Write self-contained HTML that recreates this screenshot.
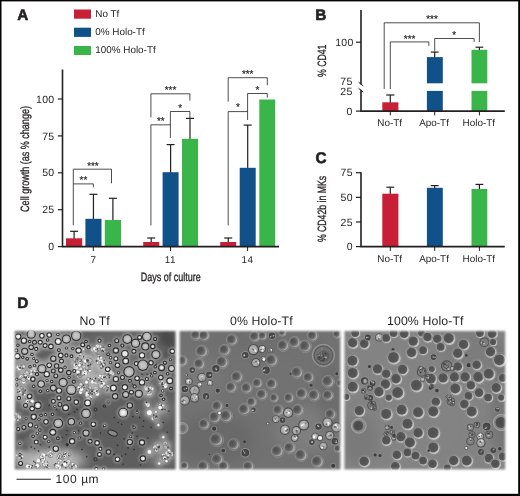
<!DOCTYPE html>
<html lang="en"><head><meta charset="utf-8"><title>Figure</title>
<style>html,body{margin:0;padding:0;background:#fff;}body{width:520px;height:496px;overflow:hidden;}svg{display:block;}text{text-rendering:geometricPrecision;font-family:"Liberation Sans", Arial, Helvetica, sans-serif;fill:#231f20;}</style>
</head><body>
<svg width="520" height="496" viewBox="0 0 520 496">
<rect x="0" y="0" width="520" height="496" fill="#ffffff"/>
<defs>
<filter id="bl0" x="-5%" y="-5%" width="110%" height="110%"><feGaussianBlur stdDeviation="0.42"/></filter>
<filter id="bl1" x="-5%" y="-5%" width="110%" height="110%"><feGaussianBlur stdDeviation="0.48"/></filter>
<filter id="blbig" x="-30%" y="-30%" width="160%" height="160%"><feGaussianBlur stdDeviation="6"/></filter>
<filter id="blhalo" x="-30%" y="-30%" width="160%" height="160%"><feGaussianBlur stdDeviation="0.9"/></filter>
<filter id="blmed" x="-30%" y="-30%" width="160%" height="160%"><feGaussianBlur stdDeviation="2.2"/></filter>
<filter id="feather" x="-5%" y="-5%" width="110%" height="110%"><feGaussianBlur stdDeviation="1.3"/></filter>
<radialGradient id="gd" cx="42%" cy="45%" r="62%"><stop offset="0" stop-color="#484848"/><stop offset="0.7" stop-color="#505050"/><stop offset="1" stop-color="#646464"/></radialGradient>
<radialGradient id="gd1" cx="42%" cy="45%" r="62%"><stop offset="0" stop-color="#505050"/><stop offset="0.7" stop-color="#565656"/><stop offset="1" stop-color="#6a6a6a"/></radialGradient>
<radialGradient id="gd0" cx="36%" cy="38%" r="70%"><stop offset="0" stop-color="#4e4e4e"/><stop offset="0.55" stop-color="#5e5e5e"/><stop offset="1" stop-color="#868686"/></radialGradient>
<radialGradient id="gk" cx="50%" cy="50%" r="60%"><stop offset="0" stop-color="#555"/><stop offset="1" stop-color="#3a3a3a"/></radialGradient>
<radialGradient id="gb" cx="45%" cy="45%" r="60%"><stop offset="0" stop-color="#c4c4c4"/><stop offset="0.7" stop-color="#a4a4a4"/><stop offset="1" stop-color="#7a7a7a"/></radialGradient>
<linearGradient id="rim0" x1="0" y1="0.2" x2="1" y2="0.8"><stop offset="0" stop-color="#6a6a6a"/><stop offset="0.5" stop-color="#8c8c8c"/><stop offset="1" stop-color="#b8b8b8"/></linearGradient>
<linearGradient id="rim1" x1="0.1" y1="0" x2="0.9" y2="1"><stop offset="0" stop-color="#888888"/><stop offset="0.5" stop-color="#a8a8a8"/><stop offset="1" stop-color="#d4d4d4"/></linearGradient>
<mask id="m1"><rect x="14.8" y="331" width="160.8" height="138.4" fill="#fff" filter="url(#feather)"/></mask>
<mask id="m2"><rect x="179.6" y="331" width="160.8" height="138.4" fill="#fff" filter="url(#feather)"/></mask>
<mask id="m3"><rect x="344.4" y="331" width="160.8" height="138.4" fill="#fff" filter="url(#feather)"/></mask>
</defs>
<g mask="url(#m1)">
<rect x="10" y="326" width="170" height="150" fill="#5e5e5e"/>
<g filter="url(#blbig)">
<ellipse cx="45" cy="355" rx="34" ry="26" fill="#9a9a9a" opacity="0.85"/>
<ellipse cx="125" cy="352" rx="45" ry="20" fill="#747474" opacity="0.6"/>
<ellipse cx="162" cy="340" rx="12" ry="9" fill="#505050" opacity="0.8"/>
<ellipse cx="92" cy="372" rx="16" ry="12" fill="#b0b0b0" opacity="0.8"/>
<ellipse cx="21" cy="385" rx="7" ry="24" fill="#989898" opacity="0.8"/>
<ellipse cx="100" cy="390" rx="14" ry="10" fill="#9a9a9a" opacity="0.5"/>
<ellipse cx="150" cy="378" rx="20" ry="12" fill="#7c7c7c" opacity="0.5"/>
<ellipse cx="160" cy="410" rx="12" ry="9" fill="#989898" opacity="0.7"/>
<ellipse cx="50" cy="460" rx="36" ry="10" fill="#c4c4c4" opacity="0.95"/>
<ellipse cx="160" cy="452" rx="13" ry="12" fill="#969696" opacity="0.75"/>
<ellipse cx="24" cy="440" rx="8" ry="14" fill="#8c8c8c" opacity="0.6"/>
<ellipse cx="50" cy="415" rx="26" ry="16" fill="#5c5c5c" opacity="0.6"/>
</g>
<g filter="url(#bl1)">
<circle cx="80.3" cy="362.0" r="7.5" fill="#c8c8c8" opacity="0.75" filter="url(#blmed)"/>
<circle cx="81.9" cy="373.4" r="5.6" fill="#c8c8c8" opacity="0.75" filter="url(#blmed)"/>
<circle cx="88.5" cy="366.9" r="4.7" fill="#c8c8c8" opacity="0.75" filter="url(#blmed)"/>
<circle cx="25.5" cy="376.7" r="5.6" fill="#c8c8c8" opacity="0.75" filter="url(#blmed)"/>
<circle cx="86.8" cy="386.5" r="5.6" fill="#c8c8c8" opacity="0.75" filter="url(#blmed)"/>
<circle cx="91.7" cy="391.4" r="4.7" fill="#c8c8c8" opacity="0.75" filter="url(#blmed)"/>
<circle cx="23.1" cy="391.4" r="4.7" fill="#c8c8c8" opacity="0.75" filter="url(#blmed)"/>
<circle cx="45.1" cy="353.8" r="4.9" fill="#484848" opacity="0.7" filter="url(#blmed)"/>
<circle cx="39.4" cy="355.4" r="3.6" fill="#484848" opacity="0.7" filter="url(#blmed)"/>
<circle cx="50.9" cy="352.2" r="3.3" fill="#484848" opacity="0.7" filter="url(#blmed)"/>
<circle cx="166.6" cy="353.8" r="3.3" fill="#484848" opacity="0.7" filter="url(#blmed)"/>
<circle cx="163.3" cy="383.2" r="4.1" fill="#c8c8c8" opacity="0.75" filter="url(#blmed)"/>
<circle cx="148.6" cy="391.4" r="6.6" fill="#c8c8c8" opacity="0.75" filter="url(#blmed)"/>
<circle cx="101.2" cy="348.9" r="4.7" fill="#c8c8c8" opacity="0.75" filter="url(#blmed)"/>
<circle cx="98.7" cy="358.7" r="3.8" fill="#c8c8c8" opacity="0.75" filter="url(#blmed)"/>
<circle cx="102.8" cy="366.9" r="4.7" fill="#c8c8c8" opacity="0.75" filter="url(#blmed)"/>
<circle cx="109.3" cy="375.0" r="4.7" fill="#c8c8c8" opacity="0.75" filter="url(#blmed)"/>
<circle cx="101.2" cy="381.6" r="5.6" fill="#c8c8c8" opacity="0.75" filter="url(#blmed)"/>
<circle cx="96.3" cy="391.4" r="3.8" fill="#c8c8c8" opacity="0.75" filter="url(#blmed)"/>
<circle cx="168.2" cy="338.3" r="6.5" fill="#484848" opacity="0.7" filter="url(#blmed)"/>
<circle cx="22.3" cy="437.2" r="4.1" fill="#484848" opacity="0.7" filter="url(#blmed)"/>
<circle cx="28.0" cy="433.1" r="2.9" fill="#484848" opacity="0.7" filter="url(#blmed)"/>
<circle cx="24.7" cy="447.0" r="3.6" fill="#484848" opacity="0.7" filter="url(#blmed)"/>
<circle cx="42.7" cy="458.5" r="5.3" fill="#c8c8c8" opacity="0.75" filter="url(#blmed)"/>
<circle cx="50.9" cy="455.2" r="4.1" fill="#c8c8c8" opacity="0.75" filter="url(#blmed)"/>
<circle cx="59.0" cy="457.7" r="5.3" fill="#c8c8c8" opacity="0.75" filter="url(#blmed)"/>
<circle cx="66.4" cy="455.2" r="4.7" fill="#c8c8c8" opacity="0.75" filter="url(#blmed)"/>
<circle cx="36.2" cy="463.4" r="4.1" fill="#c8c8c8" opacity="0.75" filter="url(#blmed)"/>
<circle cx="47.6" cy="465.0" r="4.7" fill="#c8c8c8" opacity="0.75" filter="url(#blmed)"/>
<circle cx="57.4" cy="465.8" r="4.1" fill="#c8c8c8" opacity="0.75" filter="url(#blmed)"/>
<circle cx="65.6" cy="464.2" r="4.7" fill="#c8c8c8" opacity="0.75" filter="url(#blmed)"/>
<circle cx="29.6" cy="466.6" r="3.8" fill="#c8c8c8" opacity="0.75" filter="url(#blmed)"/>
<circle cx="19.8" cy="455.2" r="4.7" fill="#c8c8c8" opacity="0.75" filter="url(#blmed)"/>
<circle cx="72.9" cy="466.6" r="3.8" fill="#c8c8c8" opacity="0.75" filter="url(#blmed)"/>
<circle cx="16.5" cy="417.6" r="4.7" fill="#c8c8c8" opacity="0.75" filter="url(#blmed)"/>
<circle cx="149.4" cy="412.7" r="5.1" fill="#c0c0c0" opacity="0.7" filter="url(#blmed)"/>
<circle cx="161.6" cy="407.8" r="4.7" fill="#c8c8c8" opacity="0.75" filter="url(#blmed)"/>
<circle cx="146.9" cy="403.7" r="2.8" fill="#c8c8c8" opacity="0.75" filter="url(#blmed)"/>
<circle cx="155.9" cy="411.9" r="3.0" fill="#c0c0c0" opacity="0.7" filter="url(#blmed)"/>
<circle cx="158.4" cy="425.0" r="3.3" fill="#c0c0c0" opacity="0.7" filter="url(#blmed)"/>
<circle cx="155.1" cy="417.6" r="3.8" fill="#c8c8c8" opacity="0.75" filter="url(#blmed)"/>
<circle cx="149.4" cy="451.9" r="4.3" fill="#c0c0c0" opacity="0.7" filter="url(#blmed)"/>
<circle cx="158.4" cy="447.0" r="4.7" fill="#c8c8c8" opacity="0.75" filter="url(#blmed)"/>
<circle cx="163.3" cy="437.2" r="3.3" fill="#c0c0c0" opacity="0.7" filter="url(#blmed)"/>
<circle cx="166.6" cy="445.4" r="3.8" fill="#c8c8c8" opacity="0.75" filter="url(#blmed)"/>
<circle cx="169.8" cy="453.6" r="4.7" fill="#c8c8c8" opacity="0.75" filter="url(#blmed)"/>
<circle cx="159.2" cy="463.4" r="3.3" fill="#c0c0c0" opacity="0.7" filter="url(#blmed)"/>
<circle cx="164.9" cy="458.5" r="4.7" fill="#c8c8c8" opacity="0.75" filter="url(#blmed)"/>
<circle cx="173.1" cy="451.9" r="3.3" fill="#484848" opacity="0.7" filter="url(#blmed)"/>
<circle cx="80.0" cy="352.0" r="5.2" fill="#c8c8c8" opacity="0.75" filter="url(#blmed)"/>
<circle cx="88.0" cy="360.0" r="6.3" fill="#c8c8c8" opacity="0.75" filter="url(#blmed)"/>
<circle cx="96.0" cy="350.0" r="5.2" fill="#c8c8c8" opacity="0.75" filter="url(#blmed)"/>
<circle cx="101.0" cy="363.0" r="6.3" fill="#c8c8c8" opacity="0.75" filter="url(#blmed)"/>
<circle cx="84.0" cy="372.0" r="6.3" fill="#c8c8c8" opacity="0.75" filter="url(#blmed)"/>
<circle cx="93.0" cy="381.0" r="6.3" fill="#c8c8c8" opacity="0.75" filter="url(#blmed)"/>
<circle cx="104.0" cy="377.0" r="5.2" fill="#c8c8c8" opacity="0.75" filter="url(#blmed)"/>
<circle cx="80.0" cy="388.0" r="5.2" fill="#c8c8c8" opacity="0.75" filter="url(#blmed)"/>
<circle cx="90.0" cy="395.0" r="5.2" fill="#c8c8c8" opacity="0.75" filter="url(#blmed)"/>
<circle cx="108.0" cy="389.0" r="4.6" fill="#c8c8c8" opacity="0.75" filter="url(#blmed)"/>
<circle cx="76.0" cy="364.0" r="4.6" fill="#c8c8c8" opacity="0.75" filter="url(#blmed)"/>
<circle cx="20.0" cy="368.0" r="4.6" fill="#c8c8c8" opacity="0.75" filter="url(#blmed)"/>
<circle cx="24.0" cy="380.0" r="5.2" fill="#c8c8c8" opacity="0.75" filter="url(#blmed)"/>
<circle cx="20.0" cy="392.0" r="5.2" fill="#c8c8c8" opacity="0.75" filter="url(#blmed)"/>
<circle cx="28.0" cy="401.0" r="5.2" fill="#c8c8c8" opacity="0.75" filter="url(#blmed)"/>
<circle cx="33.0" cy="372.0" r="4.0" fill="#c8c8c8" opacity="0.75" filter="url(#blmed)"/>
<circle cx="167.0" cy="336.0" r="6.0" fill="#484848" opacity="0.7" filter="url(#blmed)"/>
<circle cx="172.0" cy="345.0" r="5.0" fill="#484848" opacity="0.7" filter="url(#blmed)"/>
<circle cx="79.9" cy="362.8" r="1.9" fill="#fcfcfc" stroke="#5a5a5a" stroke-width="0.46"/>
<circle cx="83.3" cy="364.0" r="2.3" fill="#f8f8f8" stroke="#5a5a5a" stroke-width="0.26"/>
<circle cx="79.9" cy="362.1" r="1.2" fill="#dcdcdc" stroke="#5a5a5a" stroke-width="0.26"/>
<circle cx="74.9" cy="359.6" r="1.9" fill="#bebebe" stroke="#5a5a5a" stroke-width="0.49"/>
<circle cx="78.1" cy="360.8" r="2.4" fill="#fcfcfc" stroke="#5a5a5a" stroke-width="0.39"/>
<circle cx="82.0" cy="363.9" r="1.8" fill="#bebebe" stroke="#5a5a5a" stroke-width="0.33"/>
<circle cx="80.7" cy="360.9" r="1.9" fill="#a0a0a0" stroke="#5a5a5a" stroke-width="0.30"/>
<circle cx="83.9" cy="364.5" r="1.8" fill="#bebebe" stroke="#5a5a5a" stroke-width="0.30"/>
<circle cx="79.2" cy="359.6" r="1.5" fill="#bebebe" stroke="#5a5a5a" stroke-width="0.48"/>
<circle cx="79.3" cy="363.1" r="1.3" fill="#fafafa" stroke="#5a5a5a" stroke-width="0.31"/>
<circle cx="77.4" cy="360.5" r="2.2" fill="#a0a0a0" stroke="#5a5a5a" stroke-width="0.36"/>
<circle cx="79.9" cy="361.7" r="1.8" fill="#f8f8f8" stroke="#5a5a5a" stroke-width="0.44"/>
<circle cx="82.1" cy="364.6" r="0.5" fill="#404040"/>
<circle cx="77.8" cy="357.6" r="0.7" fill="#404040"/>
<circle cx="81.7" cy="360.5" r="0.8" fill="#404040"/>
<circle cx="77.1" cy="359.8" r="0.7" fill="#404040"/>
<circle cx="83.6" cy="356.7" r="0.7" fill="#404040"/>
<circle cx="80.1" cy="361.6" r="0.8" fill="#404040"/>
<circle cx="79.1" cy="369.7" r="2.2" fill="#ebebeb" stroke="#5a5a5a" stroke-width="0.43"/>
<circle cx="83.1" cy="372.3" r="2.3" fill="#ebebeb" stroke="#5a5a5a" stroke-width="0.29"/>
<circle cx="82.1" cy="373.6" r="2.1" fill="#f8f8f8" stroke="#5a5a5a" stroke-width="0.43"/>
<circle cx="78.5" cy="376.0" r="1.7" fill="#f8f8f8" stroke="#5a5a5a" stroke-width="0.36"/>
<circle cx="78.0" cy="372.2" r="2.2" fill="#fafafa" stroke="#5a5a5a" stroke-width="0.39"/>
<circle cx="80.7" cy="369.0" r="2.0" fill="#dcdcdc" stroke="#5a5a5a" stroke-width="0.49"/>
<circle cx="82.4" cy="374.1" r="1.4" fill="#f8f8f8" stroke="#5a5a5a" stroke-width="0.25"/>
<circle cx="82.3" cy="372.7" r="1.5" fill="#f8f8f8" stroke="#5a5a5a" stroke-width="0.35"/>
<circle cx="80.1" cy="375.3" r="2.3" fill="#a0a0a0" stroke="#5a5a5a" stroke-width="0.46"/>
<circle cx="85.0" cy="372.4" r="0.8" fill="#404040"/>
<circle cx="77.8" cy="374.6" r="0.9" fill="#404040"/>
<circle cx="80.8" cy="370.9" r="0.7" fill="#404040"/>
<circle cx="80.1" cy="374.9" r="0.7" fill="#404040"/>
<circle cx="89.9" cy="370.4" r="1.7" fill="#fcfcfc" stroke="#5a5a5a" stroke-width="0.34"/>
<circle cx="88.5" cy="366.9" r="1.3" fill="#fcfcfc" stroke="#5a5a5a" stroke-width="0.49"/>
<circle cx="88.3" cy="366.7" r="1.4" fill="#dcdcdc" stroke="#5a5a5a" stroke-width="0.29"/>
<circle cx="88.4" cy="368.2" r="1.6" fill="#fcfcfc" stroke="#5a5a5a" stroke-width="0.28"/>
<circle cx="84.7" cy="367.2" r="1.7" fill="#ebebeb" stroke="#5a5a5a" stroke-width="0.27"/>
<circle cx="89.5" cy="367.7" r="1.4" fill="#fafafa" stroke="#5a5a5a" stroke-width="0.42"/>
<circle cx="87.7" cy="366.8" r="2.3" fill="#ebebeb" stroke="#5a5a5a" stroke-width="0.29"/>
<circle cx="88.4" cy="366.8" r="1.8" fill="#a0a0a0" stroke="#5a5a5a" stroke-width="0.47"/>
<circle cx="88.1" cy="365.9" r="0.6" fill="#404040"/>
<circle cx="90.0" cy="369.6" r="0.7" fill="#404040"/>
<circle cx="88.7" cy="365.5" r="0.6" fill="#404040"/>
<circle cx="90.0" cy="363.1" r="0.8" fill="#404040"/>
<circle cx="26.8" cy="373.1" r="2.1" fill="#f8f8f8" stroke="#5a5a5a" stroke-width="0.30"/>
<circle cx="22.1" cy="376.8" r="2.4" fill="#fafafa" stroke="#5a5a5a" stroke-width="0.32"/>
<circle cx="25.3" cy="379.9" r="2.3" fill="#dcdcdc" stroke="#5a5a5a" stroke-width="0.45"/>
<circle cx="25.3" cy="375.1" r="2.4" fill="#fcfcfc" stroke="#5a5a5a" stroke-width="0.31"/>
<circle cx="25.7" cy="377.6" r="1.4" fill="#bebebe" stroke="#5a5a5a" stroke-width="0.50"/>
<circle cx="25.5" cy="376.7" r="2.3" fill="#ebebeb" stroke="#5a5a5a" stroke-width="0.45"/>
<circle cx="28.2" cy="378.2" r="2.3" fill="#fafafa" stroke="#5a5a5a" stroke-width="0.43"/>
<circle cx="26.8" cy="380.6" r="1.7" fill="#a0a0a0" stroke="#5a5a5a" stroke-width="0.33"/>
<circle cx="26.9" cy="372.4" r="1.6" fill="#dcdcdc" stroke="#5a5a5a" stroke-width="0.44"/>
<circle cx="26.2" cy="377.1" r="0.9" fill="#404040"/>
<circle cx="28.4" cy="377.2" r="0.7" fill="#404040"/>
<circle cx="23.9" cy="374.2" r="0.7" fill="#404040"/>
<circle cx="21.0" cy="377.4" r="0.6" fill="#404040"/>
<circle cx="86.7" cy="386.4" r="2.1" fill="#a0a0a0" stroke="#5a5a5a" stroke-width="0.41"/>
<circle cx="82.5" cy="385.8" r="1.7" fill="#fafafa" stroke="#5a5a5a" stroke-width="0.30"/>
<circle cx="86.9" cy="386.4" r="1.4" fill="#bebebe" stroke="#5a5a5a" stroke-width="0.31"/>
<circle cx="85.8" cy="385.9" r="1.6" fill="#f8f8f8" stroke="#5a5a5a" stroke-width="0.27"/>
<circle cx="86.5" cy="382.3" r="2.0" fill="#fafafa" stroke="#5a5a5a" stroke-width="0.48"/>
<circle cx="83.1" cy="388.5" r="1.8" fill="#bebebe" stroke="#5a5a5a" stroke-width="0.29"/>
<circle cx="82.8" cy="386.2" r="2.1" fill="#bebebe" stroke="#5a5a5a" stroke-width="0.25"/>
<circle cx="87.1" cy="385.7" r="1.7" fill="#a0a0a0" stroke="#5a5a5a" stroke-width="0.28"/>
<circle cx="89.8" cy="387.7" r="1.8" fill="#dcdcdc" stroke="#5a5a5a" stroke-width="0.45"/>
<circle cx="89.0" cy="388.2" r="0.6" fill="#404040"/>
<circle cx="86.2" cy="390.2" r="0.7" fill="#404040"/>
<circle cx="83.4" cy="385.1" r="0.9" fill="#404040"/>
<circle cx="84.0" cy="387.5" r="0.7" fill="#404040"/>
<circle cx="89.0" cy="391.2" r="1.7" fill="#bebebe" stroke="#5a5a5a" stroke-width="0.45"/>
<circle cx="90.8" cy="391.3" r="1.8" fill="#ebebeb" stroke="#5a5a5a" stroke-width="0.48"/>
<circle cx="92.3" cy="390.9" r="1.7" fill="#dcdcdc" stroke="#5a5a5a" stroke-width="0.28"/>
<circle cx="91.5" cy="391.5" r="1.4" fill="#fcfcfc" stroke="#5a5a5a" stroke-width="0.30"/>
<circle cx="91.6" cy="391.8" r="2.1" fill="#a0a0a0" stroke="#5a5a5a" stroke-width="0.41"/>
<circle cx="91.1" cy="392.1" r="1.3" fill="#dcdcdc" stroke="#5a5a5a" stroke-width="0.30"/>
<circle cx="93.2" cy="390.9" r="1.7" fill="#a0a0a0" stroke="#5a5a5a" stroke-width="0.46"/>
<circle cx="92.6" cy="392.8" r="1.8" fill="#ebebeb" stroke="#5a5a5a" stroke-width="0.36"/>
<circle cx="91.5" cy="391.7" r="0.6" fill="#404040"/>
<circle cx="90.7" cy="393.0" r="0.8" fill="#404040"/>
<circle cx="90.1" cy="392.8" r="0.6" fill="#404040"/>
<circle cx="92.2" cy="391.3" r="0.9" fill="#404040"/>
<circle cx="23.5" cy="394.8" r="1.2" fill="#ebebeb" stroke="#5a5a5a" stroke-width="0.26"/>
<circle cx="23.3" cy="390.3" r="1.3" fill="#dcdcdc" stroke="#5a5a5a" stroke-width="0.46"/>
<circle cx="21.4" cy="388.1" r="1.6" fill="#bebebe" stroke="#5a5a5a" stroke-width="0.48"/>
<circle cx="20.6" cy="390.2" r="1.2" fill="#fcfcfc" stroke="#5a5a5a" stroke-width="0.45"/>
<circle cx="24.5" cy="394.6" r="1.4" fill="#fcfcfc" stroke="#5a5a5a" stroke-width="0.41"/>
<circle cx="23.2" cy="391.1" r="2.2" fill="#fcfcfc" stroke="#5a5a5a" stroke-width="0.32"/>
<circle cx="23.1" cy="391.4" r="2.4" fill="#dcdcdc" stroke="#5a5a5a" stroke-width="0.48"/>
<circle cx="23.0" cy="391.9" r="1.8" fill="#f8f8f8" stroke="#5a5a5a" stroke-width="0.48"/>
<circle cx="24.1" cy="391.2" r="0.6" fill="#404040"/>
<circle cx="25.4" cy="390.3" r="0.7" fill="#404040"/>
<circle cx="23.6" cy="393.1" r="0.8" fill="#404040"/>
<circle cx="22.7" cy="394.6" r="0.9" fill="#404040"/>
<circle cx="163.3" cy="383.2" r="1.8" fill="#f8f8f8" stroke="#5a5a5a" stroke-width="0.38"/>
<circle cx="163.3" cy="384.7" r="2.0" fill="#a0a0a0" stroke="#5a5a5a" stroke-width="0.36"/>
<circle cx="160.4" cy="383.3" r="1.6" fill="#bebebe" stroke="#5a5a5a" stroke-width="0.33"/>
<circle cx="163.5" cy="384.0" r="1.4" fill="#a0a0a0" stroke="#5a5a5a" stroke-width="0.43"/>
<circle cx="165.4" cy="385.8" r="2.4" fill="#fafafa" stroke="#5a5a5a" stroke-width="0.28"/>
<circle cx="165.6" cy="384.3" r="1.4" fill="#f8f8f8" stroke="#5a5a5a" stroke-width="0.26"/>
<circle cx="162.6" cy="382.1" r="1.8" fill="#ebebeb" stroke="#5a5a5a" stroke-width="0.40"/>
<circle cx="163.2" cy="383.1" r="1.3" fill="#ebebeb" stroke="#5a5a5a" stroke-width="0.36"/>
<circle cx="163.0" cy="386.7" r="0.9" fill="#404040"/>
<circle cx="162.4" cy="383.0" r="0.9" fill="#404040"/>
<circle cx="162.8" cy="384.4" r="0.5" fill="#404040"/>
<circle cx="162.0" cy="384.4" r="0.7" fill="#404040"/>
<circle cx="149.4" cy="394.0" r="1.1" fill="#ebebeb" stroke="#5a5a5a" stroke-width="0.45"/>
<circle cx="150.5" cy="393.9" r="1.6" fill="#ebebeb" stroke="#5a5a5a" stroke-width="0.33"/>
<circle cx="148.9" cy="394.5" r="1.8" fill="#fafafa" stroke="#5a5a5a" stroke-width="0.29"/>
<circle cx="151.9" cy="388.7" r="1.9" fill="#fafafa" stroke="#5a5a5a" stroke-width="0.33"/>
<circle cx="149.4" cy="391.3" r="2.0" fill="#a0a0a0" stroke="#5a5a5a" stroke-width="0.29"/>
<circle cx="150.3" cy="387.9" r="1.8" fill="#dcdcdc" stroke="#5a5a5a" stroke-width="0.43"/>
<circle cx="148.9" cy="390.7" r="1.8" fill="#bebebe" stroke="#5a5a5a" stroke-width="0.39"/>
<circle cx="148.6" cy="391.3" r="2.0" fill="#fafafa" stroke="#5a5a5a" stroke-width="0.47"/>
<circle cx="147.0" cy="387.9" r="1.4" fill="#fcfcfc" stroke="#5a5a5a" stroke-width="0.26"/>
<circle cx="145.2" cy="387.4" r="1.6" fill="#dcdcdc" stroke="#5a5a5a" stroke-width="0.39"/>
<circle cx="146.2" cy="388.9" r="2.0" fill="#dcdcdc" stroke="#5a5a5a" stroke-width="0.32"/>
<circle cx="148.2" cy="391.5" r="0.9" fill="#404040"/>
<circle cx="149.0" cy="391.1" r="0.7" fill="#404040"/>
<circle cx="148.5" cy="388.7" r="0.8" fill="#404040"/>
<circle cx="149.3" cy="390.3" r="0.8" fill="#404040"/>
<circle cx="149.0" cy="395.1" r="0.7" fill="#404040"/>
<circle cx="101.3" cy="348.6" r="2.3" fill="#ebebeb" stroke="#5a5a5a" stroke-width="0.44"/>
<circle cx="99.3" cy="347.2" r="1.2" fill="#f8f8f8" stroke="#5a5a5a" stroke-width="0.33"/>
<circle cx="99.6" cy="346.7" r="1.9" fill="#f8f8f8" stroke="#5a5a5a" stroke-width="0.25"/>
<circle cx="102.1" cy="349.3" r="2.0" fill="#a0a0a0" stroke="#5a5a5a" stroke-width="0.30"/>
<circle cx="98.4" cy="349.1" r="1.5" fill="#dcdcdc" stroke="#5a5a5a" stroke-width="0.37"/>
<circle cx="103.7" cy="351.2" r="1.4" fill="#fcfcfc" stroke="#5a5a5a" stroke-width="0.48"/>
<circle cx="102.9" cy="349.1" r="2.2" fill="#dcdcdc" stroke="#5a5a5a" stroke-width="0.50"/>
<circle cx="98.5" cy="351.2" r="2.3" fill="#fcfcfc" stroke="#5a5a5a" stroke-width="0.40"/>
<circle cx="102.5" cy="350.5" r="0.9" fill="#404040"/>
<circle cx="103.4" cy="351.4" r="0.7" fill="#404040"/>
<circle cx="103.3" cy="347.0" r="0.6" fill="#404040"/>
<circle cx="102.8" cy="347.7" r="0.5" fill="#404040"/>
<circle cx="100.2" cy="358.7" r="1.7" fill="#ebebeb" stroke="#5a5a5a" stroke-width="0.43"/>
<circle cx="97.7" cy="359.3" r="1.3" fill="#ebebeb" stroke="#5a5a5a" stroke-width="0.25"/>
<circle cx="98.7" cy="356.1" r="1.3" fill="#f8f8f8" stroke="#5a5a5a" stroke-width="0.43"/>
<circle cx="99.5" cy="358.2" r="1.6" fill="#dcdcdc" stroke="#5a5a5a" stroke-width="0.35"/>
<circle cx="98.9" cy="358.5" r="2.3" fill="#fafafa" stroke="#5a5a5a" stroke-width="0.32"/>
<circle cx="99.0" cy="358.8" r="2.2" fill="#ebebeb" stroke="#5a5a5a" stroke-width="0.41"/>
<circle cx="100.5" cy="361.1" r="1.7" fill="#ebebeb" stroke="#5a5a5a" stroke-width="0.30"/>
<circle cx="96.5" cy="360.9" r="0.9" fill="#404040"/>
<circle cx="99.5" cy="356.8" r="0.9" fill="#404040"/>
<circle cx="100.4" cy="358.0" r="0.8" fill="#404040"/>
<circle cx="105.5" cy="367.7" r="1.7" fill="#fafafa" stroke="#5a5a5a" stroke-width="0.28"/>
<circle cx="104.1" cy="365.5" r="2.3" fill="#bebebe" stroke="#5a5a5a" stroke-width="0.28"/>
<circle cx="101.5" cy="367.1" r="1.5" fill="#a0a0a0" stroke="#5a5a5a" stroke-width="0.43"/>
<circle cx="101.9" cy="365.6" r="1.4" fill="#dcdcdc" stroke="#5a5a5a" stroke-width="0.39"/>
<circle cx="102.3" cy="367.3" r="1.3" fill="#f8f8f8" stroke="#5a5a5a" stroke-width="0.38"/>
<circle cx="103.6" cy="364.9" r="1.7" fill="#ebebeb" stroke="#5a5a5a" stroke-width="0.50"/>
<circle cx="102.3" cy="367.0" r="1.4" fill="#fcfcfc" stroke="#5a5a5a" stroke-width="0.29"/>
<circle cx="101.6" cy="366.4" r="1.6" fill="#fafafa" stroke="#5a5a5a" stroke-width="0.39"/>
<circle cx="105.1" cy="364.9" r="0.7" fill="#404040"/>
<circle cx="101.0" cy="368.0" r="0.7" fill="#404040"/>
<circle cx="102.7" cy="367.1" r="0.6" fill="#404040"/>
<circle cx="103.3" cy="366.8" r="0.7" fill="#404040"/>
<circle cx="107.0" cy="372.6" r="1.4" fill="#ebebeb" stroke="#5a5a5a" stroke-width="0.47"/>
<circle cx="107.5" cy="376.7" r="1.7" fill="#ebebeb" stroke="#5a5a5a" stroke-width="0.46"/>
<circle cx="109.4" cy="375.0" r="1.1" fill="#a0a0a0" stroke="#5a5a5a" stroke-width="0.44"/>
<circle cx="110.6" cy="371.5" r="1.7" fill="#fcfcfc" stroke="#5a5a5a" stroke-width="0.35"/>
<circle cx="112.2" cy="373.6" r="2.2" fill="#dcdcdc" stroke="#5a5a5a" stroke-width="0.31"/>
<circle cx="109.8" cy="375.4" r="1.8" fill="#a0a0a0" stroke="#5a5a5a" stroke-width="0.28"/>
<circle cx="110.6" cy="372.6" r="2.2" fill="#dcdcdc" stroke="#5a5a5a" stroke-width="0.27"/>
<circle cx="109.3" cy="375.0" r="1.3" fill="#bebebe" stroke="#5a5a5a" stroke-width="0.48"/>
<circle cx="108.6" cy="374.1" r="0.6" fill="#404040"/>
<circle cx="109.3" cy="377.6" r="0.8" fill="#404040"/>
<circle cx="109.6" cy="375.2" r="0.7" fill="#404040"/>
<circle cx="108.0" cy="374.2" r="0.6" fill="#404040"/>
<circle cx="101.1" cy="381.5" r="1.5" fill="#dcdcdc" stroke="#5a5a5a" stroke-width="0.32"/>
<circle cx="99.6" cy="385.2" r="1.4" fill="#bebebe" stroke="#5a5a5a" stroke-width="0.31"/>
<circle cx="101.3" cy="386.0" r="2.0" fill="#ebebeb" stroke="#5a5a5a" stroke-width="0.26"/>
<circle cx="102.6" cy="385.4" r="1.9" fill="#fcfcfc" stroke="#5a5a5a" stroke-width="0.31"/>
<circle cx="99.0" cy="377.8" r="1.4" fill="#fcfcfc" stroke="#5a5a5a" stroke-width="0.42"/>
<circle cx="100.8" cy="379.9" r="1.6" fill="#fcfcfc" stroke="#5a5a5a" stroke-width="0.45"/>
<circle cx="101.0" cy="379.2" r="1.4" fill="#f8f8f8" stroke="#5a5a5a" stroke-width="0.33"/>
<circle cx="101.6" cy="380.6" r="1.4" fill="#fafafa" stroke="#5a5a5a" stroke-width="0.47"/>
<circle cx="103.4" cy="383.4" r="1.9" fill="#f8f8f8" stroke="#5a5a5a" stroke-width="0.37"/>
<circle cx="101.4" cy="381.4" r="0.7" fill="#404040"/>
<circle cx="101.4" cy="381.4" r="0.5" fill="#404040"/>
<circle cx="99.5" cy="380.4" r="0.8" fill="#404040"/>
<circle cx="102.1" cy="383.6" r="0.8" fill="#404040"/>
<circle cx="96.1" cy="391.7" r="1.2" fill="#f8f8f8" stroke="#5a5a5a" stroke-width="0.33"/>
<circle cx="97.4" cy="394.1" r="2.1" fill="#fcfcfc" stroke="#5a5a5a" stroke-width="0.33"/>
<circle cx="95.9" cy="388.8" r="2.4" fill="#dcdcdc" stroke="#5a5a5a" stroke-width="0.29"/>
<circle cx="97.1" cy="391.4" r="1.6" fill="#fcfcfc" stroke="#5a5a5a" stroke-width="0.39"/>
<circle cx="96.3" cy="390.2" r="2.1" fill="#ebebeb" stroke="#5a5a5a" stroke-width="0.46"/>
<circle cx="96.1" cy="391.4" r="1.7" fill="#ebebeb" stroke="#5a5a5a" stroke-width="0.39"/>
<circle cx="95.3" cy="391.7" r="2.1" fill="#dcdcdc" stroke="#5a5a5a" stroke-width="0.26"/>
<circle cx="94.0" cy="392.8" r="0.8" fill="#404040"/>
<circle cx="96.4" cy="391.4" r="0.5" fill="#404040"/>
<circle cx="97.0" cy="391.0" r="0.8" fill="#404040"/>
<circle cx="43.9" cy="457.6" r="1.5" fill="#bebebe" stroke="#5a5a5a" stroke-width="0.26"/>
<circle cx="42.6" cy="455.5" r="2.3" fill="#ebebeb" stroke="#5a5a5a" stroke-width="0.25"/>
<circle cx="42.8" cy="454.5" r="1.9" fill="#fcfcfc" stroke="#5a5a5a" stroke-width="0.26"/>
<circle cx="42.9" cy="460.5" r="2.3" fill="#fafafa" stroke="#5a5a5a" stroke-width="0.35"/>
<circle cx="42.7" cy="460.3" r="1.7" fill="#dcdcdc" stroke="#5a5a5a" stroke-width="0.30"/>
<circle cx="43.7" cy="455.4" r="2.2" fill="#fafafa" stroke="#5a5a5a" stroke-width="0.29"/>
<circle cx="43.0" cy="462.2" r="1.7" fill="#fafafa" stroke="#5a5a5a" stroke-width="0.45"/>
<circle cx="43.4" cy="458.9" r="2.1" fill="#f8f8f8" stroke="#5a5a5a" stroke-width="0.35"/>
<circle cx="41.5" cy="456.8" r="1.8" fill="#f8f8f8" stroke="#5a5a5a" stroke-width="0.50"/>
<circle cx="46.0" cy="455.4" r="0.6" fill="#404040"/>
<circle cx="43.1" cy="458.7" r="0.7" fill="#404040"/>
<circle cx="42.2" cy="456.5" r="0.6" fill="#404040"/>
<circle cx="40.2" cy="459.9" r="0.8" fill="#404040"/>
<circle cx="50.8" cy="452.3" r="2.0" fill="#fcfcfc" stroke="#5a5a5a" stroke-width="0.44"/>
<circle cx="50.6" cy="456.1" r="1.4" fill="#ebebeb" stroke="#5a5a5a" stroke-width="0.43"/>
<circle cx="51.1" cy="456.0" r="1.4" fill="#f8f8f8" stroke="#5a5a5a" stroke-width="0.32"/>
<circle cx="51.4" cy="454.9" r="1.2" fill="#ebebeb" stroke="#5a5a5a" stroke-width="0.50"/>
<circle cx="50.1" cy="455.2" r="2.2" fill="#a0a0a0" stroke="#5a5a5a" stroke-width="0.37"/>
<circle cx="50.9" cy="455.2" r="2.2" fill="#f8f8f8" stroke="#5a5a5a" stroke-width="0.46"/>
<circle cx="51.0" cy="455.1" r="1.5" fill="#fcfcfc" stroke="#5a5a5a" stroke-width="0.26"/>
<circle cx="48.6" cy="453.5" r="1.4" fill="#fcfcfc" stroke="#5a5a5a" stroke-width="0.34"/>
<circle cx="51.9" cy="454.0" r="0.6" fill="#404040"/>
<circle cx="51.4" cy="451.9" r="0.5" fill="#404040"/>
<circle cx="49.0" cy="453.9" r="0.6" fill="#404040"/>
<circle cx="50.5" cy="455.6" r="0.6" fill="#404040"/>
<circle cx="59.0" cy="460.3" r="1.9" fill="#f8f8f8" stroke="#5a5a5a" stroke-width="0.45"/>
<circle cx="59.8" cy="456.0" r="1.6" fill="#bebebe" stroke="#5a5a5a" stroke-width="0.33"/>
<circle cx="60.0" cy="461.0" r="1.8" fill="#fcfcfc" stroke="#5a5a5a" stroke-width="0.35"/>
<circle cx="59.8" cy="454.9" r="1.3" fill="#bebebe" stroke="#5a5a5a" stroke-width="0.27"/>
<circle cx="60.6" cy="460.2" r="1.6" fill="#ebebeb" stroke="#5a5a5a" stroke-width="0.42"/>
<circle cx="58.8" cy="457.8" r="2.1" fill="#ebebeb" stroke="#5a5a5a" stroke-width="0.35"/>
<circle cx="62.3" cy="458.0" r="2.1" fill="#a0a0a0" stroke="#5a5a5a" stroke-width="0.30"/>
<circle cx="58.9" cy="456.8" r="1.1" fill="#f8f8f8" stroke="#5a5a5a" stroke-width="0.36"/>
<circle cx="59.8" cy="456.1" r="2.2" fill="#dcdcdc" stroke="#5a5a5a" stroke-width="0.44"/>
<circle cx="59.2" cy="457.8" r="0.6" fill="#404040"/>
<circle cx="59.7" cy="456.0" r="0.7" fill="#404040"/>
<circle cx="62.1" cy="456.2" r="0.6" fill="#404040"/>
<circle cx="58.6" cy="458.3" r="0.6" fill="#404040"/>
<circle cx="67.8" cy="455.8" r="2.1" fill="#fafafa" stroke="#5a5a5a" stroke-width="0.49"/>
<circle cx="66.6" cy="455.7" r="2.3" fill="#dcdcdc" stroke="#5a5a5a" stroke-width="0.33"/>
<circle cx="64.5" cy="453.7" r="1.2" fill="#a0a0a0" stroke="#5a5a5a" stroke-width="0.41"/>
<circle cx="66.7" cy="454.7" r="2.1" fill="#f8f8f8" stroke="#5a5a5a" stroke-width="0.41"/>
<circle cx="65.8" cy="454.7" r="1.7" fill="#bebebe" stroke="#5a5a5a" stroke-width="0.30"/>
<circle cx="64.8" cy="456.4" r="1.6" fill="#fcfcfc" stroke="#5a5a5a" stroke-width="0.29"/>
<circle cx="69.5" cy="454.6" r="1.4" fill="#bebebe" stroke="#5a5a5a" stroke-width="0.46"/>
<circle cx="65.2" cy="452.9" r="1.5" fill="#dcdcdc" stroke="#5a5a5a" stroke-width="0.40"/>
<circle cx="64.0" cy="454.4" r="0.6" fill="#404040"/>
<circle cx="64.3" cy="456.4" r="0.7" fill="#404040"/>
<circle cx="65.4" cy="453.7" r="0.7" fill="#404040"/>
<circle cx="68.9" cy="455.6" r="0.7" fill="#404040"/>
<circle cx="36.4" cy="466.0" r="2.1" fill="#dcdcdc" stroke="#5a5a5a" stroke-width="0.46"/>
<circle cx="36.7" cy="462.1" r="1.2" fill="#ebebeb" stroke="#5a5a5a" stroke-width="0.36"/>
<circle cx="37.4" cy="464.2" r="1.8" fill="#fcfcfc" stroke="#5a5a5a" stroke-width="0.26"/>
<circle cx="38.3" cy="465.7" r="1.5" fill="#a0a0a0" stroke="#5a5a5a" stroke-width="0.38"/>
<circle cx="37.8" cy="464.0" r="1.6" fill="#fafafa" stroke="#5a5a5a" stroke-width="0.28"/>
<circle cx="38.3" cy="460.7" r="2.1" fill="#fafafa" stroke="#5a5a5a" stroke-width="0.28"/>
<circle cx="38.2" cy="465.6" r="1.5" fill="#fafafa" stroke="#5a5a5a" stroke-width="0.48"/>
<circle cx="37.5" cy="465.7" r="2.3" fill="#fcfcfc" stroke="#5a5a5a" stroke-width="0.46"/>
<circle cx="35.5" cy="462.8" r="0.6" fill="#404040"/>
<circle cx="33.7" cy="461.3" r="0.7" fill="#404040"/>
<circle cx="36.1" cy="466.8" r="0.7" fill="#404040"/>
<circle cx="34.3" cy="462.2" r="0.6" fill="#404040"/>
<circle cx="47.1" cy="465.6" r="1.6" fill="#a0a0a0" stroke="#5a5a5a" stroke-width="0.48"/>
<circle cx="46.1" cy="461.9" r="1.3" fill="#fafafa" stroke="#5a5a5a" stroke-width="0.32"/>
<circle cx="47.6" cy="464.8" r="2.2" fill="#fafafa" stroke="#5a5a5a" stroke-width="0.36"/>
<circle cx="44.9" cy="464.7" r="2.3" fill="#ebebeb" stroke="#5a5a5a" stroke-width="0.50"/>
<circle cx="46.5" cy="463.9" r="2.1" fill="#ebebeb" stroke="#5a5a5a" stroke-width="0.34"/>
<circle cx="47.2" cy="465.4" r="1.5" fill="#fcfcfc" stroke="#5a5a5a" stroke-width="0.36"/>
<circle cx="48.9" cy="467.6" r="1.2" fill="#fafafa" stroke="#5a5a5a" stroke-width="0.38"/>
<circle cx="46.2" cy="468.5" r="2.2" fill="#a0a0a0" stroke="#5a5a5a" stroke-width="0.47"/>
<circle cx="47.3" cy="462.0" r="0.6" fill="#404040"/>
<circle cx="46.9" cy="467.5" r="0.7" fill="#404040"/>
<circle cx="47.5" cy="465.2" r="0.7" fill="#404040"/>
<circle cx="47.5" cy="464.9" r="0.5" fill="#404040"/>
<circle cx="56.5" cy="465.4" r="1.8" fill="#bebebe" stroke="#5a5a5a" stroke-width="0.31"/>
<circle cx="55.7" cy="464.8" r="1.4" fill="#bebebe" stroke="#5a5a5a" stroke-width="0.46"/>
<circle cx="57.4" cy="465.9" r="2.1" fill="#a0a0a0" stroke="#5a5a5a" stroke-width="0.29"/>
<circle cx="59.2" cy="467.1" r="2.2" fill="#fafafa" stroke="#5a5a5a" stroke-width="0.32"/>
<circle cx="58.6" cy="462.8" r="1.2" fill="#fafafa" stroke="#5a5a5a" stroke-width="0.39"/>
<circle cx="56.1" cy="467.6" r="1.7" fill="#bebebe" stroke="#5a5a5a" stroke-width="0.43"/>
<circle cx="57.4" cy="468.9" r="1.2" fill="#bebebe" stroke="#5a5a5a" stroke-width="0.26"/>
<circle cx="57.6" cy="466.3" r="2.3" fill="#fcfcfc" stroke="#5a5a5a" stroke-width="0.25"/>
<circle cx="54.2" cy="464.8" r="0.6" fill="#404040"/>
<circle cx="58.1" cy="467.9" r="0.7" fill="#404040"/>
<circle cx="55.6" cy="463.6" r="0.6" fill="#404040"/>
<circle cx="57.0" cy="466.8" r="0.5" fill="#404040"/>
<circle cx="67.9" cy="462.2" r="2.0" fill="#fcfcfc" stroke="#5a5a5a" stroke-width="0.34"/>
<circle cx="62.3" cy="465.6" r="1.2" fill="#a0a0a0" stroke="#5a5a5a" stroke-width="0.36"/>
<circle cx="65.6" cy="464.6" r="1.4" fill="#fcfcfc" stroke="#5a5a5a" stroke-width="0.28"/>
<circle cx="68.4" cy="461.9" r="2.3" fill="#ebebeb" stroke="#5a5a5a" stroke-width="0.43"/>
<circle cx="65.4" cy="466.3" r="1.7" fill="#fafafa" stroke="#5a5a5a" stroke-width="0.48"/>
<circle cx="66.7" cy="464.0" r="2.3" fill="#f8f8f8" stroke="#5a5a5a" stroke-width="0.27"/>
<circle cx="64.9" cy="464.2" r="2.3" fill="#fafafa" stroke="#5a5a5a" stroke-width="0.44"/>
<circle cx="68.3" cy="463.2" r="1.5" fill="#dcdcdc" stroke="#5a5a5a" stroke-width="0.33"/>
<circle cx="65.8" cy="467.9" r="0.8" fill="#404040"/>
<circle cx="64.6" cy="461.7" r="0.9" fill="#404040"/>
<circle cx="62.2" cy="464.9" r="0.8" fill="#404040"/>
<circle cx="66.7" cy="462.8" r="0.8" fill="#404040"/>
<circle cx="28.7" cy="466.2" r="1.4" fill="#bebebe" stroke="#5a5a5a" stroke-width="0.40"/>
<circle cx="29.1" cy="466.4" r="1.1" fill="#fcfcfc" stroke="#5a5a5a" stroke-width="0.28"/>
<circle cx="30.6" cy="466.2" r="1.3" fill="#fcfcfc" stroke="#5a5a5a" stroke-width="0.26"/>
<circle cx="30.9" cy="468.2" r="1.2" fill="#fcfcfc" stroke="#5a5a5a" stroke-width="0.43"/>
<circle cx="31.3" cy="467.4" r="1.6" fill="#fafafa" stroke="#5a5a5a" stroke-width="0.49"/>
<circle cx="27.6" cy="466.2" r="2.2" fill="#fafafa" stroke="#5a5a5a" stroke-width="0.48"/>
<circle cx="29.9" cy="466.5" r="1.4" fill="#fcfcfc" stroke="#5a5a5a" stroke-width="0.26"/>
<circle cx="32.4" cy="465.7" r="0.8" fill="#404040"/>
<circle cx="31.7" cy="467.9" r="0.8" fill="#404040"/>
<circle cx="29.2" cy="466.7" r="0.8" fill="#404040"/>
<circle cx="19.1" cy="454.3" r="1.5" fill="#ebebeb" stroke="#5a5a5a" stroke-width="0.26"/>
<circle cx="19.8" cy="456.3" r="2.0" fill="#ebebeb" stroke="#5a5a5a" stroke-width="0.48"/>
<circle cx="20.1" cy="452.9" r="1.7" fill="#ebebeb" stroke="#5a5a5a" stroke-width="0.40"/>
<circle cx="21.4" cy="455.5" r="1.7" fill="#fafafa" stroke="#5a5a5a" stroke-width="0.27"/>
<circle cx="19.6" cy="455.2" r="1.8" fill="#a0a0a0" stroke="#5a5a5a" stroke-width="0.47"/>
<circle cx="22.5" cy="456.9" r="1.3" fill="#fcfcfc" stroke="#5a5a5a" stroke-width="0.38"/>
<circle cx="19.1" cy="458.0" r="1.2" fill="#ebebeb" stroke="#5a5a5a" stroke-width="0.37"/>
<circle cx="16.7" cy="455.4" r="1.3" fill="#dcdcdc" stroke="#5a5a5a" stroke-width="0.40"/>
<circle cx="21.8" cy="454.6" r="0.7" fill="#404040"/>
<circle cx="21.6" cy="458.0" r="0.9" fill="#404040"/>
<circle cx="19.9" cy="455.9" r="0.9" fill="#404040"/>
<circle cx="20.0" cy="453.2" r="0.9" fill="#404040"/>
<circle cx="72.6" cy="466.5" r="1.5" fill="#fcfcfc" stroke="#5a5a5a" stroke-width="0.35"/>
<circle cx="70.8" cy="468.4" r="1.2" fill="#a0a0a0" stroke="#5a5a5a" stroke-width="0.26"/>
<circle cx="73.2" cy="467.4" r="2.3" fill="#bebebe" stroke="#5a5a5a" stroke-width="0.29"/>
<circle cx="74.9" cy="466.4" r="2.3" fill="#f8f8f8" stroke="#5a5a5a" stroke-width="0.38"/>
<circle cx="73.0" cy="464.3" r="1.9" fill="#ebebeb" stroke="#5a5a5a" stroke-width="0.40"/>
<circle cx="70.3" cy="466.3" r="1.7" fill="#bebebe" stroke="#5a5a5a" stroke-width="0.44"/>
<circle cx="73.6" cy="467.8" r="2.1" fill="#bebebe" stroke="#5a5a5a" stroke-width="0.31"/>
<circle cx="71.9" cy="468.5" r="0.8" fill="#404040"/>
<circle cx="72.1" cy="466.6" r="0.8" fill="#404040"/>
<circle cx="73.9" cy="464.9" r="0.8" fill="#404040"/>
<circle cx="19.3" cy="417.2" r="1.9" fill="#ebebeb" stroke="#5a5a5a" stroke-width="0.29"/>
<circle cx="16.2" cy="418.3" r="2.4" fill="#a0a0a0" stroke="#5a5a5a" stroke-width="0.50"/>
<circle cx="17.8" cy="419.8" r="1.4" fill="#f8f8f8" stroke="#5a5a5a" stroke-width="0.50"/>
<circle cx="17.3" cy="414.9" r="1.7" fill="#f8f8f8" stroke="#5a5a5a" stroke-width="0.28"/>
<circle cx="17.5" cy="417.0" r="2.3" fill="#dcdcdc" stroke="#5a5a5a" stroke-width="0.26"/>
<circle cx="14.1" cy="419.4" r="2.0" fill="#bebebe" stroke="#5a5a5a" stroke-width="0.50"/>
<circle cx="16.5" cy="417.7" r="1.4" fill="#a0a0a0" stroke="#5a5a5a" stroke-width="0.35"/>
<circle cx="16.3" cy="414.1" r="1.7" fill="#bebebe" stroke="#5a5a5a" stroke-width="0.40"/>
<circle cx="14.5" cy="414.9" r="0.8" fill="#404040"/>
<circle cx="14.5" cy="414.7" r="0.8" fill="#404040"/>
<circle cx="15.7" cy="417.1" r="0.6" fill="#404040"/>
<circle cx="17.8" cy="418.9" r="0.6" fill="#404040"/>
<circle cx="149.4" cy="412.7" r="2.9" fill="#f8f8f8" stroke="#555" stroke-width="0.4"/>
<circle cx="160.6" cy="404.5" r="1.4" fill="#dcdcdc" stroke="#5a5a5a" stroke-width="0.43"/>
<circle cx="161.0" cy="407.1" r="1.7" fill="#dcdcdc" stroke="#5a5a5a" stroke-width="0.25"/>
<circle cx="162.9" cy="406.2" r="2.0" fill="#fafafa" stroke="#5a5a5a" stroke-width="0.30"/>
<circle cx="159.9" cy="405.3" r="1.6" fill="#dcdcdc" stroke="#5a5a5a" stroke-width="0.48"/>
<circle cx="162.4" cy="408.4" r="1.4" fill="#a0a0a0" stroke="#5a5a5a" stroke-width="0.45"/>
<circle cx="163.5" cy="407.1" r="1.2" fill="#bebebe" stroke="#5a5a5a" stroke-width="0.36"/>
<circle cx="162.2" cy="409.6" r="1.1" fill="#fafafa" stroke="#5a5a5a" stroke-width="0.46"/>
<circle cx="160.1" cy="407.6" r="2.3" fill="#f8f8f8" stroke="#5a5a5a" stroke-width="0.50"/>
<circle cx="162.5" cy="409.7" r="0.9" fill="#404040"/>
<circle cx="161.3" cy="405.3" r="0.8" fill="#404040"/>
<circle cx="161.6" cy="409.4" r="0.5" fill="#404040"/>
<circle cx="165.0" cy="409.5" r="0.8" fill="#404040"/>
<circle cx="146.3" cy="402.5" r="1.2" fill="#ebebeb" stroke="#5a5a5a" stroke-width="0.44"/>
<circle cx="148.1" cy="403.3" r="1.4" fill="#fafafa" stroke="#5a5a5a" stroke-width="0.49"/>
<circle cx="146.6" cy="403.8" r="2.3" fill="#fcfcfc" stroke="#5a5a5a" stroke-width="0.45"/>
<circle cx="146.2" cy="402.9" r="1.8" fill="#f8f8f8" stroke="#5a5a5a" stroke-width="0.45"/>
<circle cx="147.9" cy="405.0" r="2.2" fill="#fafafa" stroke="#5a5a5a" stroke-width="0.45"/>
<circle cx="146.3" cy="403.9" r="1.8" fill="#f8f8f8" stroke="#5a5a5a" stroke-width="0.44"/>
<circle cx="145.1" cy="404.1" r="0.6" fill="#404040"/>
<circle cx="146.5" cy="402.1" r="0.9" fill="#404040"/>
<circle cx="146.4" cy="402.7" r="0.8" fill="#404040"/>
<circle cx="155.9" cy="411.9" r="1.4" fill="#f8f8f8" stroke="#555" stroke-width="0.4"/>
<circle cx="158.4" cy="425.0" r="1.6" fill="#f8f8f8" stroke="#555" stroke-width="0.4"/>
<circle cx="155.4" cy="416.6" r="2.0" fill="#ebebeb" stroke="#5a5a5a" stroke-width="0.37"/>
<circle cx="153.3" cy="418.5" r="2.0" fill="#ebebeb" stroke="#5a5a5a" stroke-width="0.29"/>
<circle cx="154.7" cy="418.7" r="1.2" fill="#bebebe" stroke="#5a5a5a" stroke-width="0.48"/>
<circle cx="155.2" cy="417.2" r="2.2" fill="#a0a0a0" stroke="#5a5a5a" stroke-width="0.40"/>
<circle cx="154.8" cy="417.1" r="1.2" fill="#ebebeb" stroke="#5a5a5a" stroke-width="0.31"/>
<circle cx="155.5" cy="417.9" r="1.4" fill="#fafafa" stroke="#5a5a5a" stroke-width="0.36"/>
<circle cx="155.3" cy="417.0" r="1.6" fill="#bebebe" stroke="#5a5a5a" stroke-width="0.29"/>
<circle cx="156.6" cy="416.4" r="0.8" fill="#404040"/>
<circle cx="153.7" cy="415.1" r="0.8" fill="#404040"/>
<circle cx="155.5" cy="417.1" r="0.8" fill="#404040"/>
<circle cx="149.4" cy="451.9" r="2.3" fill="#f8f8f8" stroke="#555" stroke-width="0.4"/>
<circle cx="155.6" cy="446.5" r="1.7" fill="#fcfcfc" stroke="#5a5a5a" stroke-width="0.39"/>
<circle cx="158.3" cy="447.9" r="1.3" fill="#dcdcdc" stroke="#5a5a5a" stroke-width="0.39"/>
<circle cx="154.9" cy="447.4" r="2.0" fill="#f8f8f8" stroke="#5a5a5a" stroke-width="0.37"/>
<circle cx="155.1" cy="446.2" r="1.1" fill="#fafafa" stroke="#5a5a5a" stroke-width="0.33"/>
<circle cx="157.7" cy="445.2" r="1.5" fill="#dcdcdc" stroke="#5a5a5a" stroke-width="0.34"/>
<circle cx="155.1" cy="448.9" r="1.2" fill="#a0a0a0" stroke="#5a5a5a" stroke-width="0.34"/>
<circle cx="158.3" cy="447.0" r="1.2" fill="#a0a0a0" stroke="#5a5a5a" stroke-width="0.48"/>
<circle cx="156.5" cy="450.4" r="1.8" fill="#dcdcdc" stroke="#5a5a5a" stroke-width="0.44"/>
<circle cx="158.9" cy="447.7" r="0.7" fill="#404040"/>
<circle cx="158.7" cy="447.3" r="0.8" fill="#404040"/>
<circle cx="156.7" cy="449.7" r="0.7" fill="#404040"/>
<circle cx="159.4" cy="446.4" r="0.6" fill="#404040"/>
<circle cx="163.3" cy="437.2" r="1.6" fill="#f8f8f8" stroke="#555" stroke-width="0.4"/>
<circle cx="166.6" cy="445.6" r="1.5" fill="#ebebeb" stroke="#5a5a5a" stroke-width="0.46"/>
<circle cx="165.3" cy="446.3" r="1.5" fill="#bebebe" stroke="#5a5a5a" stroke-width="0.34"/>
<circle cx="167.0" cy="446.9" r="1.3" fill="#f8f8f8" stroke="#5a5a5a" stroke-width="0.33"/>
<circle cx="166.0" cy="447.1" r="1.9" fill="#fafafa" stroke="#5a5a5a" stroke-width="0.50"/>
<circle cx="165.2" cy="446.4" r="1.6" fill="#bebebe" stroke="#5a5a5a" stroke-width="0.26"/>
<circle cx="166.5" cy="445.4" r="1.3" fill="#dcdcdc" stroke="#5a5a5a" stroke-width="0.40"/>
<circle cx="165.2" cy="443.4" r="2.3" fill="#bebebe" stroke="#5a5a5a" stroke-width="0.34"/>
<circle cx="167.9" cy="447.2" r="0.8" fill="#404040"/>
<circle cx="166.7" cy="445.2" r="0.5" fill="#404040"/>
<circle cx="165.2" cy="443.9" r="0.6" fill="#404040"/>
<circle cx="168.1" cy="450.7" r="1.6" fill="#fcfcfc" stroke="#5a5a5a" stroke-width="0.48"/>
<circle cx="169.0" cy="452.4" r="2.2" fill="#fafafa" stroke="#5a5a5a" stroke-width="0.33"/>
<circle cx="169.0" cy="450.3" r="1.3" fill="#fcfcfc" stroke="#5a5a5a" stroke-width="0.33"/>
<circle cx="167.6" cy="454.6" r="2.3" fill="#fcfcfc" stroke="#5a5a5a" stroke-width="0.37"/>
<circle cx="166.7" cy="453.1" r="2.1" fill="#dcdcdc" stroke="#5a5a5a" stroke-width="0.39"/>
<circle cx="171.3" cy="452.7" r="1.1" fill="#dcdcdc" stroke="#5a5a5a" stroke-width="0.40"/>
<circle cx="172.4" cy="453.5" r="1.3" fill="#fafafa" stroke="#5a5a5a" stroke-width="0.35"/>
<circle cx="171.8" cy="455.1" r="1.4" fill="#f8f8f8" stroke="#5a5a5a" stroke-width="0.41"/>
<circle cx="169.8" cy="453.6" r="0.8" fill="#404040"/>
<circle cx="173.3" cy="453.3" r="0.6" fill="#404040"/>
<circle cx="171.2" cy="454.9" r="0.6" fill="#404040"/>
<circle cx="168.1" cy="452.8" r="0.8" fill="#404040"/>
<circle cx="159.2" cy="463.4" r="1.6" fill="#f8f8f8" stroke="#555" stroke-width="0.4"/>
<circle cx="166.2" cy="457.8" r="2.1" fill="#a0a0a0" stroke="#5a5a5a" stroke-width="0.46"/>
<circle cx="164.9" cy="458.2" r="1.9" fill="#a0a0a0" stroke="#5a5a5a" stroke-width="0.37"/>
<circle cx="163.2" cy="455.5" r="2.3" fill="#fcfcfc" stroke="#5a5a5a" stroke-width="0.43"/>
<circle cx="165.0" cy="458.5" r="1.9" fill="#fafafa" stroke="#5a5a5a" stroke-width="0.40"/>
<circle cx="164.0" cy="459.3" r="1.9" fill="#fafafa" stroke="#5a5a5a" stroke-width="0.46"/>
<circle cx="164.0" cy="457.7" r="2.3" fill="#a0a0a0" stroke="#5a5a5a" stroke-width="0.36"/>
<circle cx="164.7" cy="458.0" r="2.1" fill="#ebebeb" stroke="#5a5a5a" stroke-width="0.49"/>
<circle cx="166.5" cy="461.1" r="1.7" fill="#fafafa" stroke="#5a5a5a" stroke-width="0.45"/>
<circle cx="167.9" cy="457.4" r="0.7" fill="#404040"/>
<circle cx="164.9" cy="458.7" r="0.9" fill="#404040"/>
<circle cx="163.9" cy="455.2" r="0.6" fill="#404040"/>
<circle cx="161.8" cy="456.0" r="0.8" fill="#404040"/>
<circle cx="78.9" cy="351.2" r="1.7" fill="#f8f8f8" stroke="#5a5a5a" stroke-width="0.34"/>
<circle cx="79.0" cy="349.6" r="2.3" fill="#fafafa" stroke="#5a5a5a" stroke-width="0.36"/>
<circle cx="79.5" cy="350.7" r="1.4" fill="#f8f8f8" stroke="#5a5a5a" stroke-width="0.40"/>
<circle cx="81.5" cy="348.5" r="1.2" fill="#fafafa" stroke="#5a5a5a" stroke-width="0.29"/>
<circle cx="83.3" cy="349.3" r="1.3" fill="#fafafa" stroke="#5a5a5a" stroke-width="0.45"/>
<circle cx="76.8" cy="351.0" r="1.7" fill="#bebebe" stroke="#5a5a5a" stroke-width="0.27"/>
<circle cx="76.8" cy="350.9" r="1.4" fill="#fafafa" stroke="#5a5a5a" stroke-width="0.43"/>
<circle cx="81.3" cy="351.8" r="1.2" fill="#dcdcdc" stroke="#5a5a5a" stroke-width="0.37"/>
<circle cx="80.3" cy="353.0" r="2.1" fill="#fafafa" stroke="#5a5a5a" stroke-width="0.35"/>
<circle cx="77.7" cy="351.4" r="0.6" fill="#404040"/>
<circle cx="81.7" cy="352.7" r="0.7" fill="#404040"/>
<circle cx="79.8" cy="355.7" r="0.6" fill="#404040"/>
<circle cx="79.1" cy="352.0" r="0.6" fill="#404040"/>
<circle cx="91.5" cy="362.3" r="1.5" fill="#bebebe" stroke="#5a5a5a" stroke-width="0.39"/>
<circle cx="85.8" cy="361.6" r="1.3" fill="#fcfcfc" stroke="#5a5a5a" stroke-width="0.48"/>
<circle cx="83.5" cy="360.2" r="1.6" fill="#dcdcdc" stroke="#5a5a5a" stroke-width="0.45"/>
<circle cx="89.7" cy="362.6" r="1.5" fill="#bebebe" stroke="#5a5a5a" stroke-width="0.40"/>
<circle cx="88.9" cy="360.6" r="2.2" fill="#bebebe" stroke="#5a5a5a" stroke-width="0.37"/>
<circle cx="86.8" cy="359.4" r="2.1" fill="#dcdcdc" stroke="#5a5a5a" stroke-width="0.27"/>
<circle cx="85.1" cy="361.0" r="1.9" fill="#f8f8f8" stroke="#5a5a5a" stroke-width="0.31"/>
<circle cx="89.0" cy="360.2" r="1.3" fill="#fcfcfc" stroke="#5a5a5a" stroke-width="0.26"/>
<circle cx="89.9" cy="360.4" r="2.0" fill="#dcdcdc" stroke="#5a5a5a" stroke-width="0.49"/>
<circle cx="88.3" cy="359.8" r="1.9" fill="#dcdcdc" stroke="#5a5a5a" stroke-width="0.48"/>
<circle cx="87.9" cy="359.5" r="0.6" fill="#404040"/>
<circle cx="88.1" cy="360.5" r="0.9" fill="#404040"/>
<circle cx="87.0" cy="360.0" r="0.8" fill="#404040"/>
<circle cx="87.1" cy="360.9" r="0.8" fill="#404040"/>
<circle cx="90.4" cy="364.6" r="0.9" fill="#404040"/>
<circle cx="98.2" cy="350.9" r="1.1" fill="#fcfcfc" stroke="#5a5a5a" stroke-width="0.31"/>
<circle cx="92.8" cy="349.7" r="2.1" fill="#dcdcdc" stroke="#5a5a5a" stroke-width="0.26"/>
<circle cx="98.0" cy="352.5" r="2.3" fill="#a0a0a0" stroke="#5a5a5a" stroke-width="0.44"/>
<circle cx="94.4" cy="349.0" r="1.9" fill="#dcdcdc" stroke="#5a5a5a" stroke-width="0.33"/>
<circle cx="96.0" cy="350.5" r="1.7" fill="#f8f8f8" stroke="#5a5a5a" stroke-width="0.36"/>
<circle cx="97.4" cy="346.3" r="2.3" fill="#dcdcdc" stroke="#5a5a5a" stroke-width="0.43"/>
<circle cx="96.1" cy="350.1" r="2.3" fill="#f8f8f8" stroke="#5a5a5a" stroke-width="0.27"/>
<circle cx="94.8" cy="348.9" r="2.1" fill="#fafafa" stroke="#5a5a5a" stroke-width="0.36"/>
<circle cx="99.3" cy="352.3" r="2.2" fill="#a0a0a0" stroke="#5a5a5a" stroke-width="0.27"/>
<circle cx="97.4" cy="349.7" r="0.6" fill="#404040"/>
<circle cx="97.2" cy="351.1" r="0.6" fill="#404040"/>
<circle cx="95.9" cy="349.2" r="0.7" fill="#404040"/>
<circle cx="97.5" cy="348.7" r="0.6" fill="#404040"/>
<circle cx="99.9" cy="363.6" r="1.1" fill="#bebebe" stroke="#5a5a5a" stroke-width="0.46"/>
<circle cx="100.6" cy="363.8" r="1.7" fill="#ebebeb" stroke="#5a5a5a" stroke-width="0.36"/>
<circle cx="100.2" cy="363.1" r="1.8" fill="#a0a0a0" stroke="#5a5a5a" stroke-width="0.47"/>
<circle cx="100.5" cy="362.0" r="1.7" fill="#ebebeb" stroke="#5a5a5a" stroke-width="0.28"/>
<circle cx="101.1" cy="357.9" r="1.7" fill="#ebebeb" stroke="#5a5a5a" stroke-width="0.50"/>
<circle cx="101.5" cy="362.8" r="1.5" fill="#f8f8f8" stroke="#5a5a5a" stroke-width="0.26"/>
<circle cx="100.8" cy="361.5" r="2.4" fill="#fcfcfc" stroke="#5a5a5a" stroke-width="0.36"/>
<circle cx="98.3" cy="362.9" r="1.7" fill="#fafafa" stroke="#5a5a5a" stroke-width="0.46"/>
<circle cx="100.0" cy="362.8" r="1.7" fill="#dcdcdc" stroke="#5a5a5a" stroke-width="0.30"/>
<circle cx="100.3" cy="362.7" r="1.3" fill="#fafafa" stroke="#5a5a5a" stroke-width="0.31"/>
<circle cx="102.5" cy="365.9" r="0.8" fill="#404040"/>
<circle cx="104.1" cy="360.4" r="0.8" fill="#404040"/>
<circle cx="101.3" cy="363.7" r="0.8" fill="#404040"/>
<circle cx="100.3" cy="362.2" r="0.6" fill="#404040"/>
<circle cx="104.8" cy="363.2" r="0.7" fill="#404040"/>
<circle cx="86.6" cy="368.0" r="1.8" fill="#ebebeb" stroke="#5a5a5a" stroke-width="0.33"/>
<circle cx="86.5" cy="368.2" r="1.7" fill="#fcfcfc" stroke="#5a5a5a" stroke-width="0.35"/>
<circle cx="84.1" cy="371.3" r="2.0" fill="#f8f8f8" stroke="#5a5a5a" stroke-width="0.30"/>
<circle cx="84.9" cy="370.3" r="1.3" fill="#ebebeb" stroke="#5a5a5a" stroke-width="0.39"/>
<circle cx="85.2" cy="370.5" r="2.3" fill="#bebebe" stroke="#5a5a5a" stroke-width="0.27"/>
<circle cx="83.2" cy="373.0" r="2.2" fill="#ebebeb" stroke="#5a5a5a" stroke-width="0.44"/>
<circle cx="86.0" cy="369.8" r="2.3" fill="#ebebeb" stroke="#5a5a5a" stroke-width="0.47"/>
<circle cx="86.5" cy="371.3" r="1.8" fill="#bebebe" stroke="#5a5a5a" stroke-width="0.45"/>
<circle cx="84.8" cy="373.0" r="1.2" fill="#bebebe" stroke="#5a5a5a" stroke-width="0.30"/>
<circle cx="85.0" cy="372.8" r="2.2" fill="#fcfcfc" stroke="#5a5a5a" stroke-width="0.25"/>
<circle cx="87.6" cy="370.2" r="0.6" fill="#404040"/>
<circle cx="85.8" cy="369.0" r="0.7" fill="#404040"/>
<circle cx="84.2" cy="374.4" r="0.6" fill="#404040"/>
<circle cx="84.8" cy="372.5" r="0.6" fill="#404040"/>
<circle cx="80.9" cy="372.7" r="0.8" fill="#404040"/>
<circle cx="93.5" cy="381.4" r="2.2" fill="#bebebe" stroke="#5a5a5a" stroke-width="0.40"/>
<circle cx="93.5" cy="380.4" r="1.8" fill="#a0a0a0" stroke="#5a5a5a" stroke-width="0.35"/>
<circle cx="93.1" cy="381.0" r="1.9" fill="#a0a0a0" stroke="#5a5a5a" stroke-width="0.36"/>
<circle cx="94.5" cy="378.7" r="1.6" fill="#fcfcfc" stroke="#5a5a5a" stroke-width="0.44"/>
<circle cx="92.3" cy="382.1" r="1.5" fill="#dcdcdc" stroke="#5a5a5a" stroke-width="0.46"/>
<circle cx="88.3" cy="379.0" r="1.5" fill="#dcdcdc" stroke="#5a5a5a" stroke-width="0.46"/>
<circle cx="95.6" cy="381.9" r="2.3" fill="#ebebeb" stroke="#5a5a5a" stroke-width="0.31"/>
<circle cx="90.1" cy="382.6" r="1.6" fill="#bebebe" stroke="#5a5a5a" stroke-width="0.30"/>
<circle cx="92.5" cy="381.9" r="2.0" fill="#f8f8f8" stroke="#5a5a5a" stroke-width="0.28"/>
<circle cx="97.0" cy="380.2" r="2.3" fill="#a0a0a0" stroke="#5a5a5a" stroke-width="0.26"/>
<circle cx="98.3" cy="380.3" r="0.5" fill="#404040"/>
<circle cx="95.3" cy="378.4" r="0.9" fill="#404040"/>
<circle cx="90.5" cy="378.6" r="0.8" fill="#404040"/>
<circle cx="93.5" cy="381.1" r="0.5" fill="#404040"/>
<circle cx="94.3" cy="381.1" r="0.5" fill="#404040"/>
<circle cx="105.1" cy="378.0" r="1.3" fill="#fcfcfc" stroke="#5a5a5a" stroke-width="0.40"/>
<circle cx="106.1" cy="376.4" r="1.4" fill="#dcdcdc" stroke="#5a5a5a" stroke-width="0.40"/>
<circle cx="105.7" cy="376.2" r="1.8" fill="#ebebeb" stroke="#5a5a5a" stroke-width="0.48"/>
<circle cx="103.0" cy="376.5" r="2.1" fill="#a0a0a0" stroke="#5a5a5a" stroke-width="0.39"/>
<circle cx="105.4" cy="374.8" r="1.8" fill="#a0a0a0" stroke="#5a5a5a" stroke-width="0.35"/>
<circle cx="102.5" cy="376.5" r="2.3" fill="#ebebeb" stroke="#5a5a5a" stroke-width="0.40"/>
<circle cx="102.7" cy="377.3" r="1.4" fill="#f8f8f8" stroke="#5a5a5a" stroke-width="0.30"/>
<circle cx="100.0" cy="375.8" r="1.6" fill="#ebebeb" stroke="#5a5a5a" stroke-width="0.29"/>
<circle cx="105.3" cy="376.6" r="1.5" fill="#ebebeb" stroke="#5a5a5a" stroke-width="0.32"/>
<circle cx="105.3" cy="376.9" r="0.8" fill="#404040"/>
<circle cx="104.2" cy="377.3" r="0.8" fill="#404040"/>
<circle cx="103.7" cy="377.1" r="0.7" fill="#404040"/>
<circle cx="100.9" cy="378.2" r="0.5" fill="#404040"/>
<circle cx="80.6" cy="392.1" r="2.1" fill="#f8f8f8" stroke="#5a5a5a" stroke-width="0.35"/>
<circle cx="79.7" cy="387.5" r="1.4" fill="#bebebe" stroke="#5a5a5a" stroke-width="0.46"/>
<circle cx="81.0" cy="386.0" r="2.1" fill="#a0a0a0" stroke="#5a5a5a" stroke-width="0.48"/>
<circle cx="81.1" cy="388.0" r="1.9" fill="#a0a0a0" stroke="#5a5a5a" stroke-width="0.48"/>
<circle cx="82.6" cy="390.7" r="1.1" fill="#fafafa" stroke="#5a5a5a" stroke-width="0.39"/>
<circle cx="81.3" cy="389.1" r="2.4" fill="#f8f8f8" stroke="#5a5a5a" stroke-width="0.35"/>
<circle cx="80.8" cy="384.4" r="1.9" fill="#dcdcdc" stroke="#5a5a5a" stroke-width="0.46"/>
<circle cx="79.6" cy="386.8" r="1.6" fill="#ebebeb" stroke="#5a5a5a" stroke-width="0.35"/>
<circle cx="78.5" cy="387.4" r="1.5" fill="#fafafa" stroke="#5a5a5a" stroke-width="0.44"/>
<circle cx="81.7" cy="387.9" r="0.6" fill="#404040"/>
<circle cx="76.5" cy="387.2" r="0.7" fill="#404040"/>
<circle cx="79.3" cy="388.7" r="0.8" fill="#404040"/>
<circle cx="77.9" cy="391.8" r="0.7" fill="#404040"/>
<circle cx="90.1" cy="396.4" r="2.4" fill="#fcfcfc" stroke="#5a5a5a" stroke-width="0.26"/>
<circle cx="89.8" cy="398.8" r="1.5" fill="#bebebe" stroke="#5a5a5a" stroke-width="0.44"/>
<circle cx="85.9" cy="394.0" r="1.8" fill="#bebebe" stroke="#5a5a5a" stroke-width="0.43"/>
<circle cx="88.2" cy="395.8" r="1.2" fill="#a0a0a0" stroke="#5a5a5a" stroke-width="0.34"/>
<circle cx="92.7" cy="394.1" r="1.8" fill="#fcfcfc" stroke="#5a5a5a" stroke-width="0.35"/>
<circle cx="87.2" cy="395.0" r="2.3" fill="#f8f8f8" stroke="#5a5a5a" stroke-width="0.47"/>
<circle cx="92.0" cy="394.5" r="1.7" fill="#bebebe" stroke="#5a5a5a" stroke-width="0.47"/>
<circle cx="87.5" cy="393.5" r="2.1" fill="#fcfcfc" stroke="#5a5a5a" stroke-width="0.29"/>
<circle cx="88.3" cy="398.8" r="2.2" fill="#bebebe" stroke="#5a5a5a" stroke-width="0.29"/>
<circle cx="89.3" cy="393.9" r="0.6" fill="#404040"/>
<circle cx="92.1" cy="394.1" r="0.9" fill="#404040"/>
<circle cx="88.4" cy="393.3" r="0.8" fill="#404040"/>
<circle cx="91.1" cy="398.9" r="0.7" fill="#404040"/>
<circle cx="110.0" cy="389.8" r="1.2" fill="#bebebe" stroke="#5a5a5a" stroke-width="0.50"/>
<circle cx="107.9" cy="388.9" r="1.6" fill="#fafafa" stroke="#5a5a5a" stroke-width="0.25"/>
<circle cx="107.5" cy="387.0" r="2.3" fill="#dcdcdc" stroke="#5a5a5a" stroke-width="0.46"/>
<circle cx="105.8" cy="387.7" r="1.4" fill="#dcdcdc" stroke="#5a5a5a" stroke-width="0.44"/>
<circle cx="105.0" cy="387.7" r="2.3" fill="#bebebe" stroke="#5a5a5a" stroke-width="0.50"/>
<circle cx="106.6" cy="388.3" r="1.3" fill="#f8f8f8" stroke="#5a5a5a" stroke-width="0.38"/>
<circle cx="107.9" cy="389.0" r="1.2" fill="#bebebe" stroke="#5a5a5a" stroke-width="0.37"/>
<circle cx="106.4" cy="389.3" r="2.1" fill="#a0a0a0" stroke="#5a5a5a" stroke-width="0.25"/>
<circle cx="108.2" cy="387.7" r="0.8" fill="#404040"/>
<circle cx="107.6" cy="389.5" r="0.6" fill="#404040"/>
<circle cx="110.9" cy="391.1" r="0.7" fill="#404040"/>
<circle cx="107.0" cy="390.5" r="0.7" fill="#404040"/>
<circle cx="79.2" cy="365.1" r="1.9" fill="#fcfcfc" stroke="#5a5a5a" stroke-width="0.36"/>
<circle cx="75.3" cy="363.4" r="1.2" fill="#bebebe" stroke="#5a5a5a" stroke-width="0.46"/>
<circle cx="74.7" cy="367.1" r="2.2" fill="#ebebeb" stroke="#5a5a5a" stroke-width="0.35"/>
<circle cx="76.0" cy="367.4" r="2.4" fill="#fcfcfc" stroke="#5a5a5a" stroke-width="0.31"/>
<circle cx="73.9" cy="365.7" r="1.4" fill="#ebebeb" stroke="#5a5a5a" stroke-width="0.35"/>
<circle cx="76.0" cy="363.9" r="2.2" fill="#fcfcfc" stroke="#5a5a5a" stroke-width="0.29"/>
<circle cx="75.6" cy="364.6" r="2.4" fill="#ebebeb" stroke="#5a5a5a" stroke-width="0.35"/>
<circle cx="75.2" cy="365.0" r="2.2" fill="#ebebeb" stroke="#5a5a5a" stroke-width="0.35"/>
<circle cx="76.5" cy="364.2" r="0.8" fill="#404040"/>
<circle cx="75.4" cy="364.8" r="0.6" fill="#404040"/>
<circle cx="75.8" cy="364.9" r="0.5" fill="#404040"/>
<circle cx="75.3" cy="362.8" r="0.6" fill="#404040"/>
<circle cx="19.9" cy="367.7" r="1.5" fill="#fafafa" stroke="#5a5a5a" stroke-width="0.45"/>
<circle cx="18.3" cy="367.4" r="2.1" fill="#f8f8f8" stroke="#5a5a5a" stroke-width="0.29"/>
<circle cx="18.3" cy="370.2" r="1.6" fill="#bebebe" stroke="#5a5a5a" stroke-width="0.30"/>
<circle cx="21.8" cy="367.4" r="1.4" fill="#dcdcdc" stroke="#5a5a5a" stroke-width="0.42"/>
<circle cx="23.5" cy="366.6" r="1.9" fill="#dcdcdc" stroke="#5a5a5a" stroke-width="0.40"/>
<circle cx="19.4" cy="368.7" r="1.9" fill="#f8f8f8" stroke="#5a5a5a" stroke-width="0.28"/>
<circle cx="20.0" cy="365.4" r="1.2" fill="#fafafa" stroke="#5a5a5a" stroke-width="0.32"/>
<circle cx="20.2" cy="366.6" r="2.0" fill="#bebebe" stroke="#5a5a5a" stroke-width="0.29"/>
<circle cx="22.8" cy="368.3" r="0.8" fill="#404040"/>
<circle cx="20.1" cy="367.1" r="0.6" fill="#404040"/>
<circle cx="20.2" cy="367.8" r="0.9" fill="#404040"/>
<circle cx="21.0" cy="365.1" r="0.6" fill="#404040"/>
<circle cx="23.9" cy="379.6" r="1.5" fill="#fafafa" stroke="#5a5a5a" stroke-width="0.43"/>
<circle cx="23.7" cy="381.7" r="2.3" fill="#fafafa" stroke="#5a5a5a" stroke-width="0.41"/>
<circle cx="21.4" cy="377.3" r="2.3" fill="#f8f8f8" stroke="#5a5a5a" stroke-width="0.26"/>
<circle cx="22.8" cy="377.4" r="1.6" fill="#dcdcdc" stroke="#5a5a5a" stroke-width="0.26"/>
<circle cx="23.4" cy="378.1" r="2.4" fill="#dcdcdc" stroke="#5a5a5a" stroke-width="0.34"/>
<circle cx="23.5" cy="379.4" r="1.2" fill="#bebebe" stroke="#5a5a5a" stroke-width="0.43"/>
<circle cx="24.0" cy="379.8" r="1.2" fill="#f8f8f8" stroke="#5a5a5a" stroke-width="0.36"/>
<circle cx="24.0" cy="379.3" r="2.1" fill="#bebebe" stroke="#5a5a5a" stroke-width="0.33"/>
<circle cx="23.5" cy="379.4" r="2.2" fill="#bebebe" stroke="#5a5a5a" stroke-width="0.37"/>
<circle cx="19.9" cy="379.5" r="0.8" fill="#404040"/>
<circle cx="20.2" cy="378.1" r="0.5" fill="#404040"/>
<circle cx="24.2" cy="377.1" r="0.9" fill="#404040"/>
<circle cx="25.9" cy="378.1" r="0.8" fill="#404040"/>
<circle cx="22.9" cy="391.5" r="1.1" fill="#ebebeb" stroke="#5a5a5a" stroke-width="0.30"/>
<circle cx="22.7" cy="390.4" r="1.2" fill="#a0a0a0" stroke="#5a5a5a" stroke-width="0.44"/>
<circle cx="22.6" cy="392.0" r="1.4" fill="#bebebe" stroke="#5a5a5a" stroke-width="0.27"/>
<circle cx="21.7" cy="391.4" r="2.3" fill="#a0a0a0" stroke="#5a5a5a" stroke-width="0.38"/>
<circle cx="18.6" cy="388.7" r="1.9" fill="#bebebe" stroke="#5a5a5a" stroke-width="0.26"/>
<circle cx="19.4" cy="390.3" r="1.8" fill="#fafafa" stroke="#5a5a5a" stroke-width="0.28"/>
<circle cx="20.0" cy="391.8" r="2.0" fill="#fafafa" stroke="#5a5a5a" stroke-width="0.39"/>
<circle cx="20.3" cy="392.6" r="2.1" fill="#f8f8f8" stroke="#5a5a5a" stroke-width="0.39"/>
<circle cx="20.0" cy="392.3" r="1.6" fill="#dcdcdc" stroke="#5a5a5a" stroke-width="0.27"/>
<circle cx="19.6" cy="391.5" r="0.8" fill="#404040"/>
<circle cx="17.8" cy="392.2" r="0.8" fill="#404040"/>
<circle cx="23.1" cy="392.1" r="0.6" fill="#404040"/>
<circle cx="18.0" cy="389.6" r="0.6" fill="#404040"/>
<circle cx="27.3" cy="398.6" r="1.4" fill="#a0a0a0" stroke="#5a5a5a" stroke-width="0.45"/>
<circle cx="24.9" cy="400.0" r="1.3" fill="#a0a0a0" stroke="#5a5a5a" stroke-width="0.29"/>
<circle cx="31.6" cy="400.5" r="1.6" fill="#f8f8f8" stroke="#5a5a5a" stroke-width="0.28"/>
<circle cx="27.6" cy="402.5" r="1.4" fill="#fcfcfc" stroke="#5a5a5a" stroke-width="0.47"/>
<circle cx="27.8" cy="401.4" r="1.5" fill="#fcfcfc" stroke="#5a5a5a" stroke-width="0.29"/>
<circle cx="25.7" cy="401.8" r="1.5" fill="#bebebe" stroke="#5a5a5a" stroke-width="0.27"/>
<circle cx="32.2" cy="401.3" r="2.1" fill="#fcfcfc" stroke="#5a5a5a" stroke-width="0.44"/>
<circle cx="26.5" cy="403.8" r="1.4" fill="#a0a0a0" stroke="#5a5a5a" stroke-width="0.37"/>
<circle cx="27.3" cy="401.3" r="1.8" fill="#fcfcfc" stroke="#5a5a5a" stroke-width="0.34"/>
<circle cx="29.1" cy="401.7" r="0.7" fill="#404040"/>
<circle cx="27.6" cy="397.9" r="0.8" fill="#404040"/>
<circle cx="31.0" cy="402.6" r="0.5" fill="#404040"/>
<circle cx="27.5" cy="401.4" r="0.6" fill="#404040"/>
<circle cx="34.7" cy="371.6" r="2.3" fill="#a0a0a0" stroke="#5a5a5a" stroke-width="0.29"/>
<circle cx="33.6" cy="369.3" r="2.1" fill="#ebebeb" stroke="#5a5a5a" stroke-width="0.34"/>
<circle cx="32.3" cy="371.1" r="1.4" fill="#f8f8f8" stroke="#5a5a5a" stroke-width="0.39"/>
<circle cx="31.1" cy="374.0" r="1.4" fill="#fcfcfc" stroke="#5a5a5a" stroke-width="0.28"/>
<circle cx="34.0" cy="369.1" r="2.4" fill="#dcdcdc" stroke="#5a5a5a" stroke-width="0.48"/>
<circle cx="34.5" cy="371.4" r="1.7" fill="#f8f8f8" stroke="#5a5a5a" stroke-width="0.50"/>
<circle cx="31.3" cy="370.8" r="1.3" fill="#f8f8f8" stroke="#5a5a5a" stroke-width="0.29"/>
<circle cx="29.8" cy="373.2" r="0.5" fill="#404040"/>
<circle cx="34.5" cy="372.4" r="0.6" fill="#404040"/>
<circle cx="33.0" cy="372.0" r="0.8" fill="#404040"/>
<g filter="url(#blhalo)">
<circle cx="18.2" cy="336.6" r="4.5" fill="#bcbcbc" opacity="0.45"/>
<circle cx="23.9" cy="340.7" r="4.5" fill="#bcbcbc" opacity="0.45"/>
<circle cx="31.2" cy="334.2" r="6.2" fill="#bcbcbc" opacity="0.45"/>
<circle cx="29.6" cy="341.5" r="3.2" fill="#bcbcbc" opacity="0.45"/>
<circle cx="34.5" cy="342.3" r="3.9" fill="#bcbcbc" opacity="0.45"/>
<circle cx="40.2" cy="342.3" r="3.9" fill="#bcbcbc" opacity="0.45"/>
<circle cx="31.2" cy="347.2" r="4.2" fill="#bcbcbc" opacity="0.45"/>
<circle cx="24.7" cy="351.3" r="5.2" fill="#bcbcbc" opacity="0.45"/>
<circle cx="36.2" cy="348.9" r="3.6" fill="#bcbcbc" opacity="0.45"/>
<circle cx="45.1" cy="345.6" r="3.9" fill="#bcbcbc" opacity="0.45"/>
<circle cx="50.9" cy="346.4" r="4.2" fill="#bcbcbc" opacity="0.45"/>
<circle cx="41.9" cy="335.8" r="4.2" fill="#bcbcbc" opacity="0.45"/>
<circle cx="49.2" cy="335.0" r="4.2" fill="#bcbcbc" opacity="0.45"/>
<circle cx="58.2" cy="341.5" r="4.9" fill="#bcbcbc" opacity="0.45"/>
<circle cx="66.4" cy="339.1" r="6.2" fill="#bcbcbc" opacity="0.45"/>
<circle cx="76.2" cy="335.8" r="6.8" fill="#bcbcbc" opacity="0.45"/>
<circle cx="17.4" cy="356.2" r="4.5" fill="#bcbcbc" opacity="0.45"/>
<circle cx="53.3" cy="358.7" r="4.5" fill="#bcbcbc" opacity="0.45"/>
<circle cx="60.7" cy="355.4" r="4.2" fill="#bcbcbc" opacity="0.45"/>
<circle cx="66.4" cy="355.4" r="3.6" fill="#bcbcbc" opacity="0.45"/>
<circle cx="61.5" cy="361.1" r="3.9" fill="#bcbcbc" opacity="0.45"/>
<circle cx="49.2" cy="365.2" r="4.2" fill="#bcbcbc" opacity="0.45"/>
<circle cx="56.6" cy="366.0" r="4.2" fill="#bcbcbc" opacity="0.45"/>
<circle cx="41.9" cy="368.8" r="6.2" fill="#bcbcbc" opacity="0.45"/>
<circle cx="53.3" cy="370.9" r="3.9" fill="#bcbcbc" opacity="0.45"/>
<circle cx="60.7" cy="370.1" r="4.2" fill="#bcbcbc" opacity="0.45"/>
<circle cx="46.8" cy="374.2" r="4.5" fill="#bcbcbc" opacity="0.45"/>
<circle cx="37.0" cy="374.2" r="3.6" fill="#bcbcbc" opacity="0.45"/>
<circle cx="55.8" cy="375.9" r="3.9" fill="#bcbcbc" opacity="0.45"/>
<circle cx="68.8" cy="372.6" r="4.2" fill="#bcbcbc" opacity="0.45"/>
<circle cx="63.1" cy="382.4" r="6.2" fill="#bcbcbc" opacity="0.45"/>
<circle cx="71.3" cy="389.7" r="6.8" fill="#bcbcbc" opacity="0.45"/>
<circle cx="53.3" cy="388.1" r="4.9" fill="#bcbcbc" opacity="0.45"/>
<circle cx="59.0" cy="390.6" r="4.5" fill="#bcbcbc" opacity="0.45"/>
<circle cx="32.9" cy="379.1" r="4.2" fill="#bcbcbc" opacity="0.45"/>
<circle cx="41.1" cy="384.0" r="5.2" fill="#bcbcbc" opacity="0.45"/>
<circle cx="29.6" cy="396.3" r="4.2" fill="#bcbcbc" opacity="0.45"/>
<circle cx="59.0" cy="397.9" r="3.9" fill="#bcbcbc" opacity="0.45"/>
<circle cx="68.8" cy="398.7" r="3.9" fill="#bcbcbc" opacity="0.45"/>
<circle cx="19.0" cy="397.9" r="3.6" fill="#bcbcbc" opacity="0.45"/>
<circle cx="78.6" cy="350.5" r="4.5" fill="#bcbcbc" opacity="0.45"/>
<circle cx="82.7" cy="344.8" r="3.9" fill="#bcbcbc" opacity="0.45"/>
<circle cx="88.5" cy="347.2" r="3.6" fill="#bcbcbc" opacity="0.45"/>
<circle cx="86.0" cy="341.5" r="3.2" fill="#bcbcbc" opacity="0.45"/>
<circle cx="127.3" cy="339.1" r="6.5" fill="#bcbcbc" opacity="0.45"/>
<circle cx="146.9" cy="336.6" r="6.5" fill="#bcbcbc" opacity="0.45"/>
<circle cx="135.5" cy="343.2" r="6.2" fill="#bcbcbc" opacity="0.45"/>
<circle cx="145.3" cy="346.4" r="5.7" fill="#bcbcbc" opacity="0.45"/>
<circle cx="139.6" cy="337.4" r="3.9" fill="#bcbcbc" opacity="0.45"/>
<circle cx="116.7" cy="340.7" r="3.9" fill="#bcbcbc" opacity="0.45"/>
<circle cx="99.5" cy="340.7" r="3.6" fill="#bcbcbc" opacity="0.45"/>
<circle cx="122.4" cy="345.6" r="3.6" fill="#bcbcbc" opacity="0.45"/>
<circle cx="115.9" cy="350.5" r="4.5" fill="#bcbcbc" opacity="0.45"/>
<circle cx="124.9" cy="353.8" r="5.2" fill="#bcbcbc" opacity="0.45"/>
<circle cx="133.9" cy="351.3" r="3.9" fill="#bcbcbc" opacity="0.45"/>
<circle cx="142.0" cy="355.4" r="4.5" fill="#bcbcbc" opacity="0.45"/>
<circle cx="152.7" cy="346.4" r="4.2" fill="#bcbcbc" opacity="0.45"/>
<circle cx="155.1" cy="339.1" r="3.6" fill="#bcbcbc" opacity="0.45"/>
<circle cx="155.9" cy="354.6" r="6.2" fill="#bcbcbc" opacity="0.45"/>
<circle cx="172.3" cy="351.3" r="4.2" fill="#bcbcbc" opacity="0.45"/>
<circle cx="115.9" cy="358.7" r="3.9" fill="#bcbcbc" opacity="0.45"/>
<circle cx="125.7" cy="361.1" r="4.9" fill="#bcbcbc" opacity="0.45"/>
<circle cx="117.5" cy="365.2" r="4.2" fill="#bcbcbc" opacity="0.45"/>
<circle cx="136.3" cy="363.6" r="3.9" fill="#bcbcbc" opacity="0.45"/>
<circle cx="142.9" cy="365.2" r="7.3" fill="#bcbcbc" opacity="0.45"/>
<circle cx="151.0" cy="362.8" r="4.2" fill="#bcbcbc" opacity="0.45"/>
<circle cx="161.6" cy="367.7" r="4.9" fill="#bcbcbc" opacity="0.45"/>
<circle cx="171.5" cy="368.5" r="4.9" fill="#bcbcbc" opacity="0.45"/>
<circle cx="164.9" cy="362.8" r="3.6" fill="#bcbcbc" opacity="0.45"/>
<circle cx="129.0" cy="371.8" r="7.3" fill="#bcbcbc" opacity="0.45"/>
<circle cx="107.7" cy="369.3" r="4.2" fill="#bcbcbc" opacity="0.45"/>
<circle cx="115.9" cy="379.1" r="4.5" fill="#bcbcbc" opacity="0.45"/>
<circle cx="122.4" cy="377.5" r="3.9" fill="#bcbcbc" opacity="0.45"/>
<circle cx="137.1" cy="378.3" r="4.2" fill="#bcbcbc" opacity="0.45"/>
<circle cx="142.0" cy="382.4" r="4.5" fill="#bcbcbc" opacity="0.45"/>
<circle cx="146.9" cy="379.1" r="3.6" fill="#bcbcbc" opacity="0.45"/>
<circle cx="160.8" cy="377.5" r="4.2" fill="#bcbcbc" opacity="0.45"/>
<circle cx="169.8" cy="380.8" r="4.9" fill="#bcbcbc" opacity="0.45"/>
<circle cx="113.4" cy="388.1" r="4.9" fill="#bcbcbc" opacity="0.45"/>
<circle cx="124.9" cy="387.3" r="4.5" fill="#bcbcbc" opacity="0.45"/>
<circle cx="125.7" cy="394.6" r="5.2" fill="#bcbcbc" opacity="0.45"/>
<circle cx="131.4" cy="392.2" r="3.9" fill="#bcbcbc" opacity="0.45"/>
<circle cx="138.8" cy="393.8" r="5.7" fill="#bcbcbc" opacity="0.45"/>
<circle cx="115.1" cy="396.3" r="4.5" fill="#bcbcbc" opacity="0.45"/>
<circle cx="25.5" cy="405.4" r="3.9" fill="#bcbcbc" opacity="0.45"/>
<circle cx="32.1" cy="408.6" r="4.2" fill="#bcbcbc" opacity="0.45"/>
<circle cx="37.8" cy="405.4" r="5.2" fill="#bcbcbc" opacity="0.45"/>
<circle cx="41.1" cy="415.2" r="3.2" fill="#bcbcbc" opacity="0.45"/>
<circle cx="33.7" cy="416.8" r="4.5" fill="#bcbcbc" opacity="0.45"/>
<circle cx="30.4" cy="425.0" r="4.2" fill="#bcbcbc" opacity="0.45"/>
<circle cx="23.9" cy="427.4" r="3.9" fill="#bcbcbc" opacity="0.45"/>
<circle cx="18.2" cy="429.1" r="3.6" fill="#bcbcbc" opacity="0.45"/>
<circle cx="36.2" cy="426.6" r="3.6" fill="#bcbcbc" opacity="0.45"/>
<circle cx="46.0" cy="421.7" r="4.2" fill="#bcbcbc" opacity="0.45"/>
<circle cx="52.5" cy="414.3" r="3.2" fill="#bcbcbc" opacity="0.45"/>
<circle cx="53.3" cy="401.3" r="3.9" fill="#bcbcbc" opacity="0.45"/>
<circle cx="59.9" cy="404.5" r="3.9" fill="#bcbcbc" opacity="0.45"/>
<circle cx="65.6" cy="407.8" r="4.9" fill="#bcbcbc" opacity="0.45"/>
<circle cx="76.2" cy="402.1" r="4.2" fill="#bcbcbc" opacity="0.45"/>
<circle cx="87.6" cy="402.9" r="4.9" fill="#bcbcbc" opacity="0.45"/>
<circle cx="86.0" cy="413.5" r="6.5" fill="#bcbcbc" opacity="0.45"/>
<circle cx="71.3" cy="421.7" r="5.2" fill="#bcbcbc" opacity="0.45"/>
<circle cx="58.2" cy="423.3" r="6.5" fill="#bcbcbc" opacity="0.45"/>
<circle cx="52.8" cy="432.3" r="4.9" fill="#bcbcbc" opacity="0.45"/>
<circle cx="45.1" cy="437.2" r="3.9" fill="#bcbcbc" opacity="0.45"/>
<circle cx="36.2" cy="442.1" r="3.9" fill="#bcbcbc" opacity="0.45"/>
<circle cx="72.1" cy="441.3" r="4.5" fill="#bcbcbc" opacity="0.45"/>
<circle cx="86.0" cy="433.1" r="5.2" fill="#bcbcbc" opacity="0.45"/>
<circle cx="90.1" cy="441.3" r="3.9" fill="#bcbcbc" opacity="0.45"/>
<circle cx="93.4" cy="424.2" r="4.2" fill="#bcbcbc" opacity="0.45"/>
<circle cx="55.8" cy="448.7" r="4.5" fill="#bcbcbc" opacity="0.45"/>
<circle cx="20.6" cy="463.4" r="3.9" fill="#bcbcbc" opacity="0.45"/>
<circle cx="123.2" cy="412.7" r="6.5" fill="#bcbcbc" opacity="0.45"/>
<circle cx="129.8" cy="405.4" r="4.5" fill="#bcbcbc" opacity="0.45"/>
<circle cx="97.1" cy="442.9" r="4.2" fill="#bcbcbc" opacity="0.45"/>
<circle cx="100.4" cy="448.7" r="3.6" fill="#bcbcbc" opacity="0.45"/>
<circle cx="99.5" cy="454.4" r="3.9" fill="#bcbcbc" opacity="0.45"/>
<circle cx="108.5" cy="451.9" r="4.2" fill="#bcbcbc" opacity="0.45"/>
<circle cx="117.5" cy="459.3" r="4.2" fill="#bcbcbc" opacity="0.45"/>
<circle cx="129.8" cy="442.1" r="4.5" fill="#bcbcbc" opacity="0.45"/>
<circle cx="142.0" cy="442.5" r="4.5" fill="#bcbcbc" opacity="0.45"/>
<circle cx="142.9" cy="458.5" r="4.5" fill="#bcbcbc" opacity="0.45"/>
<circle cx="96.3" cy="469.1" r="3.6" fill="#bcbcbc" opacity="0.45"/>
<circle cx="103.6" cy="469.1" r="3.2" fill="#bcbcbc" opacity="0.45"/>
<circle cx="30.0" cy="366.7" r="3.1" fill="#bcbcbc" opacity="0.45"/>
<circle cx="16.8" cy="384.9" r="3.1" fill="#bcbcbc" opacity="0.45"/>
<circle cx="17.9" cy="345.2" r="3.1" fill="#bcbcbc" opacity="0.45"/>
<circle cx="72.8" cy="348.6" r="3.2" fill="#bcbcbc" opacity="0.45"/>
<circle cx="32.0" cy="354.5" r="3.2" fill="#bcbcbc" opacity="0.45"/>
<circle cx="16.8" cy="379.2" r="3.0" fill="#bcbcbc" opacity="0.45"/>
<circle cx="40.4" cy="391.2" r="3.3" fill="#bcbcbc" opacity="0.45"/>
<circle cx="51.7" cy="381.5" r="3.1" fill="#bcbcbc" opacity="0.45"/>
<circle cx="66.4" cy="348.0" r="3.0" fill="#bcbcbc" opacity="0.45"/>
<circle cx="71.5" cy="356.2" r="3.4" fill="#bcbcbc" opacity="0.45"/>
<circle cx="47.6" cy="340.0" r="3.2" fill="#bcbcbc" opacity="0.45"/>
<circle cx="27.2" cy="358.8" r="3.3" fill="#bcbcbc" opacity="0.45"/>
<circle cx="33.7" cy="386.3" r="3.2" fill="#bcbcbc" opacity="0.45"/>
<circle cx="47.8" cy="390.6" r="3.1" fill="#bcbcbc" opacity="0.45"/>
<circle cx="69.1" cy="377.6" r="3.1" fill="#bcbcbc" opacity="0.45"/>
<circle cx="58.9" cy="350.1" r="3.4" fill="#bcbcbc" opacity="0.45"/>
<circle cx="22.8" cy="357.2" r="3.1" fill="#bcbcbc" opacity="0.45"/>
<circle cx="57.9" cy="334.4" r="3.2" fill="#bcbcbc" opacity="0.45"/>
<circle cx="74.2" cy="371.0" r="3.5" fill="#bcbcbc" opacity="0.45"/>
<circle cx="33.7" cy="358.5" r="2.9" fill="#bcbcbc" opacity="0.45"/>
<circle cx="73.8" cy="381.7" r="3.5" fill="#bcbcbc" opacity="0.45"/>
<circle cx="65.0" cy="367.2" r="3.1" fill="#bcbcbc" opacity="0.45"/>
<circle cx="36.8" cy="361.2" r="3.4" fill="#bcbcbc" opacity="0.45"/>
<circle cx="34.6" cy="365.4" r="3.1" fill="#bcbcbc" opacity="0.45"/>
<circle cx="16.3" cy="350.5" r="3.5" fill="#bcbcbc" opacity="0.45"/>
<circle cx="47.0" cy="380.5" r="3.0" fill="#bcbcbc" opacity="0.45"/>
<circle cx="162.8" cy="390.9" r="3.1" fill="#bcbcbc" opacity="0.45"/>
<circle cx="170.4" cy="359.8" r="3.0" fill="#bcbcbc" opacity="0.45"/>
<circle cx="163.6" cy="399.3" r="3.2" fill="#bcbcbc" opacity="0.45"/>
<circle cx="130.0" cy="380.8" r="3.4" fill="#bcbcbc" opacity="0.45"/>
<circle cx="110.5" cy="362.6" r="3.1" fill="#bcbcbc" opacity="0.45"/>
<circle cx="161.1" cy="395.2" r="3.2" fill="#bcbcbc" opacity="0.45"/>
<circle cx="134.6" cy="386.4" r="3.5" fill="#bcbcbc" opacity="0.45"/>
<circle cx="109.4" cy="345.5" r="3.2" fill="#bcbcbc" opacity="0.45"/>
<circle cx="167.6" cy="373.8" r="3.2" fill="#bcbcbc" opacity="0.45"/>
<circle cx="110.7" cy="357.8" r="3.2" fill="#bcbcbc" opacity="0.45"/>
<circle cx="155.3" cy="366.7" r="3.2" fill="#bcbcbc" opacity="0.45"/>
<circle cx="151.7" cy="375.9" r="3.1" fill="#bcbcbc" opacity="0.45"/>
<circle cx="118.5" cy="372.8" r="3.0" fill="#bcbcbc" opacity="0.45"/>
<circle cx="171.0" cy="388.5" r="3.3" fill="#bcbcbc" opacity="0.45"/>
<circle cx="154.9" cy="372.7" r="3.3" fill="#bcbcbc" opacity="0.45"/>
<circle cx="108.1" cy="354.3" r="3.3" fill="#bcbcbc" opacity="0.45"/>
<circle cx="57.9" cy="438.2" r="3.3" fill="#bcbcbc" opacity="0.45"/>
<circle cx="48.8" cy="441.4" r="3.0" fill="#bcbcbc" opacity="0.45"/>
<circle cx="37.3" cy="433.2" r="3.0" fill="#bcbcbc" opacity="0.45"/>
<circle cx="39.9" cy="430.1" r="3.3" fill="#bcbcbc" opacity="0.45"/>
<circle cx="54.9" cy="406.2" r="2.9" fill="#bcbcbc" opacity="0.45"/>
<circle cx="33.1" cy="436.2" r="3.2" fill="#bcbcbc" opacity="0.45"/>
<circle cx="45.4" cy="414.7" r="3.0" fill="#bcbcbc" opacity="0.45"/>
<circle cx="26.1" cy="418.7" r="3.0" fill="#bcbcbc" opacity="0.45"/>
<circle cx="39.0" cy="419.2" r="3.1" fill="#bcbcbc" opacity="0.45"/>
<circle cx="19.9" cy="443.4" r="2.9" fill="#bcbcbc" opacity="0.45"/>
<circle cx="137.1" cy="412.5" r="2.8" fill="#bcbcbc" opacity="0.45"/>
<circle cx="134.1" cy="427.4" r="3.1" fill="#bcbcbc" opacity="0.45"/>
<circle cx="104.8" cy="425.4" r="3.0" fill="#bcbcbc" opacity="0.45"/>
<circle cx="108.1" cy="401.9" r="2.9" fill="#bcbcbc" opacity="0.45"/>
<circle cx="80.5" cy="423.2" r="3.1" fill="#bcbcbc" opacity="0.45"/>
<circle cx="79.2" cy="438.0" r="3.0" fill="#bcbcbc" opacity="0.45"/>
<circle cx="74.3" cy="432.6" r="2.9" fill="#bcbcbc" opacity="0.45"/>
<circle cx="130.7" cy="436.7" r="2.9" fill="#bcbcbc" opacity="0.45"/>
</g>
<circle cx="18.2" cy="336.6" r="3.2" fill="#2c2c2c"/>
<circle cx="18.2" cy="336.6" r="2.1" fill="#e8e8e8"/>
<circle cx="18.2" cy="336.6" r="1.1" fill="#f6f6f6"/>
<circle cx="23.9" cy="340.7" r="3.2" fill="#2c2c2c"/>
<circle cx="23.9" cy="340.7" r="2.1" fill="#dcdcdc"/>
<circle cx="23.9" cy="340.7" r="1.1" fill="#f6f6f6"/>
<circle cx="31.2" cy="334.2" r="4.6" fill="#2c2c2c"/>
<circle cx="31.2" cy="334.2" r="3.5" fill="#b4b4b4"/>
<circle cx="31.2" cy="334.2" r="2.1" fill="#c4c4c4"/>
<circle cx="29.6" cy="341.5" r="1.8" fill="#2c2c2c"/>
<circle cx="29.6" cy="341.5" r="0.8" fill="#d0d0d0"/>
<circle cx="29.6" cy="341.5" r="0.4" fill="#f6f6f6"/>
<circle cx="34.5" cy="342.3" r="2.5" fill="#2c2c2c"/>
<circle cx="34.5" cy="342.3" r="1.4" fill="#bcbcbc"/>
<circle cx="40.2" cy="342.3" r="2.5" fill="#2c2c2c"/>
<circle cx="40.2" cy="342.3" r="1.4" fill="#d0d0d0"/>
<circle cx="40.2" cy="342.3" r="0.8" fill="#f6f6f6"/>
<circle cx="31.2" cy="347.2" r="2.8" fill="#2c2c2c"/>
<circle cx="31.2" cy="347.2" r="1.7" fill="#c4c4c4"/>
<circle cx="24.7" cy="351.3" r="3.6" fill="#2c2c2c"/>
<circle cx="24.7" cy="351.3" r="2.5" fill="#b4b4b4"/>
<circle cx="24.7" cy="351.3" r="1.5" fill="#c4c4c4"/>
<circle cx="36.2" cy="348.9" r="2.1" fill="#2c2c2c"/>
<circle cx="36.2" cy="348.9" r="1.0" fill="#c4c4c4"/>
<circle cx="36.2" cy="348.9" r="0.6" fill="#f6f6f6"/>
<circle cx="45.1" cy="345.6" r="2.5" fill="#2c2c2c"/>
<circle cx="45.1" cy="345.6" r="1.4" fill="#d0d0d0"/>
<circle cx="45.1" cy="345.6" r="0.8" fill="#f6f6f6"/>
<circle cx="50.9" cy="346.4" r="2.8" fill="#2c2c2c"/>
<circle cx="50.9" cy="346.4" r="1.7" fill="#e8e8e8"/>
<circle cx="41.9" cy="335.8" r="2.8" fill="#2c2c2c"/>
<circle cx="41.9" cy="335.8" r="1.7" fill="#e8e8e8"/>
<circle cx="41.9" cy="335.8" r="0.9" fill="#f6f6f6"/>
<circle cx="49.2" cy="335.0" r="2.8" fill="#2c2c2c"/>
<circle cx="49.2" cy="335.0" r="1.7" fill="#d0d0d0"/>
<circle cx="49.2" cy="335.0" r="0.9" fill="#f6f6f6"/>
<circle cx="58.2" cy="341.5" r="3.5" fill="#2c2c2c"/>
<circle cx="58.2" cy="341.5" r="2.4" fill="#e8e8e8"/>
<circle cx="58.2" cy="341.5" r="1.3" fill="#f6f6f6"/>
<circle cx="66.4" cy="339.1" r="4.6" fill="#2c2c2c"/>
<circle cx="66.4" cy="339.1" r="3.5" fill="#b4b4b4"/>
<circle cx="66.4" cy="339.1" r="2.1" fill="#c4c4c4"/>
<circle cx="76.2" cy="335.8" r="5.2" fill="#2c2c2c"/>
<circle cx="76.2" cy="335.8" r="4.1" fill="#b4b4b4"/>
<circle cx="76.2" cy="335.8" r="2.5" fill="#c4c4c4"/>
<circle cx="17.4" cy="356.2" r="3.2" fill="#2c2c2c"/>
<circle cx="17.4" cy="356.2" r="2.1" fill="#e8e8e8"/>
<circle cx="53.3" cy="358.7" r="3.2" fill="#2c2c2c"/>
<circle cx="53.3" cy="358.7" r="2.1" fill="#c4c4c4"/>
<circle cx="60.7" cy="355.4" r="2.8" fill="#2c2c2c"/>
<circle cx="60.7" cy="355.4" r="1.7" fill="#e8e8e8"/>
<circle cx="66.4" cy="355.4" r="2.1" fill="#2c2c2c"/>
<circle cx="66.4" cy="355.4" r="1.0" fill="#d0d0d0"/>
<circle cx="61.5" cy="361.1" r="2.5" fill="#2c2c2c"/>
<circle cx="61.5" cy="361.1" r="1.4" fill="#dcdcdc"/>
<circle cx="49.2" cy="365.2" r="2.8" fill="#2c2c2c"/>
<circle cx="49.2" cy="365.2" r="1.7" fill="#dcdcdc"/>
<circle cx="56.6" cy="366.0" r="2.8" fill="#2c2c2c"/>
<circle cx="56.6" cy="366.0" r="1.7" fill="#bcbcbc"/>
<circle cx="41.9" cy="368.8" r="4.6" fill="#2c2c2c"/>
<circle cx="41.9" cy="368.8" r="3.5" fill="#b4b4b4"/>
<circle cx="41.9" cy="368.8" r="2.1" fill="#c4c4c4"/>
<circle cx="53.3" cy="370.9" r="2.5" fill="#2c2c2c"/>
<circle cx="53.3" cy="370.9" r="1.4" fill="#bcbcbc"/>
<circle cx="60.7" cy="370.1" r="2.8" fill="#2c2c2c"/>
<circle cx="60.7" cy="370.1" r="1.7" fill="#c4c4c4"/>
<circle cx="60.7" cy="370.1" r="0.9" fill="#f6f6f6"/>
<circle cx="46.8" cy="374.2" r="3.2" fill="#2c2c2c"/>
<circle cx="46.8" cy="374.2" r="2.1" fill="#dcdcdc"/>
<circle cx="46.8" cy="374.2" r="1.1" fill="#f6f6f6"/>
<circle cx="37.0" cy="374.2" r="2.1" fill="#2c2c2c"/>
<circle cx="37.0" cy="374.2" r="1.0" fill="#d0d0d0"/>
<circle cx="55.8" cy="375.9" r="2.5" fill="#2c2c2c"/>
<circle cx="55.8" cy="375.9" r="1.4" fill="#c4c4c4"/>
<circle cx="68.8" cy="372.6" r="2.8" fill="#2c2c2c"/>
<circle cx="68.8" cy="372.6" r="1.7" fill="#bcbcbc"/>
<circle cx="63.1" cy="382.4" r="4.6" fill="#2c2c2c"/>
<circle cx="63.1" cy="382.4" r="3.5" fill="#b4b4b4"/>
<circle cx="63.1" cy="382.4" r="2.1" fill="#c4c4c4"/>
<circle cx="71.3" cy="389.7" r="5.2" fill="#2c2c2c"/>
<circle cx="71.3" cy="389.7" r="4.1" fill="#b4b4b4"/>
<circle cx="71.3" cy="389.7" r="2.5" fill="#c4c4c4"/>
<circle cx="53.3" cy="388.1" r="3.5" fill="#2c2c2c"/>
<circle cx="53.3" cy="388.1" r="2.4" fill="#c4c4c4"/>
<circle cx="59.0" cy="390.6" r="3.2" fill="#2c2c2c"/>
<circle cx="59.0" cy="390.6" r="2.1" fill="#dcdcdc"/>
<circle cx="32.9" cy="379.1" r="2.8" fill="#2c2c2c"/>
<circle cx="32.9" cy="379.1" r="1.7" fill="#bcbcbc"/>
<circle cx="32.9" cy="379.1" r="0.9" fill="#f6f6f6"/>
<circle cx="41.1" cy="384.0" r="3.8" fill="#2c2c2c"/>
<circle cx="41.1" cy="384.0" r="2.7" fill="#c4c4c4"/>
<circle cx="29.6" cy="396.3" r="2.8" fill="#2c2c2c"/>
<circle cx="29.6" cy="396.3" r="1.7" fill="#bcbcbc"/>
<circle cx="29.6" cy="396.3" r="0.9" fill="#f6f6f6"/>
<circle cx="59.0" cy="397.9" r="2.5" fill="#2c2c2c"/>
<circle cx="59.0" cy="397.9" r="1.4" fill="#c4c4c4"/>
<circle cx="59.0" cy="397.9" r="0.8" fill="#f6f6f6"/>
<circle cx="68.8" cy="398.7" r="2.5" fill="#2c2c2c"/>
<circle cx="68.8" cy="398.7" r="1.4" fill="#c4c4c4"/>
<circle cx="68.8" cy="398.7" r="0.8" fill="#f6f6f6"/>
<circle cx="19.0" cy="397.9" r="2.1" fill="#2c2c2c"/>
<circle cx="19.0" cy="397.9" r="1.0" fill="#d0d0d0"/>
<circle cx="19.0" cy="397.9" r="0.6" fill="#f6f6f6"/>
<circle cx="78.6" cy="350.5" r="3.2" fill="#2c2c2c"/>
<circle cx="78.6" cy="350.5" r="2.1" fill="#dcdcdc"/>
<circle cx="82.7" cy="344.8" r="2.5" fill="#2c2c2c"/>
<circle cx="82.7" cy="344.8" r="1.4" fill="#c4c4c4"/>
<circle cx="82.7" cy="344.8" r="0.8" fill="#f6f6f6"/>
<circle cx="88.5" cy="347.2" r="2.1" fill="#2c2c2c"/>
<circle cx="88.5" cy="347.2" r="1.0" fill="#dcdcdc"/>
<circle cx="86.0" cy="341.5" r="1.8" fill="#2c2c2c"/>
<circle cx="86.0" cy="341.5" r="0.8" fill="#c4c4c4"/>
<circle cx="127.3" cy="339.1" r="4.9" fill="#2c2c2c"/>
<circle cx="127.3" cy="339.1" r="3.8" fill="#b4b4b4"/>
<circle cx="127.3" cy="339.1" r="2.3" fill="#c4c4c4"/>
<circle cx="146.9" cy="336.6" r="4.9" fill="#2c2c2c"/>
<circle cx="146.9" cy="336.6" r="3.8" fill="#b4b4b4"/>
<circle cx="146.9" cy="336.6" r="2.3" fill="#c4c4c4"/>
<circle cx="135.5" cy="343.2" r="4.6" fill="#2c2c2c"/>
<circle cx="135.5" cy="343.2" r="3.5" fill="#b4b4b4"/>
<circle cx="135.5" cy="343.2" r="2.1" fill="#c4c4c4"/>
<circle cx="145.3" cy="346.4" r="4.1" fill="#2c2c2c"/>
<circle cx="145.3" cy="346.4" r="3.0" fill="#b4b4b4"/>
<circle cx="145.3" cy="346.4" r="1.8" fill="#c4c4c4"/>
<circle cx="139.6" cy="337.4" r="2.5" fill="#2c2c2c"/>
<circle cx="139.6" cy="337.4" r="1.4" fill="#c4c4c4"/>
<circle cx="139.6" cy="337.4" r="0.8" fill="#f6f6f6"/>
<circle cx="116.7" cy="340.7" r="2.5" fill="#2c2c2c"/>
<circle cx="116.7" cy="340.7" r="1.4" fill="#d0d0d0"/>
<circle cx="99.5" cy="340.7" r="2.1" fill="#2c2c2c"/>
<circle cx="99.5" cy="340.7" r="1.0" fill="#e8e8e8"/>
<circle cx="122.4" cy="345.6" r="2.1" fill="#2c2c2c"/>
<circle cx="122.4" cy="345.6" r="1.0" fill="#bcbcbc"/>
<circle cx="115.9" cy="350.5" r="3.2" fill="#2c2c2c"/>
<circle cx="115.9" cy="350.5" r="2.1" fill="#bcbcbc"/>
<circle cx="115.9" cy="350.5" r="1.1" fill="#f6f6f6"/>
<circle cx="124.9" cy="353.8" r="3.8" fill="#2c2c2c"/>
<circle cx="124.9" cy="353.8" r="2.7" fill="#e8e8e8"/>
<circle cx="133.9" cy="351.3" r="2.5" fill="#2c2c2c"/>
<circle cx="133.9" cy="351.3" r="1.4" fill="#d0d0d0"/>
<circle cx="142.0" cy="355.4" r="3.2" fill="#2c2c2c"/>
<circle cx="142.0" cy="355.4" r="2.1" fill="#e8e8e8"/>
<circle cx="142.0" cy="355.4" r="1.1" fill="#f6f6f6"/>
<circle cx="152.7" cy="346.4" r="2.8" fill="#2c2c2c"/>
<circle cx="152.7" cy="346.4" r="1.7" fill="#bcbcbc"/>
<circle cx="152.7" cy="346.4" r="0.9" fill="#f6f6f6"/>
<circle cx="155.1" cy="339.1" r="2.1" fill="#2c2c2c"/>
<circle cx="155.1" cy="339.1" r="1.0" fill="#c4c4c4"/>
<circle cx="155.9" cy="354.6" r="4.6" fill="#2c2c2c"/>
<circle cx="155.9" cy="354.6" r="3.5" fill="#b4b4b4"/>
<circle cx="155.9" cy="354.6" r="2.1" fill="#c4c4c4"/>
<circle cx="172.3" cy="351.3" r="2.8" fill="#2c2c2c"/>
<circle cx="172.3" cy="351.3" r="1.7" fill="#d0d0d0"/>
<circle cx="172.3" cy="351.3" r="0.9" fill="#f6f6f6"/>
<circle cx="115.9" cy="358.7" r="2.5" fill="#2c2c2c"/>
<circle cx="115.9" cy="358.7" r="1.4" fill="#e8e8e8"/>
<circle cx="115.9" cy="358.7" r="0.8" fill="#f6f6f6"/>
<circle cx="125.7" cy="361.1" r="3.5" fill="#2c2c2c"/>
<circle cx="125.7" cy="361.1" r="2.4" fill="#c4c4c4"/>
<circle cx="125.7" cy="361.1" r="1.3" fill="#f6f6f6"/>
<circle cx="117.5" cy="365.2" r="2.8" fill="#2c2c2c"/>
<circle cx="117.5" cy="365.2" r="1.7" fill="#d0d0d0"/>
<circle cx="117.5" cy="365.2" r="0.9" fill="#f6f6f6"/>
<circle cx="136.3" cy="363.6" r="2.5" fill="#2c2c2c"/>
<circle cx="136.3" cy="363.6" r="1.4" fill="#e8e8e8"/>
<circle cx="142.9" cy="365.2" r="5.7" fill="#2c2c2c"/>
<circle cx="142.9" cy="365.2" r="4.6" fill="#b4b4b4"/>
<circle cx="142.9" cy="365.2" r="2.8" fill="#c4c4c4"/>
<circle cx="151.0" cy="362.8" r="2.8" fill="#2c2c2c"/>
<circle cx="151.0" cy="362.8" r="1.7" fill="#bcbcbc"/>
<circle cx="151.0" cy="362.8" r="0.9" fill="#f6f6f6"/>
<circle cx="161.6" cy="367.7" r="3.5" fill="#2c2c2c"/>
<circle cx="161.6" cy="367.7" r="2.4" fill="#c4c4c4"/>
<circle cx="161.6" cy="367.7" r="1.3" fill="#f6f6f6"/>
<circle cx="171.5" cy="368.5" r="3.5" fill="#2c2c2c"/>
<circle cx="171.5" cy="368.5" r="2.4" fill="#d0d0d0"/>
<circle cx="164.9" cy="362.8" r="2.1" fill="#2c2c2c"/>
<circle cx="164.9" cy="362.8" r="1.0" fill="#c4c4c4"/>
<circle cx="129.0" cy="371.8" r="5.7" fill="#2c2c2c"/>
<circle cx="129.0" cy="371.8" r="4.6" fill="#b4b4b4"/>
<circle cx="129.0" cy="371.8" r="2.8" fill="#c4c4c4"/>
<circle cx="107.7" cy="369.3" r="2.8" fill="#2c2c2c"/>
<circle cx="107.7" cy="369.3" r="1.7" fill="#dcdcdc"/>
<circle cx="107.7" cy="369.3" r="0.9" fill="#f6f6f6"/>
<circle cx="115.9" cy="379.1" r="3.2" fill="#2c2c2c"/>
<circle cx="115.9" cy="379.1" r="2.1" fill="#dcdcdc"/>
<circle cx="122.4" cy="377.5" r="2.5" fill="#2c2c2c"/>
<circle cx="122.4" cy="377.5" r="1.4" fill="#d0d0d0"/>
<circle cx="137.1" cy="378.3" r="2.8" fill="#2c2c2c"/>
<circle cx="137.1" cy="378.3" r="1.7" fill="#d0d0d0"/>
<circle cx="137.1" cy="378.3" r="0.9" fill="#f6f6f6"/>
<circle cx="142.0" cy="382.4" r="3.2" fill="#2c2c2c"/>
<circle cx="142.0" cy="382.4" r="2.1" fill="#e8e8e8"/>
<circle cx="146.9" cy="379.1" r="2.1" fill="#2c2c2c"/>
<circle cx="146.9" cy="379.1" r="1.0" fill="#dcdcdc"/>
<circle cx="160.8" cy="377.5" r="2.8" fill="#2c2c2c"/>
<circle cx="160.8" cy="377.5" r="1.7" fill="#d0d0d0"/>
<circle cx="169.8" cy="380.8" r="3.5" fill="#2c2c2c"/>
<circle cx="169.8" cy="380.8" r="2.4" fill="#dcdcdc"/>
<circle cx="169.8" cy="380.8" r="1.3" fill="#f6f6f6"/>
<circle cx="113.4" cy="388.1" r="3.5" fill="#2c2c2c"/>
<circle cx="113.4" cy="388.1" r="2.4" fill="#e8e8e8"/>
<circle cx="113.4" cy="388.1" r="1.3" fill="#f6f6f6"/>
<circle cx="124.9" cy="387.3" r="3.2" fill="#2c2c2c"/>
<circle cx="124.9" cy="387.3" r="2.1" fill="#e8e8e8"/>
<circle cx="124.9" cy="387.3" r="1.1" fill="#f6f6f6"/>
<circle cx="125.7" cy="394.6" r="3.6" fill="#2c2c2c"/>
<circle cx="125.7" cy="394.6" r="2.5" fill="#b4b4b4"/>
<circle cx="125.7" cy="394.6" r="1.5" fill="#c4c4c4"/>
<circle cx="131.4" cy="392.2" r="2.5" fill="#2c2c2c"/>
<circle cx="131.4" cy="392.2" r="1.4" fill="#c4c4c4"/>
<circle cx="131.4" cy="392.2" r="0.8" fill="#f6f6f6"/>
<circle cx="138.8" cy="393.8" r="4.1" fill="#2c2c2c"/>
<circle cx="138.8" cy="393.8" r="3.0" fill="#b4b4b4"/>
<circle cx="138.8" cy="393.8" r="1.8" fill="#c4c4c4"/>
<circle cx="115.1" cy="396.3" r="3.2" fill="#2c2c2c"/>
<circle cx="115.1" cy="396.3" r="2.1" fill="#c4c4c4"/>
<circle cx="142.0" cy="374.2" r="0.8" fill="#2e2e2e"/>
<circle cx="146.9" cy="374.2" r="0.8" fill="#2e2e2e"/>
<circle cx="151.0" cy="373.4" r="0.8" fill="#2e2e2e"/>
<circle cx="132.2" cy="384.0" r="0.8" fill="#2e2e2e"/>
<circle cx="133.9" cy="386.5" r="0.8" fill="#2e2e2e"/>
<circle cx="155.9" cy="364.4" r="0.8" fill="#2e2e2e"/>
<circle cx="25.5" cy="405.4" r="2.5" fill="#2c2c2c"/>
<circle cx="25.5" cy="405.4" r="1.4" fill="#d0d0d0"/>
<circle cx="32.1" cy="408.6" r="2.8" fill="#2c2c2c"/>
<circle cx="32.1" cy="408.6" r="1.7" fill="#e8e8e8"/>
<circle cx="32.1" cy="408.6" r="0.9" fill="#f6f6f6"/>
<circle cx="37.8" cy="405.4" r="3.8" fill="#2c2c2c"/>
<circle cx="37.8" cy="405.4" r="2.7" fill="#d0d0d0"/>
<circle cx="37.8" cy="405.4" r="1.5" fill="#f6f6f6"/>
<circle cx="41.1" cy="415.2" r="1.8" fill="#2c2c2c"/>
<circle cx="41.1" cy="415.2" r="0.8" fill="#d0d0d0"/>
<circle cx="33.7" cy="416.8" r="3.2" fill="#2c2c2c"/>
<circle cx="33.7" cy="416.8" r="2.1" fill="#c4c4c4"/>
<circle cx="33.7" cy="416.8" r="1.1" fill="#f6f6f6"/>
<circle cx="30.4" cy="425.0" r="2.8" fill="#2c2c2c"/>
<circle cx="30.4" cy="425.0" r="1.7" fill="#dcdcdc"/>
<circle cx="23.9" cy="427.4" r="2.5" fill="#2c2c2c"/>
<circle cx="23.9" cy="427.4" r="1.4" fill="#bcbcbc"/>
<circle cx="18.2" cy="429.1" r="2.1" fill="#2c2c2c"/>
<circle cx="18.2" cy="429.1" r="1.0" fill="#e8e8e8"/>
<circle cx="36.2" cy="426.6" r="2.1" fill="#2c2c2c"/>
<circle cx="36.2" cy="426.6" r="1.0" fill="#e8e8e8"/>
<circle cx="46.0" cy="421.7" r="2.8" fill="#2c2c2c"/>
<circle cx="46.0" cy="421.7" r="1.7" fill="#dcdcdc"/>
<circle cx="52.5" cy="414.3" r="1.8" fill="#2c2c2c"/>
<circle cx="52.5" cy="414.3" r="0.8" fill="#d0d0d0"/>
<circle cx="52.5" cy="414.3" r="0.4" fill="#f6f6f6"/>
<circle cx="53.3" cy="401.3" r="2.5" fill="#2c2c2c"/>
<circle cx="53.3" cy="401.3" r="1.4" fill="#c4c4c4"/>
<circle cx="53.3" cy="401.3" r="0.8" fill="#f6f6f6"/>
<circle cx="59.9" cy="404.5" r="2.5" fill="#2c2c2c"/>
<circle cx="59.9" cy="404.5" r="1.4" fill="#bcbcbc"/>
<circle cx="65.6" cy="407.8" r="3.5" fill="#2c2c2c"/>
<circle cx="65.6" cy="407.8" r="2.4" fill="#d0d0d0"/>
<circle cx="65.6" cy="407.8" r="1.3" fill="#f6f6f6"/>
<circle cx="76.2" cy="402.1" r="2.8" fill="#2c2c2c"/>
<circle cx="76.2" cy="402.1" r="1.7" fill="#e8e8e8"/>
<circle cx="87.6" cy="402.9" r="3.5" fill="#2c2c2c"/>
<circle cx="87.6" cy="402.9" r="2.4" fill="#e8e8e8"/>
<circle cx="87.6" cy="402.9" r="1.3" fill="#f6f6f6"/>
<circle cx="86.0" cy="413.5" r="4.9" fill="#2c2c2c"/>
<circle cx="86.0" cy="413.5" r="3.8" fill="#b4b4b4"/>
<circle cx="86.0" cy="413.5" r="2.3" fill="#c4c4c4"/>
<circle cx="71.3" cy="421.7" r="3.8" fill="#2c2c2c"/>
<circle cx="71.3" cy="421.7" r="2.7" fill="#bcbcbc"/>
<circle cx="58.2" cy="423.3" r="4.9" fill="#2c2c2c"/>
<circle cx="58.2" cy="423.3" r="3.8" fill="#b4b4b4"/>
<circle cx="58.2" cy="423.3" r="2.3" fill="#c4c4c4"/>
<circle cx="52.8" cy="432.3" r="3.5" fill="#2c2c2c"/>
<circle cx="52.8" cy="432.3" r="2.4" fill="#bcbcbc"/>
<circle cx="52.8" cy="432.3" r="1.3" fill="#f6f6f6"/>
<circle cx="45.1" cy="437.2" r="2.5" fill="#2c2c2c"/>
<circle cx="45.1" cy="437.2" r="1.4" fill="#e8e8e8"/>
<circle cx="45.1" cy="437.2" r="0.8" fill="#f6f6f6"/>
<circle cx="36.2" cy="442.1" r="2.5" fill="#2c2c2c"/>
<circle cx="36.2" cy="442.1" r="1.4" fill="#dcdcdc"/>
<circle cx="36.2" cy="442.1" r="0.8" fill="#f6f6f6"/>
<circle cx="72.1" cy="441.3" r="3.2" fill="#2c2c2c"/>
<circle cx="72.1" cy="441.3" r="2.1" fill="#c4c4c4"/>
<circle cx="72.1" cy="441.3" r="1.1" fill="#f6f6f6"/>
<circle cx="86.0" cy="433.1" r="3.6" fill="#2c2c2c"/>
<circle cx="86.0" cy="433.1" r="2.5" fill="#b4b4b4"/>
<circle cx="86.0" cy="433.1" r="1.5" fill="#c4c4c4"/>
<circle cx="90.1" cy="441.3" r="2.5" fill="#2c2c2c"/>
<circle cx="90.1" cy="441.3" r="1.4" fill="#c4c4c4"/>
<circle cx="93.4" cy="424.2" r="2.8" fill="#2c2c2c"/>
<circle cx="93.4" cy="424.2" r="1.7" fill="#d0d0d0"/>
<circle cx="93.4" cy="424.2" r="0.9" fill="#f6f6f6"/>
<circle cx="55.8" cy="448.7" r="3.2" fill="#2c2c2c"/>
<circle cx="55.8" cy="448.7" r="2.1" fill="#dcdcdc"/>
<circle cx="67.2" cy="444.6" r="1.6" fill="#2e2e2e"/>
<circle cx="20.6" cy="463.4" r="2.5" fill="#2c2c2c"/>
<circle cx="20.6" cy="463.4" r="1.4" fill="#dcdcdc"/>
<circle cx="31.2" cy="447.0" r="0.8" fill="#2e2e2e"/>
<circle cx="34.5" cy="448.7" r="0.8" fill="#2e2e2e"/>
<circle cx="38.6" cy="451.1" r="0.8" fill="#2e2e2e"/>
<circle cx="40.2" cy="444.6" r="0.8" fill="#2e2e2e"/>
<circle cx="49.2" cy="447.0" r="0.8" fill="#2e2e2e"/>
<circle cx="67.2" cy="430.7" r="0.8" fill="#2e2e2e"/>
<circle cx="66.4" cy="434.8" r="0.8" fill="#2e2e2e"/>
<circle cx="68.8" cy="414.3" r="0.8" fill="#2e2e2e"/>
<circle cx="74.6" cy="411.9" r="0.8" fill="#2e2e2e"/>
<circle cx="77.0" cy="409.4" r="0.8" fill="#2e2e2e"/>
<circle cx="81.9" cy="449.5" r="0.8" fill="#2e2e2e"/>
<circle cx="86.8" cy="456.8" r="0.8" fill="#2e2e2e"/>
<circle cx="49.2" cy="405.4" r="0.8" fill="#2e2e2e"/>
<circle cx="56.6" cy="409.4" r="0.8" fill="#2e2e2e"/>
<circle cx="78.6" cy="430.7" r="0.8" fill="#2e2e2e"/>
<circle cx="80.3" cy="437.2" r="0.8" fill="#2e2e2e"/>
<circle cx="62.3" cy="437.2" r="0.8" fill="#2e2e2e"/>
<circle cx="123.2" cy="412.7" r="4.9" fill="#303030"/>
<circle cx="123.2" cy="412.7" r="3.9" fill="#c4c4c4"/>
<circle cx="123.2" cy="412.7" r="2.5" fill="#eeeeee"/>
<circle cx="129.8" cy="405.4" r="3.2" fill="#2c2c2c"/>
<circle cx="129.8" cy="405.4" r="2.1" fill="#bcbcbc"/>
<ellipse cx="112.6" cy="433.1" rx="4.9" ry="2.5" fill="#8a8a8a" stroke="#2c2c2c" stroke-width="1.0" transform="rotate(20 112.6 433.1)"/>
<circle cx="97.1" cy="442.9" r="2.8" fill="#2c2c2c"/>
<circle cx="97.1" cy="442.9" r="1.7" fill="#dcdcdc"/>
<circle cx="97.1" cy="442.9" r="0.9" fill="#f6f6f6"/>
<circle cx="100.4" cy="448.7" r="2.1" fill="#2c2c2c"/>
<circle cx="100.4" cy="448.7" r="1.0" fill="#e8e8e8"/>
<circle cx="100.4" cy="448.7" r="0.6" fill="#f6f6f6"/>
<circle cx="99.5" cy="454.4" r="2.5" fill="#2c2c2c"/>
<circle cx="99.5" cy="454.4" r="1.4" fill="#c4c4c4"/>
<circle cx="99.5" cy="454.4" r="0.8" fill="#f6f6f6"/>
<circle cx="108.5" cy="451.9" r="2.8" fill="#2c2c2c"/>
<circle cx="108.5" cy="451.9" r="1.7" fill="#bcbcbc"/>
<circle cx="117.5" cy="459.3" r="2.8" fill="#2c2c2c"/>
<circle cx="117.5" cy="459.3" r="1.7" fill="#e8e8e8"/>
<circle cx="117.5" cy="459.3" r="0.9" fill="#f6f6f6"/>
<circle cx="129.8" cy="442.1" r="3.2" fill="#2c2c2c"/>
<circle cx="129.8" cy="442.1" r="2.1" fill="#c4c4c4"/>
<circle cx="142.0" cy="442.5" r="3.2" fill="#2c2c2c"/>
<circle cx="142.0" cy="442.5" r="2.1" fill="#c4c4c4"/>
<circle cx="142.0" cy="442.5" r="1.1" fill="#f6f6f6"/>
<circle cx="142.9" cy="458.5" r="3.2" fill="#2c2c2c"/>
<circle cx="142.9" cy="458.5" r="2.1" fill="#dcdcdc"/>
<circle cx="142.9" cy="458.5" r="1.1" fill="#f6f6f6"/>
<circle cx="95.5" cy="409.4" r="2.0" fill="#333"/>
<circle cx="95.5" cy="409.4" r="1.0" fill="#6c6c6c"/>
<circle cx="104.4" cy="406.2" r="1.6" fill="#333"/>
<circle cx="104.4" cy="406.2" r="0.6" fill="#6c6c6c"/>
<circle cx="95.5" cy="459.3" r="2.0" fill="#333"/>
<circle cx="95.5" cy="459.3" r="1.0" fill="#6c6c6c"/>
<circle cx="96.3" cy="469.1" r="2.1" fill="#2c2c2c"/>
<circle cx="96.3" cy="469.1" r="1.0" fill="#dcdcdc"/>
<circle cx="96.3" cy="469.1" r="0.6" fill="#f6f6f6"/>
<circle cx="103.6" cy="469.1" r="1.8" fill="#2c2c2c"/>
<circle cx="103.6" cy="469.1" r="0.8" fill="#e8e8e8"/>
<circle cx="103.6" cy="469.1" r="0.4" fill="#f6f6f6"/>
<circle cx="114.2" cy="417.6" r="0.8" fill="#2e2e2e"/>
<circle cx="118.3" cy="422.5" r="0.8" fill="#2e2e2e"/>
<circle cx="121.6" cy="424.2" r="0.8" fill="#2e2e2e"/>
<circle cx="133.0" cy="416.8" r="0.8" fill="#2e2e2e"/>
<circle cx="137.1" cy="410.3" r="0.8" fill="#2e2e2e"/>
<circle cx="139.6" cy="417.6" r="0.8" fill="#2e2e2e"/>
<circle cx="133.0" cy="425.8" r="0.8" fill="#2e2e2e"/>
<circle cx="142.9" cy="426.6" r="0.8" fill="#2e2e2e"/>
<circle cx="151.0" cy="427.4" r="0.8" fill="#2e2e2e"/>
<circle cx="163.3" cy="422.5" r="0.8" fill="#2e2e2e"/>
<circle cx="169.0" cy="411.1" r="0.8" fill="#2e2e2e"/>
<circle cx="132.2" cy="433.1" r="0.8" fill="#2e2e2e"/>
<circle cx="137.1" cy="436.4" r="0.8" fill="#2e2e2e"/>
<circle cx="147.8" cy="438.0" r="0.8" fill="#2e2e2e"/>
<circle cx="124.1" cy="438.9" r="0.8" fill="#2e2e2e"/>
<circle cx="117.5" cy="445.4" r="0.8" fill="#2e2e2e"/>
<circle cx="128.1" cy="447.9" r="0.8" fill="#2e2e2e"/>
<circle cx="125.7" cy="454.4" r="0.8" fill="#2e2e2e"/>
<circle cx="121.6" cy="456.0" r="0.8" fill="#2e2e2e"/>
<circle cx="114.2" cy="454.4" r="0.8" fill="#2e2e2e"/>
<circle cx="103.6" cy="426.6" r="0.8" fill="#2e2e2e"/>
<circle cx="100.4" cy="433.1" r="0.8" fill="#2e2e2e"/>
<circle cx="133.9" cy="449.5" r="0.8" fill="#2e2e2e"/>
<circle cx="167.4" cy="432.3" r="0.8" fill="#2e2e2e"/>
<circle cx="140.4" cy="465.0" r="0.8" fill="#2e2e2e"/>
<circle cx="123.2" cy="464.2" r="0.8" fill="#2e2e2e"/>
<circle cx="143.7" cy="420.9" r="0.8" fill="#2e2e2e"/>
<circle cx="30.0" cy="366.7" r="1.7" fill="#2c2c2c"/>
<circle cx="30.0" cy="366.7" r="0.8" fill="#c4c4c4"/>
<circle cx="16.8" cy="384.9" r="1.6" fill="#2c2c2c"/>
<circle cx="16.8" cy="384.9" r="0.8" fill="#d0d0d0"/>
<circle cx="17.9" cy="345.2" r="1.7" fill="#2c2c2c"/>
<circle cx="17.9" cy="345.2" r="0.8" fill="#d0d0d0"/>
<circle cx="72.8" cy="348.6" r="1.7" fill="#2c2c2c"/>
<circle cx="72.8" cy="348.6" r="0.8" fill="#bcbcbc"/>
<circle cx="32.0" cy="354.5" r="1.7" fill="#2c2c2c"/>
<circle cx="32.0" cy="354.5" r="0.8" fill="#d0d0d0"/>
<circle cx="32.0" cy="354.5" r="0.4" fill="#f6f6f6"/>
<circle cx="16.8" cy="379.2" r="1.6" fill="#2c2c2c"/>
<circle cx="16.8" cy="379.2" r="0.8" fill="#dcdcdc"/>
<circle cx="40.4" cy="391.2" r="1.8" fill="#2c2c2c"/>
<circle cx="40.4" cy="391.2" r="0.8" fill="#c4c4c4"/>
<circle cx="51.7" cy="381.5" r="1.7" fill="#2c2c2c"/>
<circle cx="51.7" cy="381.5" r="0.8" fill="#c4c4c4"/>
<circle cx="66.4" cy="348.0" r="1.6" fill="#2c2c2c"/>
<circle cx="66.4" cy="348.0" r="0.8" fill="#dcdcdc"/>
<circle cx="71.5" cy="356.2" r="1.9" fill="#2c2c2c"/>
<circle cx="71.5" cy="356.2" r="0.8" fill="#dcdcdc"/>
<circle cx="47.6" cy="340.0" r="1.8" fill="#2c2c2c"/>
<circle cx="47.6" cy="340.0" r="0.8" fill="#e8e8e8"/>
<circle cx="27.2" cy="358.8" r="1.9" fill="#2c2c2c"/>
<circle cx="27.2" cy="358.8" r="0.8" fill="#c4c4c4"/>
<circle cx="27.2" cy="358.8" r="0.4" fill="#f6f6f6"/>
<circle cx="33.7" cy="386.3" r="1.8" fill="#2c2c2c"/>
<circle cx="33.7" cy="386.3" r="0.8" fill="#e8e8e8"/>
<circle cx="47.8" cy="390.6" r="1.7" fill="#2c2c2c"/>
<circle cx="47.8" cy="390.6" r="0.8" fill="#dcdcdc"/>
<circle cx="47.8" cy="390.6" r="0.4" fill="#f6f6f6"/>
<circle cx="69.1" cy="377.6" r="1.7" fill="#2c2c2c"/>
<circle cx="69.1" cy="377.6" r="0.8" fill="#dcdcdc"/>
<circle cx="58.9" cy="350.1" r="1.9" fill="#2c2c2c"/>
<circle cx="58.9" cy="350.1" r="0.8" fill="#bcbcbc"/>
<circle cx="58.9" cy="350.1" r="0.5" fill="#f6f6f6"/>
<circle cx="22.8" cy="357.2" r="1.7" fill="#2c2c2c"/>
<circle cx="22.8" cy="357.2" r="0.8" fill="#c4c4c4"/>
<circle cx="57.9" cy="334.4" r="1.7" fill="#2c2c2c"/>
<circle cx="57.9" cy="334.4" r="0.8" fill="#dcdcdc"/>
<circle cx="57.9" cy="334.4" r="0.4" fill="#f6f6f6"/>
<circle cx="74.2" cy="371.0" r="2.0" fill="#2c2c2c"/>
<circle cx="74.2" cy="371.0" r="0.9" fill="#c4c4c4"/>
<circle cx="74.2" cy="371.0" r="0.5" fill="#f6f6f6"/>
<circle cx="33.7" cy="358.5" r="1.5" fill="#2c2c2c"/>
<circle cx="33.7" cy="358.5" r="0.8" fill="#bcbcbc"/>
<circle cx="33.7" cy="358.5" r="0.4" fill="#f6f6f6"/>
<circle cx="73.8" cy="381.7" r="2.1" fill="#2c2c2c"/>
<circle cx="73.8" cy="381.7" r="1.0" fill="#bcbcbc"/>
<circle cx="65.0" cy="367.2" r="1.6" fill="#2c2c2c"/>
<circle cx="65.0" cy="367.2" r="0.8" fill="#dcdcdc"/>
<circle cx="36.8" cy="361.2" r="2.0" fill="#2c2c2c"/>
<circle cx="36.8" cy="361.2" r="0.9" fill="#e8e8e8"/>
<circle cx="36.8" cy="361.2" r="0.5" fill="#f6f6f6"/>
<circle cx="34.6" cy="365.4" r="1.7" fill="#2c2c2c"/>
<circle cx="34.6" cy="365.4" r="0.8" fill="#dcdcdc"/>
<circle cx="16.3" cy="350.5" r="2.1" fill="#2c2c2c"/>
<circle cx="16.3" cy="350.5" r="1.0" fill="#dcdcdc"/>
<circle cx="47.0" cy="380.5" r="1.5" fill="#2c2c2c"/>
<circle cx="47.0" cy="380.5" r="0.8" fill="#e8e8e8"/>
<circle cx="162.8" cy="390.9" r="1.6" fill="#2c2c2c"/>
<circle cx="162.8" cy="390.9" r="0.8" fill="#dcdcdc"/>
<circle cx="162.8" cy="390.9" r="0.4" fill="#f6f6f6"/>
<circle cx="170.4" cy="359.8" r="1.5" fill="#2c2c2c"/>
<circle cx="170.4" cy="359.8" r="0.8" fill="#c4c4c4"/>
<circle cx="163.6" cy="399.3" r="1.8" fill="#2c2c2c"/>
<circle cx="163.6" cy="399.3" r="0.8" fill="#d0d0d0"/>
<circle cx="130.0" cy="380.8" r="2.0" fill="#2c2c2c"/>
<circle cx="130.0" cy="380.8" r="0.9" fill="#dcdcdc"/>
<circle cx="110.5" cy="362.6" r="1.6" fill="#2c2c2c"/>
<circle cx="110.5" cy="362.6" r="0.8" fill="#bcbcbc"/>
<circle cx="110.5" cy="362.6" r="0.4" fill="#f6f6f6"/>
<circle cx="161.1" cy="395.2" r="1.7" fill="#2c2c2c"/>
<circle cx="161.1" cy="395.2" r="0.8" fill="#bcbcbc"/>
<circle cx="134.6" cy="386.4" r="2.1" fill="#2c2c2c"/>
<circle cx="134.6" cy="386.4" r="1.0" fill="#d0d0d0"/>
<circle cx="109.4" cy="345.5" r="1.8" fill="#2c2c2c"/>
<circle cx="109.4" cy="345.5" r="0.8" fill="#dcdcdc"/>
<circle cx="167.6" cy="373.8" r="1.8" fill="#2c2c2c"/>
<circle cx="167.6" cy="373.8" r="0.8" fill="#dcdcdc"/>
<circle cx="110.7" cy="357.8" r="1.7" fill="#2c2c2c"/>
<circle cx="110.7" cy="357.8" r="0.8" fill="#e8e8e8"/>
<circle cx="110.7" cy="357.8" r="0.4" fill="#f6f6f6"/>
<circle cx="155.3" cy="366.7" r="1.8" fill="#2c2c2c"/>
<circle cx="155.3" cy="366.7" r="0.8" fill="#c4c4c4"/>
<circle cx="151.7" cy="375.9" r="1.7" fill="#2c2c2c"/>
<circle cx="151.7" cy="375.9" r="0.8" fill="#c4c4c4"/>
<circle cx="118.5" cy="372.8" r="1.6" fill="#2c2c2c"/>
<circle cx="118.5" cy="372.8" r="0.8" fill="#c4c4c4"/>
<circle cx="118.5" cy="372.8" r="0.4" fill="#f6f6f6"/>
<circle cx="171.0" cy="388.5" r="1.9" fill="#2c2c2c"/>
<circle cx="171.0" cy="388.5" r="0.8" fill="#bcbcbc"/>
<circle cx="171.0" cy="388.5" r="0.4" fill="#f6f6f6"/>
<circle cx="154.9" cy="372.7" r="1.9" fill="#2c2c2c"/>
<circle cx="154.9" cy="372.7" r="0.8" fill="#e8e8e8"/>
<circle cx="154.9" cy="372.7" r="0.4" fill="#f6f6f6"/>
<circle cx="108.1" cy="354.3" r="1.9" fill="#2c2c2c"/>
<circle cx="108.1" cy="354.3" r="0.8" fill="#e8e8e8"/>
<circle cx="57.9" cy="438.2" r="1.9" fill="#2c2c2c"/>
<circle cx="57.9" cy="438.2" r="0.8" fill="#c4c4c4"/>
<circle cx="57.9" cy="438.2" r="0.4" fill="#f6f6f6"/>
<circle cx="48.8" cy="441.4" r="1.6" fill="#2c2c2c"/>
<circle cx="48.8" cy="441.4" r="0.8" fill="#d0d0d0"/>
<circle cx="37.3" cy="433.2" r="1.5" fill="#2c2c2c"/>
<circle cx="37.3" cy="433.2" r="0.8" fill="#e8e8e8"/>
<circle cx="37.3" cy="433.2" r="0.4" fill="#f6f6f6"/>
<circle cx="39.9" cy="430.1" r="1.8" fill="#2c2c2c"/>
<circle cx="39.9" cy="430.1" r="0.8" fill="#d0d0d0"/>
<circle cx="54.9" cy="406.2" r="1.5" fill="#2c2c2c"/>
<circle cx="54.9" cy="406.2" r="0.8" fill="#e8e8e8"/>
<circle cx="54.9" cy="406.2" r="0.4" fill="#f6f6f6"/>
<circle cx="33.1" cy="436.2" r="1.7" fill="#2c2c2c"/>
<circle cx="33.1" cy="436.2" r="0.8" fill="#c4c4c4"/>
<circle cx="33.1" cy="436.2" r="0.4" fill="#f6f6f6"/>
<circle cx="45.4" cy="414.7" r="1.6" fill="#2c2c2c"/>
<circle cx="45.4" cy="414.7" r="0.8" fill="#dcdcdc"/>
<circle cx="45.4" cy="414.7" r="0.4" fill="#f6f6f6"/>
<circle cx="26.1" cy="418.7" r="1.5" fill="#2c2c2c"/>
<circle cx="26.1" cy="418.7" r="0.8" fill="#d0d0d0"/>
<circle cx="39.0" cy="419.2" r="1.6" fill="#2c2c2c"/>
<circle cx="39.0" cy="419.2" r="0.8" fill="#d0d0d0"/>
<circle cx="39.0" cy="419.2" r="0.4" fill="#f6f6f6"/>
<circle cx="19.9" cy="443.4" r="1.5" fill="#2c2c2c"/>
<circle cx="19.9" cy="443.4" r="0.8" fill="#dcdcdc"/>
<circle cx="137.1" cy="412.5" r="1.4" fill="#2c2c2c"/>
<circle cx="137.1" cy="412.5" r="0.8" fill="#d0d0d0"/>
<circle cx="134.1" cy="427.4" r="1.6" fill="#2c2c2c"/>
<circle cx="134.1" cy="427.4" r="0.8" fill="#bcbcbc"/>
<circle cx="104.8" cy="425.4" r="1.5" fill="#2c2c2c"/>
<circle cx="104.8" cy="425.4" r="0.8" fill="#dcdcdc"/>
<circle cx="104.8" cy="425.4" r="0.4" fill="#f6f6f6"/>
<circle cx="108.1" cy="401.9" r="1.5" fill="#2c2c2c"/>
<circle cx="108.1" cy="401.9" r="0.8" fill="#bcbcbc"/>
<circle cx="80.5" cy="423.2" r="1.6" fill="#2c2c2c"/>
<circle cx="80.5" cy="423.2" r="0.8" fill="#d0d0d0"/>
<circle cx="79.2" cy="438.0" r="1.6" fill="#2c2c2c"/>
<circle cx="79.2" cy="438.0" r="0.8" fill="#dcdcdc"/>
<circle cx="74.3" cy="432.6" r="1.5" fill="#2c2c2c"/>
<circle cx="74.3" cy="432.6" r="0.8" fill="#e8e8e8"/>
<circle cx="74.3" cy="432.6" r="0.4" fill="#f6f6f6"/>
<circle cx="130.7" cy="436.7" r="1.5" fill="#2c2c2c"/>
<circle cx="130.7" cy="436.7" r="0.8" fill="#bcbcbc"/>
</g>
</g>
<g mask="url(#m2)">
<rect x="175" y="326" width="170" height="150" fill="#727272"/>
<g filter="url(#blbig)">
<ellipse cx="200" cy="380" rx="22" ry="22" fill="#808080" opacity="0.5"/>
<ellipse cx="310" cy="430" rx="35" ry="22" fill="#8c8c8c" opacity="0.5"/>
<ellipse cx="215" cy="440" rx="40" ry="25" fill="#666666" opacity="0.7"/>
<ellipse cx="330" cy="400" rx="12" ry="40" fill="#686868" opacity="0.6"/>
<ellipse cx="260" cy="340" rx="70" ry="10" fill="#6c6c6c" opacity="0.5"/>
</g>
<g filter="url(#bl0)">
<circle cx="196.2" cy="335.0" r="5.5" fill="none" stroke="#999999" stroke-width="0.6"/>
<circle cx="196.2" cy="335.0" r="4.6" fill="url(#rim0)"/>
<circle cx="195.7" cy="334.7" r="3.8" fill="url(#gd0)"/>
<circle cx="204.4" cy="335.5" r="5.5" fill="none" stroke="#999999" stroke-width="0.6"/>
<circle cx="204.4" cy="335.5" r="4.6" fill="url(#rim0)"/>
<circle cx="203.8" cy="335.2" r="3.8" fill="url(#gd0)"/>
<circle cx="232.2" cy="339.9" r="5.9" fill="none" stroke="#999999" stroke-width="0.6"/>
<circle cx="232.2" cy="339.9" r="4.9" fill="url(#rim0)"/>
<circle cx="231.6" cy="339.6" r="4.1" fill="url(#gd0)"/>
<circle cx="255.1" cy="336.6" r="5.5" fill="none" stroke="#999999" stroke-width="0.6"/>
<circle cx="255.1" cy="336.6" r="4.6" fill="url(#rim0)"/>
<circle cx="254.5" cy="336.3" r="3.8" fill="url(#gd0)"/>
<circle cx="202.0" cy="351.3" r="6.3" fill="none" stroke="#999999" stroke-width="0.6"/>
<circle cx="202.0" cy="351.3" r="5.2" fill="url(#rim0)"/>
<circle cx="201.3" cy="351.0" r="4.4" fill="url(#gd0)"/>
<circle cx="224.9" cy="350.2" r="5.9" fill="none" stroke="#999999" stroke-width="0.6"/>
<circle cx="224.9" cy="350.2" r="4.9" fill="url(#rim0)"/>
<circle cx="224.2" cy="349.8" r="4.1" fill="url(#gd0)"/>
<circle cx="182.4" cy="361.1" r="5.5" fill="none" stroke="#999999" stroke-width="0.6"/>
<circle cx="182.4" cy="361.1" r="4.6" fill="url(#rim0)"/>
<circle cx="181.8" cy="360.8" r="3.8" fill="url(#gd0)"/>
<circle cx="222.4" cy="362.3" r="6.3" fill="none" stroke="#999999" stroke-width="0.6"/>
<circle cx="222.4" cy="362.3" r="5.2" fill="url(#rim0)"/>
<circle cx="221.7" cy="361.9" r="4.4" fill="url(#gd0)"/>
<circle cx="199.5" cy="363.9" r="5.5" fill="none" stroke="#999999" stroke-width="0.6"/>
<circle cx="199.5" cy="363.9" r="4.6" fill="url(#rim0)"/>
<circle cx="198.9" cy="363.6" r="3.8" fill="url(#gd0)"/>
<circle cx="245.3" cy="355.1" r="4.1" fill="#8c8c8c"/>
<circle cx="245.3" cy="355.1" r="3.2" fill="url(#gk)"/>
<circle cx="244.2" cy="355.4" r="0.9" fill="#b8b8b8"/>
<circle cx="244.3" cy="355.3" r="0.7" fill="#b8b8b8"/>
<circle cx="215.9" cy="368.5" r="4.6" fill="#8c8c8c"/>
<circle cx="215.9" cy="368.5" r="3.6" fill="url(#gk)"/>
<circle cx="216.3" cy="369.6" r="0.8" fill="#b8b8b8"/>
<circle cx="215.9" cy="368.3" r="0.6" fill="#b8b8b8"/>
<circle cx="237.1" cy="377.0" r="5.9" fill="none" stroke="#999999" stroke-width="0.6"/>
<circle cx="237.1" cy="377.0" r="4.9" fill="url(#rim0)"/>
<circle cx="236.5" cy="376.7" r="4.1" fill="url(#gd0)"/>
<circle cx="231.4" cy="387.3" r="5.5" fill="none" stroke="#999999" stroke-width="0.6"/>
<circle cx="231.4" cy="387.3" r="4.6" fill="url(#rim0)"/>
<circle cx="230.8" cy="387.0" r="3.8" fill="url(#gd0)"/>
<circle cx="246.9" cy="388.1" r="5.5" fill="none" stroke="#999999" stroke-width="0.6"/>
<circle cx="246.9" cy="388.1" r="4.6" fill="url(#rim0)"/>
<circle cx="246.3" cy="387.8" r="3.8" fill="url(#gd0)"/>
<circle cx="217.8" cy="390.6" r="2.9" fill="#8a8a8a"/>
<circle cx="217.8" cy="390.6" r="2.1" fill="#3c3c3c"/>
<circle cx="257.5" cy="383.2" r="4.9" fill="none" stroke="#999999" stroke-width="0.6"/>
<circle cx="257.5" cy="383.2" r="4.1" fill="url(#rim0)"/>
<circle cx="257.0" cy="382.9" r="3.4" fill="url(#gd0)"/>
<circle cx="253.5" cy="349.7" r="5.5" fill="#454545"/>
<circle cx="253.5" cy="349.7" r="4.6" fill="url(#gb)"/>
<circle cx="255.7" cy="351.1" r="0.9" fill="#f5f5f5"/>
<circle cx="252.4" cy="349.0" r="0.8" fill="#828282"/>
<circle cx="253.1" cy="349.4" r="0.5" fill="#6e6e6e"/>
<circle cx="253.6" cy="349.7" r="1.0" fill="#6e6e6e"/>
<circle cx="255.0" cy="350.0" r="0.8" fill="#fafafa"/>
<circle cx="255.9" cy="362.8" r="4.6" fill="#454545"/>
<circle cx="255.9" cy="362.8" r="3.8" fill="url(#gb)"/>
<circle cx="254.2" cy="362.6" r="0.8" fill="#828282"/>
<circle cx="257.5" cy="363.7" r="0.7" fill="#6e6e6e"/>
<circle cx="258.2" cy="362.7" r="0.9" fill="#e6e6e6"/>
<circle cx="256.0" cy="361.4" r="0.5" fill="#6e6e6e"/>
<circle cx="256.0" cy="361.7" r="1.0" fill="#5f5f5f"/>
<circle cx="202.0" cy="377.5" r="4.6" fill="#454545"/>
<circle cx="202.0" cy="377.5" r="3.8" fill="url(#gb)"/>
<circle cx="202.0" cy="377.5" r="0.9" fill="#fafafa"/>
<circle cx="202.6" cy="379.9" r="0.8" fill="#828282"/>
<circle cx="201.8" cy="377.6" r="0.9" fill="#828282"/>
<circle cx="201.9" cy="377.7" r="0.7" fill="#5f5f5f"/>
<circle cx="202.0" cy="377.2" r="0.6" fill="#f5f5f5"/>
<circle cx="194.6" cy="390.6" r="5.1" fill="#454545"/>
<circle cx="194.6" cy="390.6" r="4.3" fill="url(#gb)"/>
<circle cx="196.0" cy="390.7" r="0.8" fill="#828282"/>
<circle cx="193.3" cy="390.1" r="0.6" fill="#828282"/>
<circle cx="194.8" cy="389.3" r="0.7" fill="#5f5f5f"/>
<circle cx="194.0" cy="390.9" r="0.7" fill="#6e6e6e"/>
<circle cx="193.7" cy="393.1" r="0.6" fill="#5f5f5f"/>
<circle cx="192.2" cy="370.1" r="3.6" fill="#8c8c8c"/>
<circle cx="192.2" cy="370.1" r="2.8" fill="url(#gk)"/>
<circle cx="193.2" cy="370.1" r="0.7" fill="#b8b8b8"/>
<circle cx="192.4" cy="370.2" r="0.7" fill="#b8b8b8"/>
<circle cx="209.3" cy="375.0" r="4.1" fill="#8c8c8c"/>
<circle cx="209.3" cy="375.0" r="3.2" fill="url(#gk)"/>
<circle cx="210.6" cy="375.1" r="0.8" fill="#b8b8b8"/>
<circle cx="209.2" cy="375.1" r="0.6" fill="#b8b8b8"/>
<circle cx="194.6" cy="397.9" r="4.6" fill="#454545"/>
<circle cx="194.6" cy="397.9" r="3.8" fill="url(#gb)"/>
<circle cx="194.6" cy="397.9" r="0.7" fill="#6e6e6e"/>
<circle cx="192.1" cy="398.7" r="0.8" fill="#6e6e6e"/>
<circle cx="195.3" cy="398.7" r="0.9" fill="#e6e6e6"/>
<circle cx="196.5" cy="396.7" r="0.6" fill="#fafafa"/>
<circle cx="195.6" cy="399.4" r="0.8" fill="#828282"/>
<circle cx="184.8" cy="388.9" r="4.1" fill="#8c8c8c"/>
<circle cx="184.8" cy="388.9" r="3.2" fill="url(#gk)"/>
<circle cx="186.5" cy="388.4" r="0.7" fill="#b8b8b8"/>
<circle cx="184.6" cy="389.0" r="0.5" fill="#b8b8b8"/>
<circle cx="206.1" cy="396.3" r="4.1" fill="#8c8c8c"/>
<circle cx="206.1" cy="396.3" r="3.2" fill="url(#gk)"/>
<circle cx="206.5" cy="396.2" r="0.8" fill="#b8b8b8"/>
<circle cx="206.0" cy="398.0" r="0.7" fill="#b8b8b8"/>
<circle cx="188.9" cy="381.6" r="3.7" fill="#454545"/>
<circle cx="188.9" cy="381.6" r="3.1" fill="url(#gb)"/>
<circle cx="188.8" cy="381.9" r="0.9" fill="#f5f5f5"/>
<circle cx="189.6" cy="382.3" r="0.9" fill="#6e6e6e"/>
<circle cx="188.4" cy="381.2" r="1.1" fill="#fafafa"/>
<circle cx="188.9" cy="381.4" r="0.7" fill="#fafafa"/>
<circle cx="189.3" cy="381.7" r="0.7" fill="#6e6e6e"/>
<circle cx="199.5" cy="384.8" r="2.6" fill="#454545"/>
<circle cx="199.5" cy="384.8" r="2.2" fill="url(#gb)"/>
<circle cx="199.7" cy="384.8" r="0.6" fill="#5f5f5f"/>
<circle cx="200.5" cy="384.7" r="0.9" fill="#6e6e6e"/>
<circle cx="200.4" cy="384.5" r="1.1" fill="#5f5f5f"/>
<circle cx="200.4" cy="384.3" r="1.1" fill="#f5f5f5"/>
<circle cx="199.4" cy="384.8" r="0.5" fill="#e6e6e6"/>
<circle cx="210.1" cy="383.2" r="2.9" fill="#454545"/>
<circle cx="210.1" cy="383.2" r="2.5" fill="url(#gb)"/>
<circle cx="209.4" cy="384.8" r="0.5" fill="#6e6e6e"/>
<circle cx="210.1" cy="383.3" r="1.1" fill="#828282"/>
<circle cx="209.7" cy="381.9" r="1.0" fill="#e6e6e6"/>
<circle cx="210.9" cy="383.6" r="0.5" fill="#5f5f5f"/>
<circle cx="210.2" cy="383.2" r="0.8" fill="#f5f5f5"/>
<circle cx="186.4" cy="375.0" r="2.3" fill="#8c8c8c"/>
<circle cx="186.4" cy="375.0" r="1.8" fill="url(#gk)"/>
<circle cx="186.1" cy="374.7" r="0.7" fill="#b8b8b8"/>
<circle cx="186.4" cy="375.0" r="0.8" fill="#b8b8b8"/>
<circle cx="271.9" cy="335.8" r="4.1" fill="#8c8c8c"/>
<circle cx="271.9" cy="335.8" r="3.2" fill="url(#gk)"/>
<circle cx="273.7" cy="335.7" r="0.8" fill="#b8b8b8"/>
<circle cx="270.7" cy="336.8" r="0.7" fill="#b8b8b8"/>
<circle cx="283.3" cy="345.6" r="5.9" fill="none" stroke="#999999" stroke-width="0.6"/>
<circle cx="283.3" cy="345.6" r="4.9" fill="url(#rim0)"/>
<circle cx="282.7" cy="345.3" r="4.1" fill="url(#gd0)"/>
<circle cx="294.8" cy="342.3" r="5.9" fill="none" stroke="#999999" stroke-width="0.6"/>
<circle cx="294.8" cy="342.3" r="4.9" fill="url(#rim0)"/>
<circle cx="294.1" cy="342.0" r="4.1" fill="url(#gd0)"/>
<circle cx="305.4" cy="346.4" r="6.3" fill="none" stroke="#999999" stroke-width="0.6"/>
<circle cx="305.4" cy="346.4" r="5.2" fill="url(#rim0)"/>
<circle cx="304.7" cy="346.1" r="4.4" fill="url(#gd0)"/>
<circle cx="312.8" cy="335.8" r="5.5" fill="none" stroke="#999999" stroke-width="0.6"/>
<circle cx="312.8" cy="335.8" r="4.6" fill="url(#rim0)"/>
<circle cx="312.2" cy="335.5" r="3.8" fill="url(#gd0)"/>
<circle cx="337.3" cy="334.2" r="4.3" fill="none" stroke="#999999" stroke-width="0.6"/>
<circle cx="337.3" cy="334.2" r="3.6" fill="url(#rim0)"/>
<circle cx="336.8" cy="333.9" r="3.0" fill="url(#gd0)"/>
<circle cx="323.4" cy="355.4" r="11.1" fill="#7c7c7c" stroke="#a2a2a2" stroke-width="0.8"/>
<circle cx="323.4" cy="355.4" r="9.4" fill="#707070" stroke="#4a4a4a" stroke-width="0.7"/>
<circle cx="323.9" cy="356.2" r="5.6" fill="#5e5e5e"/>
<circle cx="317.8" cy="357.6" r="0.6" fill="#3c3c3c"/>
<circle cx="323.2" cy="356.0" r="0.5" fill="#464646"/>
<circle cx="319.0" cy="355.5" r="1.1" fill="#8c8c8c"/>
<circle cx="325.5" cy="353.8" r="0.6" fill="#323232"/>
<circle cx="318.1" cy="354.8" r="0.7" fill="#505050"/>
<circle cx="321.7" cy="355.4" r="0.8" fill="#8c8c8c"/>
<circle cx="324.4" cy="358.3" r="1.1" fill="#323232"/>
<circle cx="325.4" cy="353.6" r="0.9" fill="#404040"/>
<circle cx="323.6" cy="356.3" r="0.7" fill="#3c3c3c"/>
<circle cx="321.7" cy="348.9" r="0.7" fill="#969696"/>
<circle cx="325.9" cy="357.6" r="1.1" fill="#a0a0a0"/>
<circle cx="320.7" cy="357.9" r="1.0" fill="#505050"/>
<circle cx="320.9" cy="360.7" r="0.7" fill="#3c3c3c"/>
<circle cx="322.5" cy="353.6" r="0.7" fill="#3c3c3c"/>
<circle cx="321.6" cy="353.2" r="0.6" fill="#8c8c8c"/>
<circle cx="323.5" cy="356.4" r="0.5" fill="#464646"/>
<circle cx="319.2" cy="356.9" r="1.0" fill="#404040"/>
<circle cx="328.1" cy="354.2" r="0.6" fill="#505050"/>
<circle cx="323.2" cy="360.5" r="1.0" fill="#3c3c3c"/>
<circle cx="324.2" cy="357.2" r="0.7" fill="#969696"/>
<circle cx="319.0" cy="358.9" r="1.1" fill="#464646"/>
<circle cx="318.0" cy="358.8" r="0.8" fill="#505050"/>
<circle cx="271.9" cy="360.3" r="6.3" fill="none" stroke="#999999" stroke-width="0.6"/>
<circle cx="271.9" cy="360.3" r="5.2" fill="url(#rim0)"/>
<circle cx="271.2" cy="360.0" r="4.4" fill="url(#gd0)"/>
<circle cx="297.2" cy="372.6" r="5.9" fill="none" stroke="#999999" stroke-width="0.6"/>
<circle cx="297.2" cy="372.6" r="4.9" fill="url(#rim0)"/>
<circle cx="296.6" cy="372.2" r="4.1" fill="url(#gd0)"/>
<circle cx="308.7" cy="377.5" r="5.5" fill="none" stroke="#999999" stroke-width="0.6"/>
<circle cx="308.7" cy="377.5" r="4.6" fill="url(#rim0)"/>
<circle cx="308.1" cy="377.2" r="3.8" fill="url(#gd0)"/>
<circle cx="328.3" cy="381.6" r="6.3" fill="none" stroke="#999999" stroke-width="0.6"/>
<circle cx="328.3" cy="381.6" r="5.2" fill="url(#rim0)"/>
<circle cx="327.6" cy="381.2" r="4.4" fill="url(#gd0)"/>
<circle cx="311.1" cy="385.2" r="2.3" fill="#8a8a8a"/>
<circle cx="311.1" cy="385.2" r="1.6" fill="#3c3c3c"/>
<circle cx="336.8" cy="373.7" r="2.3" fill="#8a8a8a"/>
<circle cx="336.8" cy="373.7" r="1.6" fill="#3c3c3c"/>
<circle cx="290.7" cy="373.7" r="1.0" fill="#3a3a3a"/>
<circle cx="271.9" cy="384.0" r="5.5" fill="none" stroke="#999999" stroke-width="0.6"/>
<circle cx="271.9" cy="384.0" r="4.6" fill="url(#rim0)"/>
<circle cx="271.3" cy="383.7" r="3.8" fill="url(#gd0)"/>
<circle cx="302.1" cy="393.8" r="5.9" fill="none" stroke="#999999" stroke-width="0.6"/>
<circle cx="302.1" cy="393.8" r="4.9" fill="url(#rim0)"/>
<circle cx="301.5" cy="393.5" r="4.1" fill="url(#gd0)"/>
<circle cx="314.4" cy="395.5" r="5.9" fill="none" stroke="#999999" stroke-width="0.6"/>
<circle cx="314.4" cy="395.5" r="4.9" fill="url(#rim0)"/>
<circle cx="313.8" cy="395.1" r="4.1" fill="url(#gd0)"/>
<circle cx="328.3" cy="395.5" r="5.5" fill="none" stroke="#999999" stroke-width="0.6"/>
<circle cx="328.3" cy="395.5" r="4.6" fill="url(#rim0)"/>
<circle cx="327.7" cy="395.1" r="3.8" fill="url(#gd0)"/>
<circle cx="262.1" cy="394.6" r="5.5" fill="none" stroke="#999999" stroke-width="0.6"/>
<circle cx="262.1" cy="394.6" r="4.6" fill="url(#rim0)"/>
<circle cx="261.5" cy="394.3" r="3.8" fill="url(#gd0)"/>
<circle cx="289.1" cy="397.9" r="4.9" fill="none" stroke="#999999" stroke-width="0.6"/>
<circle cx="289.1" cy="397.9" r="4.1" fill="url(#rim0)"/>
<circle cx="288.5" cy="397.6" r="3.4" fill="url(#gd0)"/>
<circle cx="274.3" cy="397.9" r="4.3" fill="none" stroke="#999999" stroke-width="0.6"/>
<circle cx="274.3" cy="397.9" r="3.6" fill="url(#rim0)"/>
<circle cx="273.9" cy="397.7" r="3.0" fill="url(#gd0)"/>
<circle cx="340.5" cy="383.2" r="3.9" fill="none" stroke="#999999" stroke-width="0.6"/>
<circle cx="340.5" cy="383.2" r="3.3" fill="url(#rim0)"/>
<circle cx="340.1" cy="383.0" r="2.7" fill="url(#gd0)"/>
<circle cx="262.1" cy="348.9" r="3.7" fill="#454545"/>
<circle cx="262.1" cy="348.9" r="3.1" fill="url(#gb)"/>
<circle cx="260.8" cy="349.3" r="1.0" fill="#5f5f5f"/>
<circle cx="260.7" cy="348.4" r="0.8" fill="#e6e6e6"/>
<circle cx="260.7" cy="349.2" r="0.6" fill="#828282"/>
<circle cx="263.3" cy="347.6" r="1.1" fill="#f5f5f5"/>
<circle cx="262.5" cy="350.8" r="1.1" fill="#e6e6e6"/>
<circle cx="263.7" cy="358.7" r="2.7" fill="#454545"/>
<circle cx="263.7" cy="358.7" r="2.3" fill="url(#gb)"/>
<circle cx="262.5" cy="358.4" r="0.7" fill="#828282"/>
<circle cx="264.1" cy="358.2" r="0.5" fill="#5f5f5f"/>
<circle cx="263.3" cy="359.3" r="0.7" fill="#f5f5f5"/>
<circle cx="264.0" cy="360.1" r="0.8" fill="#f5f5f5"/>
<circle cx="264.0" cy="359.2" r="1.0" fill="#fafafa"/>
<circle cx="266.2" cy="370.1" r="4.6" fill="#8c8c8c"/>
<circle cx="266.2" cy="370.1" r="3.6" fill="url(#gk)"/>
<circle cx="263.9" cy="370.6" r="0.9" fill="#b8b8b8"/>
<circle cx="264.6" cy="370.0" r="0.7" fill="#b8b8b8"/>
<circle cx="270.3" cy="350.5" r="2.7" fill="#454545"/>
<circle cx="270.3" cy="350.5" r="2.3" fill="url(#gb)"/>
<circle cx="271.0" cy="349.9" r="0.9" fill="#fafafa"/>
<circle cx="269.4" cy="350.9" r="1.0" fill="#6e6e6e"/>
<circle cx="269.7" cy="349.9" r="1.0" fill="#6e6e6e"/>
<circle cx="270.2" cy="351.6" r="1.1" fill="#6e6e6e"/>
<circle cx="270.6" cy="351.9" r="1.1" fill="#6e6e6e"/>
<circle cx="282.5" cy="332.5" r="3.9" fill="none" stroke="#999999" stroke-width="0.6"/>
<circle cx="282.5" cy="332.5" r="3.3" fill="url(#rim0)"/>
<circle cx="282.1" cy="332.3" r="2.7" fill="url(#gd0)"/>
<circle cx="262.9" cy="335.8" r="4.3" fill="none" stroke="#999999" stroke-width="0.6"/>
<circle cx="262.9" cy="335.8" r="3.6" fill="url(#rim0)"/>
<circle cx="262.4" cy="335.6" r="3.0" fill="url(#gd0)"/>
<circle cx="184.8" cy="400.5" r="5.1" fill="#454545"/>
<circle cx="184.8" cy="400.5" r="4.3" fill="url(#gb)"/>
<circle cx="184.6" cy="402.0" r="0.7" fill="#f5f5f5"/>
<circle cx="182.9" cy="400.4" r="0.5" fill="#f5f5f5"/>
<circle cx="183.6" cy="400.3" r="1.0" fill="#6e6e6e"/>
<circle cx="185.0" cy="400.7" r="0.6" fill="#6e6e6e"/>
<circle cx="182.1" cy="401.2" r="1.0" fill="#5f5f5f"/>
<circle cx="217.5" cy="406.2" r="5.5" fill="none" stroke="#999999" stroke-width="0.6"/>
<circle cx="217.5" cy="406.2" r="4.6" fill="url(#rim0)"/>
<circle cx="216.9" cy="405.9" r="3.8" fill="url(#gd0)"/>
<circle cx="227.0" cy="405.4" r="2.3" fill="#8a8a8a"/>
<circle cx="227.0" cy="405.4" r="1.6" fill="#3c3c3c"/>
<circle cx="215.0" cy="417.3" r="5.9" fill="none" stroke="#999999" stroke-width="0.6"/>
<circle cx="215.0" cy="417.3" r="4.9" fill="url(#rim0)"/>
<circle cx="214.4" cy="416.9" r="4.1" fill="url(#gd0)"/>
<circle cx="226.5" cy="416.0" r="6.3" fill="none" stroke="#999999" stroke-width="0.6"/>
<circle cx="226.5" cy="416.0" r="5.2" fill="url(#rim0)"/>
<circle cx="225.8" cy="415.6" r="4.4" fill="url(#gd0)"/>
<circle cx="219.5" cy="413.0" r="2.1" fill="#555"/>
<circle cx="219.5" cy="413.0" r="1.4" fill="#f4f4f4"/>
<circle cx="204.4" cy="424.2" r="5.5" fill="none" stroke="#999999" stroke-width="0.6"/>
<circle cx="204.4" cy="424.2" r="4.6" fill="url(#rim0)"/>
<circle cx="203.8" cy="423.8" r="3.8" fill="url(#gd0)"/>
<circle cx="214.2" cy="428.7" r="2.9" fill="#8a8a8a"/>
<circle cx="214.2" cy="428.7" r="2.1" fill="#3c3c3c"/>
<circle cx="244.5" cy="409.4" r="5.9" fill="none" stroke="#999999" stroke-width="0.6"/>
<circle cx="244.5" cy="409.4" r="4.9" fill="url(#rim0)"/>
<circle cx="243.8" cy="409.1" r="4.1" fill="url(#gd0)"/>
<circle cx="251.8" cy="402.1" r="4.9" fill="none" stroke="#999999" stroke-width="0.6"/>
<circle cx="251.8" cy="402.1" r="4.1" fill="url(#rim0)"/>
<circle cx="251.3" cy="401.8" r="3.4" fill="url(#gd0)"/>
<circle cx="253.5" cy="409.8" r="2.9" fill="#8c8c8c"/>
<circle cx="253.5" cy="409.8" r="2.3" fill="url(#gk)"/>
<circle cx="253.4" cy="410.5" r="0.6" fill="#b8b8b8"/>
<circle cx="252.4" cy="410.3" r="0.9" fill="#b8b8b8"/>
<circle cx="182.4" cy="428.2" r="5.7" fill="#868686" stroke="#a4a4a4" stroke-width="0.8"/>
<circle cx="182.4" cy="428.2" r="3.1" fill="#6c6c6c"/>
<circle cx="216.7" cy="439.7" r="6.9" fill="none" stroke="#999999" stroke-width="0.6"/>
<circle cx="216.7" cy="439.7" r="5.7" fill="url(#rim0)"/>
<circle cx="215.9" cy="439.3" r="4.8" fill="url(#gd0)"/>
<circle cx="233.8" cy="444.6" r="5.9" fill="none" stroke="#999999" stroke-width="0.6"/>
<circle cx="233.8" cy="444.6" r="4.9" fill="url(#rim0)"/>
<circle cx="233.2" cy="444.2" r="4.1" fill="url(#gd0)"/>
<circle cx="223.2" cy="450.6" r="2.6" fill="#8a8a8a"/>
<circle cx="223.2" cy="450.6" r="1.9" fill="#3c3c3c"/>
<circle cx="245.3" cy="452.8" r="4.9" fill="#8c8c8c"/>
<circle cx="245.3" cy="452.8" r="3.8" fill="url(#gk)"/>
<circle cx="244.5" cy="452.9" r="0.6" fill="#b8b8b8"/>
<circle cx="243.6" cy="451.2" r="0.6" fill="#b8b8b8"/>
<circle cx="244.5" cy="441.8" r="1.3" fill="#3a3a3a"/>
<circle cx="217.5" cy="459.3" r="5.9" fill="none" stroke="#999999" stroke-width="0.6"/>
<circle cx="217.5" cy="459.3" r="4.9" fill="url(#rim0)"/>
<circle cx="216.9" cy="459.0" r="4.1" fill="url(#gd0)"/>
<circle cx="203.6" cy="466.6" r="5.9" fill="none" stroke="#999999" stroke-width="0.6"/>
<circle cx="203.6" cy="466.6" r="4.9" fill="url(#rim0)"/>
<circle cx="203.0" cy="466.3" r="4.1" fill="url(#gd0)"/>
<circle cx="224.0" cy="466.6" r="5.5" fill="none" stroke="#999999" stroke-width="0.6"/>
<circle cx="224.0" cy="466.6" r="4.6" fill="url(#rim0)"/>
<circle cx="223.4" cy="466.3" r="3.8" fill="url(#gd0)"/>
<circle cx="248.6" cy="466.6" r="5.5" fill="none" stroke="#999999" stroke-width="0.6"/>
<circle cx="248.6" cy="466.6" r="4.6" fill="url(#rim0)"/>
<circle cx="248.0" cy="466.3" r="3.8" fill="url(#gd0)"/>
<circle cx="184.8" cy="465.8" r="3.9" fill="none" stroke="#999999" stroke-width="0.6"/>
<circle cx="184.8" cy="465.8" r="3.3" fill="url(#rim0)"/>
<circle cx="184.4" cy="465.6" r="2.7" fill="url(#gd0)"/>
<circle cx="209.3" cy="454.4" r="0.7" fill="#3a3a3a"/>
<circle cx="278.4" cy="410.3" r="5.5" fill="none" stroke="#999999" stroke-width="0.6"/>
<circle cx="278.4" cy="410.3" r="4.6" fill="url(#rim0)"/>
<circle cx="277.8" cy="409.9" r="3.8" fill="url(#gd0)"/>
<circle cx="298.0" cy="410.3" r="5.9" fill="none" stroke="#999999" stroke-width="0.6"/>
<circle cx="298.0" cy="410.3" r="4.9" fill="url(#rim0)"/>
<circle cx="297.4" cy="409.9" r="4.1" fill="url(#gd0)"/>
<circle cx="288.2" cy="412.7" r="5.1" fill="#454545"/>
<circle cx="288.2" cy="412.7" r="4.3" fill="url(#gb)"/>
<circle cx="288.3" cy="412.6" r="0.6" fill="#fafafa"/>
<circle cx="289.1" cy="412.8" r="0.9" fill="#fafafa"/>
<circle cx="288.0" cy="412.5" r="0.9" fill="#f5f5f5"/>
<circle cx="289.4" cy="411.2" r="0.9" fill="#828282"/>
<circle cx="286.9" cy="412.5" r="0.7" fill="#5f5f5f"/>
<circle cx="276.0" cy="419.2" r="3.7" fill="#454545"/>
<circle cx="276.0" cy="419.2" r="3.1" fill="url(#gb)"/>
<circle cx="276.6" cy="418.0" r="0.8" fill="#828282"/>
<circle cx="275.5" cy="419.1" r="0.6" fill="#6e6e6e"/>
<circle cx="274.5" cy="418.0" r="0.6" fill="#828282"/>
<circle cx="275.4" cy="418.7" r="0.6" fill="#6e6e6e"/>
<circle cx="275.2" cy="421.1" r="0.6" fill="#fafafa"/>
<circle cx="282.5" cy="420.1" r="3.6" fill="#8c8c8c"/>
<circle cx="282.5" cy="420.1" r="2.8" fill="url(#gk)"/>
<circle cx="282.7" cy="419.9" r="0.6" fill="#b8b8b8"/>
<circle cx="282.4" cy="419.6" r="0.5" fill="#b8b8b8"/>
<circle cx="285.0" cy="429.9" r="5.1" fill="#454545"/>
<circle cx="285.0" cy="429.9" r="4.3" fill="url(#gb)"/>
<circle cx="285.6" cy="428.7" r="1.0" fill="#fafafa"/>
<circle cx="285.6" cy="431.7" r="1.0" fill="#f5f5f5"/>
<circle cx="285.6" cy="431.9" r="1.0" fill="#e6e6e6"/>
<circle cx="286.1" cy="430.9" r="1.0" fill="#6e6e6e"/>
<circle cx="287.5" cy="429.8" r="1.0" fill="#5f5f5f"/>
<circle cx="296.4" cy="430.7" r="4.6" fill="#454545"/>
<circle cx="296.4" cy="430.7" r="3.8" fill="url(#gb)"/>
<circle cx="296.5" cy="430.8" r="0.8" fill="#6e6e6e"/>
<circle cx="297.5" cy="429.9" r="0.6" fill="#f5f5f5"/>
<circle cx="297.1" cy="432.9" r="1.1" fill="#828282"/>
<circle cx="296.6" cy="430.8" r="1.1" fill="#5f5f5f"/>
<circle cx="296.6" cy="430.8" r="0.7" fill="#5f5f5f"/>
<circle cx="303.8" cy="425.0" r="5.5" fill="#454545"/>
<circle cx="303.8" cy="425.0" r="4.6" fill="url(#gb)"/>
<circle cx="302.4" cy="424.8" r="0.9" fill="#f5f5f5"/>
<circle cx="303.7" cy="424.9" r="0.6" fill="#5f5f5f"/>
<circle cx="301.4" cy="425.7" r="0.7" fill="#fafafa"/>
<circle cx="303.5" cy="424.8" r="1.0" fill="#e6e6e6"/>
<circle cx="305.8" cy="423.3" r="0.9" fill="#828282"/>
<circle cx="294.8" cy="438.0" r="3.7" fill="#454545"/>
<circle cx="294.8" cy="438.0" r="3.1" fill="url(#gb)"/>
<circle cx="295.9" cy="437.6" r="0.6" fill="#6e6e6e"/>
<circle cx="296.5" cy="437.8" r="0.7" fill="#f5f5f5"/>
<circle cx="294.7" cy="436.3" r="1.0" fill="#5f5f5f"/>
<circle cx="295.3" cy="438.6" r="0.8" fill="#e6e6e6"/>
<circle cx="295.0" cy="436.4" r="0.7" fill="#828282"/>
<circle cx="267.8" cy="423.8" r="1.5" fill="#555"/>
<circle cx="267.8" cy="423.8" r="0.8" fill="#f4f4f4"/>
<circle cx="330.7" cy="414.3" r="5.5" fill="none" stroke="#999999" stroke-width="0.6"/>
<circle cx="330.7" cy="414.3" r="4.6" fill="url(#rim0)"/>
<circle cx="330.1" cy="414.0" r="3.8" fill="url(#gd0)"/>
<circle cx="327.5" cy="422.5" r="5.1" fill="#454545"/>
<circle cx="327.5" cy="422.5" r="4.3" fill="url(#gb)"/>
<circle cx="328.4" cy="424.8" r="0.7" fill="#f5f5f5"/>
<circle cx="328.6" cy="422.6" r="0.9" fill="#6e6e6e"/>
<circle cx="328.3" cy="422.8" r="1.1" fill="#e6e6e6"/>
<circle cx="326.4" cy="424.2" r="0.8" fill="#6e6e6e"/>
<circle cx="328.9" cy="423.3" r="0.8" fill="#fafafa"/>
<circle cx="336.5" cy="427.4" r="5.1" fill="#454545"/>
<circle cx="336.5" cy="427.4" r="4.3" fill="url(#gb)"/>
<circle cx="335.7" cy="425.2" r="1.1" fill="#f5f5f5"/>
<circle cx="336.7" cy="427.6" r="0.6" fill="#5f5f5f"/>
<circle cx="336.3" cy="427.5" r="0.6" fill="#5f5f5f"/>
<circle cx="337.3" cy="427.5" r="0.7" fill="#e6e6e6"/>
<circle cx="335.0" cy="426.9" r="1.1" fill="#6e6e6e"/>
<circle cx="318.5" cy="426.6" r="4.1" fill="#8c8c8c"/>
<circle cx="318.5" cy="426.6" r="3.2" fill="url(#gk)"/>
<circle cx="318.6" cy="426.4" r="0.7" fill="#b8b8b8"/>
<circle cx="317.8" cy="425.7" r="0.8" fill="#b8b8b8"/>
<circle cx="329.9" cy="435.6" r="4.6" fill="#454545"/>
<circle cx="329.9" cy="435.6" r="3.8" fill="url(#gb)"/>
<circle cx="330.9" cy="435.3" r="1.1" fill="#5f5f5f"/>
<circle cx="329.5" cy="435.7" r="0.8" fill="#6e6e6e"/>
<circle cx="328.9" cy="434.9" r="0.8" fill="#e6e6e6"/>
<circle cx="328.3" cy="435.3" r="0.7" fill="#e6e6e6"/>
<circle cx="329.2" cy="435.7" r="1.1" fill="#828282"/>
<circle cx="315.2" cy="436.4" r="3.7" fill="#454545"/>
<circle cx="315.2" cy="436.4" r="3.1" fill="url(#gb)"/>
<circle cx="315.1" cy="435.8" r="0.5" fill="#fafafa"/>
<circle cx="314.0" cy="435.7" r="0.7" fill="#828282"/>
<circle cx="313.7" cy="437.7" r="0.9" fill="#f5f5f5"/>
<circle cx="313.8" cy="435.6" r="0.7" fill="#fafafa"/>
<circle cx="314.3" cy="436.9" r="1.1" fill="#fafafa"/>
<circle cx="311.9" cy="442.1" r="3.6" fill="#8c8c8c"/>
<circle cx="311.9" cy="442.1" r="2.8" fill="url(#gk)"/>
<circle cx="312.1" cy="442.2" r="0.8" fill="#b8b8b8"/>
<circle cx="312.2" cy="442.0" r="0.9" fill="#b8b8b8"/>
<circle cx="323.4" cy="446.2" r="4.0" fill="#454545"/>
<circle cx="323.4" cy="446.2" r="3.4" fill="url(#gb)"/>
<circle cx="323.4" cy="447.9" r="0.5" fill="#5f5f5f"/>
<circle cx="322.9" cy="446.4" r="0.5" fill="#6e6e6e"/>
<circle cx="323.9" cy="446.9" r="0.6" fill="#5f5f5f"/>
<circle cx="322.8" cy="446.4" r="0.8" fill="#5f5f5f"/>
<circle cx="322.2" cy="447.6" r="1.0" fill="#fafafa"/>
<circle cx="334.8" cy="441.3" r="4.1" fill="#8c8c8c"/>
<circle cx="334.8" cy="441.3" r="3.2" fill="url(#gk)"/>
<circle cx="336.3" cy="440.9" r="0.6" fill="#b8b8b8"/>
<circle cx="336.2" cy="442.5" r="0.8" fill="#b8b8b8"/>
<circle cx="320.1" cy="438.0" r="3.0" fill="#555"/>
<circle cx="320.1" cy="438.0" r="2.1" fill="#f4f4f4"/>
<circle cx="277.6" cy="451.1" r="6.3" fill="none" stroke="#999999" stroke-width="0.6"/>
<circle cx="277.6" cy="451.1" r="5.2" fill="url(#rim0)"/>
<circle cx="276.9" cy="450.8" r="4.4" fill="url(#gd0)"/>
<circle cx="289.9" cy="447.9" r="5.9" fill="none" stroke="#999999" stroke-width="0.6"/>
<circle cx="289.9" cy="447.9" r="4.9" fill="url(#rim0)"/>
<circle cx="289.2" cy="447.5" r="4.1" fill="url(#gd0)"/>
<circle cx="301.3" cy="455.2" r="6.3" fill="none" stroke="#999999" stroke-width="0.6"/>
<circle cx="301.3" cy="455.2" r="5.2" fill="url(#rim0)"/>
<circle cx="300.6" cy="454.8" r="4.4" fill="url(#gd0)"/>
<circle cx="317.7" cy="461.7" r="6.3" fill="none" stroke="#999999" stroke-width="0.6"/>
<circle cx="317.7" cy="461.7" r="5.2" fill="url(#rim0)"/>
<circle cx="317.0" cy="461.4" r="4.4" fill="url(#gd0)"/>
<circle cx="333.2" cy="465.8" r="2.9" fill="#8a8a8a"/>
<circle cx="333.2" cy="465.8" r="2.1" fill="#3c3c3c"/>
<circle cx="338.1" cy="448.7" r="3.9" fill="none" stroke="#999999" stroke-width="0.6"/>
<circle cx="338.1" cy="448.7" r="3.3" fill="url(#rim0)"/>
<circle cx="337.7" cy="448.4" r="2.7" fill="url(#gd0)"/>
</g>
</g>
<g mask="url(#m3)">
<rect x="340" y="326" width="170" height="150" fill="#838383"/>
<g filter="url(#blbig)">
<ellipse cx="420" cy="425" rx="30" ry="22" fill="#848484" opacity="0.5"/>
<ellipse cx="470" cy="350" rx="30" ry="18" fill="#707070" opacity="0.4"/>
<ellipse cx="500" cy="400" rx="8" ry="60" fill="#686868" opacity="0.6"/>
<ellipse cx="360" cy="440" rx="18" ry="25" fill="#727272" opacity="0.5"/>
</g>
<g filter="url(#bl0)">
<circle cx="353.1" cy="343.2" r="6.5" fill="none" stroke="#9a9a9a" stroke-width="0.6"/>
<circle cx="353.1" cy="343.2" r="6.0" fill="none" stroke="#666" stroke-width="0.35"/>
<circle cx="353.1" cy="343.2" r="5.9" fill="url(#rim1)"/>
<circle cx="352.7" cy="342.7" r="4.7" fill="url(#gd1)"/>
<circle cx="364.5" cy="344.0" r="6.1" fill="none" stroke="#9a9a9a" stroke-width="0.6"/>
<circle cx="364.5" cy="344.0" r="5.6" fill="none" stroke="#666" stroke-width="0.35"/>
<circle cx="364.5" cy="344.0" r="5.5" fill="url(#rim1)"/>
<circle cx="364.2" cy="343.6" r="4.3" fill="url(#gd1)"/>
<circle cx="355.5" cy="333.4" r="5.4" fill="none" stroke="#9a9a9a" stroke-width="0.6"/>
<circle cx="355.5" cy="333.4" r="5.0" fill="none" stroke="#666" stroke-width="0.35"/>
<circle cx="355.5" cy="333.4" r="4.9" fill="url(#rim1)"/>
<circle cx="355.2" cy="333.0" r="3.9" fill="url(#gd1)"/>
<circle cx="367.8" cy="337.4" r="3.6" fill="#8c8c8c"/>
<circle cx="367.8" cy="337.4" r="2.8" fill="url(#gk)"/>
<circle cx="366.6" cy="337.6" r="0.8" fill="#b8b8b8"/>
<circle cx="367.8" cy="337.5" r="0.6" fill="#b8b8b8"/>
<circle cx="379.2" cy="337.4" r="4.0" fill="#454545"/>
<circle cx="379.2" cy="337.4" r="3.4" fill="url(#gb)"/>
<circle cx="378.9" cy="339.4" r="0.9" fill="#6e6e6e"/>
<circle cx="379.2" cy="337.4" r="0.9" fill="#5f5f5f"/>
<circle cx="378.7" cy="338.0" r="0.6" fill="#6e6e6e"/>
<circle cx="379.3" cy="337.3" r="0.9" fill="#e6e6e6"/>
<circle cx="378.4" cy="335.7" r="0.6" fill="#f5f5f5"/>
<circle cx="386.6" cy="338.3" r="5.4" fill="none" stroke="#9a9a9a" stroke-width="0.6"/>
<circle cx="386.6" cy="338.3" r="5.0" fill="none" stroke="#666" stroke-width="0.35"/>
<circle cx="386.6" cy="338.3" r="4.9" fill="url(#rim1)"/>
<circle cx="386.3" cy="337.9" r="3.9" fill="url(#gd1)"/>
<circle cx="393.9" cy="333.4" r="5.4" fill="none" stroke="#9a9a9a" stroke-width="0.6"/>
<circle cx="393.9" cy="333.4" r="5.0" fill="none" stroke="#666" stroke-width="0.35"/>
<circle cx="393.9" cy="333.4" r="4.9" fill="url(#rim1)"/>
<circle cx="393.7" cy="333.0" r="3.9" fill="url(#gd1)"/>
<circle cx="404.6" cy="334.2" r="6.1" fill="none" stroke="#9a9a9a" stroke-width="0.6"/>
<circle cx="404.6" cy="334.2" r="5.6" fill="none" stroke="#666" stroke-width="0.35"/>
<circle cx="404.6" cy="334.2" r="5.5" fill="url(#rim1)"/>
<circle cx="404.2" cy="333.8" r="4.3" fill="url(#gd1)"/>
<circle cx="413.6" cy="341.5" r="6.5" fill="none" stroke="#9a9a9a" stroke-width="0.6"/>
<circle cx="413.6" cy="341.5" r="6.0" fill="none" stroke="#666" stroke-width="0.35"/>
<circle cx="413.6" cy="341.5" r="5.9" fill="url(#rim1)"/>
<circle cx="413.2" cy="341.1" r="4.7" fill="url(#gd1)"/>
<circle cx="421.7" cy="333.4" r="4.8" fill="none" stroke="#9a9a9a" stroke-width="0.6"/>
<circle cx="421.7" cy="333.4" r="4.4" fill="none" stroke="#666" stroke-width="0.35"/>
<circle cx="421.7" cy="333.4" r="4.3" fill="url(#rim1)"/>
<circle cx="421.5" cy="333.0" r="3.4" fill="url(#gd1)"/>
<circle cx="393.1" cy="349.7" r="2.3" fill="#8a8a8a"/>
<circle cx="393.1" cy="349.7" r="1.6" fill="#3c3c3c"/>
<circle cx="393.9" cy="357.9" r="7.6" fill="none" stroke="#9a9a9a" stroke-width="0.6"/>
<circle cx="393.9" cy="357.9" r="7.0" fill="none" stroke="#666" stroke-width="0.35"/>
<circle cx="393.9" cy="357.9" r="6.9" fill="url(#rim1)"/>
<circle cx="393.5" cy="357.4" r="5.4" fill="url(#gd1)"/>
<circle cx="411.9" cy="353.0" r="6.5" fill="none" stroke="#9a9a9a" stroke-width="0.6"/>
<circle cx="411.9" cy="353.0" r="6.0" fill="none" stroke="#666" stroke-width="0.35"/>
<circle cx="411.9" cy="353.0" r="5.9" fill="url(#rim1)"/>
<circle cx="411.6" cy="352.5" r="4.7" fill="url(#gd1)"/>
<circle cx="423.4" cy="350.5" r="5.4" fill="none" stroke="#9a9a9a" stroke-width="0.6"/>
<circle cx="423.4" cy="350.5" r="5.0" fill="none" stroke="#666" stroke-width="0.35"/>
<circle cx="423.4" cy="350.5" r="4.9" fill="url(#rim1)"/>
<circle cx="423.1" cy="350.2" r="3.9" fill="url(#gd1)"/>
<circle cx="352.7" cy="361.1" r="7.0" fill="none" stroke="#9a9a9a" stroke-width="0.6"/>
<circle cx="352.7" cy="361.1" r="6.4" fill="none" stroke="#666" stroke-width="0.35"/>
<circle cx="352.7" cy="361.1" r="6.3" fill="url(#rim1)"/>
<circle cx="352.4" cy="360.7" r="5.0" fill="url(#gd1)"/>
<circle cx="369.4" cy="366.5" r="2.3" fill="#8a8a8a"/>
<circle cx="369.4" cy="366.5" r="1.6" fill="#3c3c3c"/>
<circle cx="377.9" cy="369.3" r="6.5" fill="none" stroke="#9a9a9a" stroke-width="0.6"/>
<circle cx="377.9" cy="369.3" r="6.0" fill="none" stroke="#666" stroke-width="0.35"/>
<circle cx="377.9" cy="369.3" r="5.9" fill="url(#rim1)"/>
<circle cx="377.6" cy="368.9" r="4.7" fill="url(#gd1)"/>
<circle cx="386.6" cy="374.2" r="6.1" fill="none" stroke="#9a9a9a" stroke-width="0.6"/>
<circle cx="386.6" cy="374.2" r="5.6" fill="none" stroke="#666" stroke-width="0.35"/>
<circle cx="386.6" cy="374.2" r="5.5" fill="url(#rim1)"/>
<circle cx="386.3" cy="373.8" r="4.3" fill="url(#gd1)"/>
<circle cx="402.9" cy="369.8" r="6.5" fill="none" stroke="#9a9a9a" stroke-width="0.6"/>
<circle cx="402.9" cy="369.8" r="6.0" fill="none" stroke="#666" stroke-width="0.35"/>
<circle cx="402.9" cy="369.8" r="5.9" fill="url(#rim1)"/>
<circle cx="402.6" cy="369.4" r="4.7" fill="url(#gd1)"/>
<circle cx="353.1" cy="373.4" r="7.0" fill="none" stroke="#9a9a9a" stroke-width="0.6"/>
<circle cx="353.1" cy="373.4" r="6.4" fill="none" stroke="#666" stroke-width="0.35"/>
<circle cx="353.1" cy="373.4" r="6.3" fill="url(#rim1)"/>
<circle cx="352.7" cy="372.9" r="5.0" fill="url(#gd1)"/>
<circle cx="396.4" cy="379.1" r="6.5" fill="none" stroke="#9a9a9a" stroke-width="0.6"/>
<circle cx="396.4" cy="379.1" r="6.0" fill="none" stroke="#666" stroke-width="0.35"/>
<circle cx="396.4" cy="379.1" r="5.9" fill="url(#rim1)"/>
<circle cx="396.0" cy="378.7" r="4.7" fill="url(#gd1)"/>
<circle cx="364.5" cy="380.8" r="4.6" fill="#8c8c8c"/>
<circle cx="364.5" cy="380.8" r="3.6" fill="url(#gk)"/>
<circle cx="365.2" cy="379.4" r="0.6" fill="#b8b8b8"/>
<circle cx="365.5" cy="380.7" r="0.7" fill="#b8b8b8"/>
<circle cx="372.7" cy="383.2" r="3.6" fill="#8c8c8c"/>
<circle cx="372.7" cy="383.2" r="2.8" fill="url(#gk)"/>
<circle cx="371.8" cy="381.7" r="0.7" fill="#b8b8b8"/>
<circle cx="373.4" cy="382.5" r="0.9" fill="#b8b8b8"/>
<circle cx="385.8" cy="384.5" r="6.5" fill="none" stroke="#9a9a9a" stroke-width="0.6"/>
<circle cx="385.8" cy="384.5" r="6.0" fill="none" stroke="#666" stroke-width="0.35"/>
<circle cx="385.8" cy="384.5" r="5.9" fill="url(#rim1)"/>
<circle cx="385.4" cy="384.1" r="4.7" fill="url(#gd1)"/>
<circle cx="416.8" cy="385.7" r="7.6" fill="none" stroke="#9a9a9a" stroke-width="0.6"/>
<circle cx="416.8" cy="385.7" r="7.0" fill="none" stroke="#666" stroke-width="0.35"/>
<circle cx="416.8" cy="385.7" r="6.9" fill="url(#rim1)"/>
<circle cx="416.4" cy="385.1" r="5.4" fill="url(#gd1)"/>
<circle cx="421.7" cy="371.8" r="4.9" fill="#4e4e4e"/>
<circle cx="421.7" cy="371.8" r="3.9" fill="#7e7e7e"/>
<circle cx="423.1" cy="370.6" r="0.8" fill="#c8c8c8"/>
<circle cx="420.6" cy="372.5" r="0.9" fill="#3c3c3c"/>
<circle cx="420.4" cy="370.7" r="0.9" fill="#c8c8c8"/>
<circle cx="424.8" cy="371.1" r="0.9" fill="#464646"/>
<circle cx="424.3" cy="370.8" r="0.7" fill="#464646"/>
<circle cx="353.1" cy="387.3" r="7.0" fill="none" stroke="#9a9a9a" stroke-width="0.6"/>
<circle cx="353.1" cy="387.3" r="6.4" fill="none" stroke="#666" stroke-width="0.35"/>
<circle cx="353.1" cy="387.3" r="6.3" fill="url(#rim1)"/>
<circle cx="352.7" cy="386.8" r="5.0" fill="url(#gd1)"/>
<circle cx="379.2" cy="392.2" r="6.5" fill="none" stroke="#9a9a9a" stroke-width="0.6"/>
<circle cx="379.2" cy="392.2" r="6.0" fill="none" stroke="#666" stroke-width="0.35"/>
<circle cx="379.2" cy="392.2" r="5.9" fill="url(#rim1)"/>
<circle cx="378.9" cy="391.8" r="4.7" fill="url(#gd1)"/>
<circle cx="398.0" cy="393.0" r="7.6" fill="none" stroke="#9a9a9a" stroke-width="0.6"/>
<circle cx="398.0" cy="393.0" r="7.0" fill="none" stroke="#666" stroke-width="0.35"/>
<circle cx="398.0" cy="393.0" r="6.9" fill="url(#rim1)"/>
<circle cx="397.6" cy="392.5" r="5.4" fill="url(#gd1)"/>
<circle cx="370.2" cy="397.9" r="3.6" fill="#8c8c8c"/>
<circle cx="370.2" cy="397.9" r="2.8" fill="url(#gk)"/>
<circle cx="370.6" cy="398.2" r="0.6" fill="#b8b8b8"/>
<circle cx="368.8" cy="397.8" r="0.7" fill="#b8b8b8"/>
<circle cx="389.0" cy="397.9" r="4.3" fill="none" stroke="#9a9a9a" stroke-width="0.6"/>
<circle cx="389.0" cy="397.9" r="4.0" fill="none" stroke="#666" stroke-width="0.35"/>
<circle cx="389.0" cy="397.9" r="3.9" fill="url(#rim1)"/>
<circle cx="388.8" cy="397.6" r="3.1" fill="url(#gd1)"/>
<circle cx="346.5" cy="397.1" r="4.3" fill="none" stroke="#9a9a9a" stroke-width="0.6"/>
<circle cx="346.5" cy="397.1" r="4.0" fill="none" stroke="#666" stroke-width="0.35"/>
<circle cx="346.5" cy="397.1" r="3.9" fill="url(#rim1)"/>
<circle cx="346.3" cy="396.8" r="3.1" fill="url(#gd1)"/>
<circle cx="427.9" cy="337.4" r="6.1" fill="none" stroke="#9a9a9a" stroke-width="0.6"/>
<circle cx="427.9" cy="337.4" r="5.6" fill="none" stroke="#666" stroke-width="0.35"/>
<circle cx="427.9" cy="337.4" r="5.5" fill="url(#rim1)"/>
<circle cx="427.6" cy="337.0" r="4.3" fill="url(#gd1)"/>
<circle cx="437.7" cy="339.1" r="6.1" fill="none" stroke="#9a9a9a" stroke-width="0.6"/>
<circle cx="437.7" cy="339.1" r="5.6" fill="none" stroke="#666" stroke-width="0.35"/>
<circle cx="437.7" cy="339.1" r="5.5" fill="url(#rim1)"/>
<circle cx="437.4" cy="338.7" r="4.3" fill="url(#gd1)"/>
<circle cx="449.2" cy="338.7" r="7.0" fill="none" stroke="#9a9a9a" stroke-width="0.6"/>
<circle cx="449.2" cy="338.7" r="6.4" fill="none" stroke="#666" stroke-width="0.35"/>
<circle cx="449.2" cy="338.7" r="6.3" fill="url(#rim1)"/>
<circle cx="448.8" cy="338.3" r="5.0" fill="url(#gd1)"/>
<circle cx="441.0" cy="347.2" r="5.4" fill="none" stroke="#9a9a9a" stroke-width="0.6"/>
<circle cx="441.0" cy="347.2" r="5.0" fill="none" stroke="#666" stroke-width="0.35"/>
<circle cx="441.0" cy="347.2" r="4.9" fill="url(#rim1)"/>
<circle cx="440.7" cy="346.9" r="3.9" fill="url(#gd1)"/>
<circle cx="433.6" cy="357.1" r="3.6" fill="#8c8c8c"/>
<circle cx="433.6" cy="357.1" r="2.8" fill="url(#gk)"/>
<circle cx="435.1" cy="357.3" r="0.7" fill="#b8b8b8"/>
<circle cx="433.2" cy="357.0" r="0.7" fill="#b8b8b8"/>
<circle cx="463.9" cy="344.8" r="6.5" fill="none" stroke="#9a9a9a" stroke-width="0.6"/>
<circle cx="463.9" cy="344.8" r="6.0" fill="none" stroke="#666" stroke-width="0.35"/>
<circle cx="463.9" cy="344.8" r="5.9" fill="url(#rim1)"/>
<circle cx="463.5" cy="344.4" r="4.7" fill="url(#gd1)"/>
<circle cx="458.1" cy="353.8" r="6.5" fill="none" stroke="#9a9a9a" stroke-width="0.6"/>
<circle cx="458.1" cy="353.8" r="6.0" fill="none" stroke="#666" stroke-width="0.35"/>
<circle cx="458.1" cy="353.8" r="5.9" fill="url(#rim1)"/>
<circle cx="457.8" cy="353.3" r="4.7" fill="url(#gd1)"/>
<circle cx="466.3" cy="355.4" r="1.3" fill="#3a3a3a"/>
<circle cx="480.2" cy="333.4" r="5.4" fill="none" stroke="#9a9a9a" stroke-width="0.6"/>
<circle cx="480.2" cy="333.4" r="5.0" fill="none" stroke="#666" stroke-width="0.35"/>
<circle cx="480.2" cy="333.4" r="4.9" fill="url(#rim1)"/>
<circle cx="479.9" cy="333.0" r="3.9" fill="url(#gd1)"/>
<circle cx="492.5" cy="334.2" r="6.1" fill="none" stroke="#9a9a9a" stroke-width="0.6"/>
<circle cx="492.5" cy="334.2" r="5.6" fill="none" stroke="#666" stroke-width="0.35"/>
<circle cx="492.5" cy="334.2" r="5.5" fill="url(#rim1)"/>
<circle cx="492.1" cy="333.8" r="4.3" fill="url(#gd1)"/>
<circle cx="484.3" cy="342.3" r="4.9" fill="#4e4e4e"/>
<circle cx="484.3" cy="342.3" r="3.9" fill="#7e7e7e"/>
<circle cx="482.4" cy="343.9" r="0.6" fill="#505050"/>
<circle cx="484.3" cy="342.6" r="0.7" fill="#3c3c3c"/>
<circle cx="484.1" cy="343.4" r="0.9" fill="#c8c8c8"/>
<circle cx="483.1" cy="342.2" r="0.7" fill="#3c3c3c"/>
<circle cx="481.3" cy="342.8" r="0.8" fill="#b9b9b9"/>
<circle cx="493.3" cy="342.3" r="4.3" fill="none" stroke="#9a9a9a" stroke-width="0.6"/>
<circle cx="493.3" cy="342.3" r="4.0" fill="none" stroke="#666" stroke-width="0.35"/>
<circle cx="493.3" cy="342.3" r="3.9" fill="url(#rim1)"/>
<circle cx="493.1" cy="342.1" r="3.1" fill="url(#gd1)"/>
<circle cx="490.8" cy="352.2" r="6.5" fill="none" stroke="#9a9a9a" stroke-width="0.6"/>
<circle cx="490.8" cy="352.2" r="6.0" fill="none" stroke="#666" stroke-width="0.35"/>
<circle cx="490.8" cy="352.2" r="5.9" fill="url(#rim1)"/>
<circle cx="490.5" cy="351.7" r="4.7" fill="url(#gd1)"/>
<circle cx="499.8" cy="360.3" r="7.6" fill="none" stroke="#9a9a9a" stroke-width="0.6"/>
<circle cx="499.8" cy="360.3" r="7.0" fill="none" stroke="#666" stroke-width="0.35"/>
<circle cx="499.8" cy="360.3" r="6.9" fill="url(#rim1)"/>
<circle cx="499.4" cy="359.8" r="5.4" fill="url(#gd1)"/>
<circle cx="446.7" cy="366.0" r="5.7" fill="#4e4e4e"/>
<circle cx="446.7" cy="366.0" r="4.6" fill="#7e7e7e"/>
<circle cx="444.7" cy="366.5" r="0.6" fill="#aaaaaa"/>
<circle cx="447.1" cy="368.3" r="1.1" fill="#464646"/>
<circle cx="448.0" cy="368.7" r="0.8" fill="#b9b9b9"/>
<circle cx="444.0" cy="363.6" r="1.1" fill="#505050"/>
<circle cx="448.6" cy="368.9" r="1.0" fill="#aaaaaa"/>
<circle cx="458.1" cy="366.9" r="6.1" fill="none" stroke="#9a9a9a" stroke-width="0.6"/>
<circle cx="458.1" cy="366.9" r="5.6" fill="none" stroke="#666" stroke-width="0.35"/>
<circle cx="458.1" cy="366.9" r="5.5" fill="url(#rim1)"/>
<circle cx="457.8" cy="366.5" r="4.3" fill="url(#gd1)"/>
<circle cx="468.8" cy="365.2" r="2.9" fill="#8a8a8a"/>
<circle cx="468.8" cy="365.2" r="2.1" fill="#3c3c3c"/>
<circle cx="476.9" cy="365.2" r="6.1" fill="none" stroke="#9a9a9a" stroke-width="0.6"/>
<circle cx="476.9" cy="365.2" r="5.6" fill="none" stroke="#666" stroke-width="0.35"/>
<circle cx="476.9" cy="365.2" r="5.5" fill="url(#rim1)"/>
<circle cx="476.6" cy="364.8" r="4.3" fill="url(#gd1)"/>
<circle cx="432.0" cy="369.3" r="4.3" fill="none" stroke="#9a9a9a" stroke-width="0.6"/>
<circle cx="432.0" cy="369.3" r="4.0" fill="none" stroke="#666" stroke-width="0.35"/>
<circle cx="432.0" cy="369.3" r="3.9" fill="url(#rim1)"/>
<circle cx="431.8" cy="369.0" r="3.1" fill="url(#gd1)"/>
<circle cx="431.2" cy="379.1" r="7.0" fill="none" stroke="#9a9a9a" stroke-width="0.6"/>
<circle cx="431.2" cy="379.1" r="6.4" fill="none" stroke="#666" stroke-width="0.35"/>
<circle cx="431.2" cy="379.1" r="6.3" fill="url(#rim1)"/>
<circle cx="430.8" cy="378.7" r="5.0" fill="url(#gd1)"/>
<circle cx="443.4" cy="378.3" r="6.5" fill="none" stroke="#9a9a9a" stroke-width="0.6"/>
<circle cx="443.4" cy="378.3" r="6.0" fill="none" stroke="#666" stroke-width="0.35"/>
<circle cx="443.4" cy="378.3" r="5.9" fill="url(#rim1)"/>
<circle cx="443.1" cy="377.9" r="4.7" fill="url(#gd1)"/>
<circle cx="454.9" cy="377.5" r="6.5" fill="none" stroke="#9a9a9a" stroke-width="0.6"/>
<circle cx="454.9" cy="377.5" r="6.0" fill="none" stroke="#666" stroke-width="0.35"/>
<circle cx="454.9" cy="377.5" r="5.9" fill="url(#rim1)"/>
<circle cx="454.5" cy="377.0" r="4.7" fill="url(#gd1)"/>
<circle cx="465.5" cy="377.5" r="6.5" fill="none" stroke="#9a9a9a" stroke-width="0.6"/>
<circle cx="465.5" cy="377.5" r="6.0" fill="none" stroke="#666" stroke-width="0.35"/>
<circle cx="465.5" cy="377.5" r="5.9" fill="url(#rim1)"/>
<circle cx="465.2" cy="377.0" r="4.7" fill="url(#gd1)"/>
<circle cx="478.6" cy="377.5" r="7.0" fill="none" stroke="#9a9a9a" stroke-width="0.6"/>
<circle cx="478.6" cy="377.5" r="6.4" fill="none" stroke="#666" stroke-width="0.35"/>
<circle cx="478.6" cy="377.5" r="6.3" fill="url(#rim1)"/>
<circle cx="478.2" cy="377.0" r="5.0" fill="url(#gd1)"/>
<circle cx="489.2" cy="374.2" r="7.0" fill="none" stroke="#9a9a9a" stroke-width="0.6"/>
<circle cx="489.2" cy="374.2" r="6.4" fill="none" stroke="#666" stroke-width="0.35"/>
<circle cx="489.2" cy="374.2" r="6.3" fill="url(#rim1)"/>
<circle cx="488.8" cy="373.7" r="5.0" fill="url(#gd1)"/>
<circle cx="503.1" cy="378.3" r="5.4" fill="none" stroke="#9a9a9a" stroke-width="0.6"/>
<circle cx="503.1" cy="378.3" r="5.0" fill="none" stroke="#666" stroke-width="0.35"/>
<circle cx="503.1" cy="378.3" r="4.9" fill="url(#rim1)"/>
<circle cx="502.8" cy="377.9" r="3.9" fill="url(#gd1)"/>
<circle cx="430.4" cy="388.1" r="2.5" fill="#8a8a8a"/>
<circle cx="430.4" cy="388.1" r="1.8" fill="#3c3c3c"/>
<circle cx="436.9" cy="390.6" r="2.5" fill="#8a8a8a"/>
<circle cx="436.9" cy="390.6" r="1.8" fill="#3c3c3c"/>
<circle cx="455.7" cy="388.9" r="7.0" fill="none" stroke="#9a9a9a" stroke-width="0.6"/>
<circle cx="455.7" cy="388.9" r="6.4" fill="none" stroke="#666" stroke-width="0.35"/>
<circle cx="455.7" cy="388.9" r="6.3" fill="url(#rim1)"/>
<circle cx="455.3" cy="388.5" r="5.0" fill="url(#gd1)"/>
<circle cx="471.2" cy="385.7" r="6.1" fill="none" stroke="#9a9a9a" stroke-width="0.6"/>
<circle cx="471.2" cy="385.7" r="5.6" fill="none" stroke="#666" stroke-width="0.35"/>
<circle cx="471.2" cy="385.7" r="5.5" fill="url(#rim1)"/>
<circle cx="470.9" cy="385.2" r="4.3" fill="url(#gd1)"/>
<circle cx="479.4" cy="393.0" r="6.1" fill="none" stroke="#9a9a9a" stroke-width="0.6"/>
<circle cx="479.4" cy="393.0" r="5.6" fill="none" stroke="#666" stroke-width="0.35"/>
<circle cx="479.4" cy="393.0" r="5.5" fill="url(#rim1)"/>
<circle cx="479.1" cy="392.6" r="4.3" fill="url(#gd1)"/>
<circle cx="496.6" cy="388.1" r="6.5" fill="none" stroke="#9a9a9a" stroke-width="0.6"/>
<circle cx="496.6" cy="388.1" r="6.0" fill="none" stroke="#666" stroke-width="0.35"/>
<circle cx="496.6" cy="388.1" r="5.9" fill="url(#rim1)"/>
<circle cx="496.2" cy="387.7" r="4.7" fill="url(#gd1)"/>
<circle cx="468.8" cy="396.3" r="5.4" fill="none" stroke="#9a9a9a" stroke-width="0.6"/>
<circle cx="468.8" cy="396.3" r="5.0" fill="none" stroke="#666" stroke-width="0.35"/>
<circle cx="468.8" cy="396.3" r="4.9" fill="url(#rim1)"/>
<circle cx="468.5" cy="395.9" r="3.9" fill="url(#gd1)"/>
<circle cx="488.4" cy="397.9" r="5.4" fill="none" stroke="#9a9a9a" stroke-width="0.6"/>
<circle cx="488.4" cy="397.9" r="5.0" fill="none" stroke="#666" stroke-width="0.35"/>
<circle cx="488.4" cy="397.9" r="4.9" fill="url(#rim1)"/>
<circle cx="488.1" cy="397.6" r="3.9" fill="url(#gd1)"/>
<circle cx="447.5" cy="396.3" r="2.5" fill="#8c8c8c"/>
<circle cx="447.5" cy="396.3" r="1.9" fill="url(#gk)"/>
<circle cx="447.9" cy="395.6" r="0.6" fill="#b8b8b8"/>
<circle cx="446.9" cy="396.2" r="0.8" fill="#b8b8b8"/>
<circle cx="501.5" cy="397.9" r="4.3" fill="none" stroke="#9a9a9a" stroke-width="0.6"/>
<circle cx="501.5" cy="397.9" r="4.0" fill="none" stroke="#666" stroke-width="0.35"/>
<circle cx="501.5" cy="397.9" r="3.9" fill="url(#rim1)"/>
<circle cx="501.2" cy="397.6" r="3.1" fill="url(#gd1)"/>
<circle cx="359.6" cy="411.1" r="6.5" fill="none" stroke="#9a9a9a" stroke-width="0.6"/>
<circle cx="359.6" cy="411.1" r="6.0" fill="none" stroke="#666" stroke-width="0.35"/>
<circle cx="359.6" cy="411.1" r="5.9" fill="url(#rim1)"/>
<circle cx="359.3" cy="410.6" r="4.7" fill="url(#gd1)"/>
<circle cx="371.9" cy="405.4" r="4.6" fill="#4e4e4e"/>
<circle cx="371.9" cy="405.4" r="3.7" fill="#7e7e7e"/>
<circle cx="371.7" cy="408.2" r="1.0" fill="#b9b9b9"/>
<circle cx="370.1" cy="405.9" r="0.5" fill="#464646"/>
<circle cx="373.3" cy="404.8" r="0.9" fill="#aaaaaa"/>
<circle cx="372.4" cy="403.2" r="0.8" fill="#c8c8c8"/>
<circle cx="371.0" cy="403.5" r="0.6" fill="#464646"/>
<circle cx="386.6" cy="414.3" r="7.0" fill="none" stroke="#9a9a9a" stroke-width="0.6"/>
<circle cx="386.6" cy="414.3" r="6.4" fill="none" stroke="#666" stroke-width="0.35"/>
<circle cx="386.6" cy="414.3" r="6.3" fill="url(#rim1)"/>
<circle cx="386.2" cy="413.9" r="5.0" fill="url(#gd1)"/>
<circle cx="402.1" cy="410.3" r="7.0" fill="none" stroke="#9a9a9a" stroke-width="0.6"/>
<circle cx="402.1" cy="410.3" r="6.4" fill="none" stroke="#666" stroke-width="0.35"/>
<circle cx="402.1" cy="410.3" r="6.3" fill="url(#rim1)"/>
<circle cx="401.7" cy="409.8" r="5.0" fill="url(#gd1)"/>
<circle cx="418.5" cy="412.7" r="7.0" fill="none" stroke="#9a9a9a" stroke-width="0.6"/>
<circle cx="418.5" cy="412.7" r="6.4" fill="none" stroke="#666" stroke-width="0.35"/>
<circle cx="418.5" cy="412.7" r="6.3" fill="url(#rim1)"/>
<circle cx="418.1" cy="412.2" r="5.0" fill="url(#gd1)"/>
<circle cx="358.8" cy="425.8" r="7.4" fill="#8a8a8a" stroke="#a8a8a8" stroke-width="0.9"/>
<circle cx="358.3" cy="425.8" r="5.0" fill="url(#gd)"/>
<circle cx="407.8" cy="424.2" r="7.0" fill="none" stroke="#9a9a9a" stroke-width="0.6"/>
<circle cx="407.8" cy="424.2" r="6.4" fill="none" stroke="#666" stroke-width="0.35"/>
<circle cx="407.8" cy="424.2" r="6.3" fill="url(#rim1)"/>
<circle cx="407.5" cy="423.7" r="5.0" fill="url(#gd1)"/>
<circle cx="418.5" cy="433.1" r="6.5" fill="none" stroke="#9a9a9a" stroke-width="0.6"/>
<circle cx="418.5" cy="433.1" r="6.0" fill="none" stroke="#666" stroke-width="0.35"/>
<circle cx="418.5" cy="433.1" r="5.9" fill="url(#rim1)"/>
<circle cx="418.1" cy="432.7" r="4.7" fill="url(#gd1)"/>
<circle cx="401.3" cy="437.2" r="6.5" fill="none" stroke="#9a9a9a" stroke-width="0.6"/>
<circle cx="401.3" cy="437.2" r="6.0" fill="none" stroke="#666" stroke-width="0.35"/>
<circle cx="401.3" cy="437.2" r="5.9" fill="url(#rim1)"/>
<circle cx="401.0" cy="436.8" r="4.7" fill="url(#gd1)"/>
<circle cx="410.3" cy="442.9" r="7.0" fill="none" stroke="#9a9a9a" stroke-width="0.6"/>
<circle cx="410.3" cy="442.9" r="6.4" fill="none" stroke="#666" stroke-width="0.35"/>
<circle cx="410.3" cy="442.9" r="6.3" fill="url(#rim1)"/>
<circle cx="409.9" cy="442.5" r="5.0" fill="url(#gd1)"/>
<circle cx="386.6" cy="440.5" r="6.1" fill="none" stroke="#9a9a9a" stroke-width="0.6"/>
<circle cx="386.6" cy="440.5" r="5.6" fill="none" stroke="#666" stroke-width="0.35"/>
<circle cx="386.6" cy="440.5" r="5.5" fill="url(#rim1)"/>
<circle cx="386.3" cy="440.1" r="4.3" fill="url(#gd1)"/>
<circle cx="393.9" cy="435.3" r="2.3" fill="#8a8a8a"/>
<circle cx="393.9" cy="435.3" r="1.6" fill="#3c3c3c"/>
<circle cx="387.4" cy="432.7" r="2.0" fill="#8a8a8a"/>
<circle cx="387.4" cy="432.7" r="1.4" fill="#3c3c3c"/>
<circle cx="391.5" cy="427.4" r="2.0" fill="#8a8a8a"/>
<circle cx="391.5" cy="427.4" r="1.4" fill="#3c3c3c"/>
<circle cx="375.1" cy="454.9" r="2.3" fill="#8a8a8a"/>
<circle cx="375.1" cy="454.9" r="1.6" fill="#3c3c3c"/>
<circle cx="380.0" cy="455.5" r="2.3" fill="#8a8a8a"/>
<circle cx="380.0" cy="455.5" r="1.6" fill="#3c3c3c"/>
<circle cx="397.2" cy="455.2" r="6.1" fill="none" stroke="#9a9a9a" stroke-width="0.6"/>
<circle cx="397.2" cy="455.2" r="5.6" fill="none" stroke="#666" stroke-width="0.35"/>
<circle cx="397.2" cy="455.2" r="5.5" fill="url(#rim1)"/>
<circle cx="396.9" cy="454.8" r="4.3" fill="url(#gd1)"/>
<circle cx="407.8" cy="452.8" r="5.4" fill="none" stroke="#9a9a9a" stroke-width="0.6"/>
<circle cx="407.8" cy="452.8" r="5.0" fill="none" stroke="#666" stroke-width="0.35"/>
<circle cx="407.8" cy="452.8" r="4.9" fill="url(#rim1)"/>
<circle cx="407.5" cy="452.4" r="3.9" fill="url(#gd1)"/>
<circle cx="416.0" cy="456.0" r="5.4" fill="none" stroke="#9a9a9a" stroke-width="0.6"/>
<circle cx="416.0" cy="456.0" r="5.0" fill="none" stroke="#666" stroke-width="0.35"/>
<circle cx="416.0" cy="456.0" r="4.9" fill="url(#rim1)"/>
<circle cx="415.7" cy="455.7" r="3.9" fill="url(#gd1)"/>
<circle cx="364.5" cy="461.7" r="6.5" fill="none" stroke="#9a9a9a" stroke-width="0.6"/>
<circle cx="364.5" cy="461.7" r="6.0" fill="none" stroke="#666" stroke-width="0.35"/>
<circle cx="364.5" cy="461.7" r="5.9" fill="url(#rim1)"/>
<circle cx="364.2" cy="461.3" r="4.7" fill="url(#gd1)"/>
<circle cx="395.6" cy="466.6" r="6.1" fill="none" stroke="#9a9a9a" stroke-width="0.6"/>
<circle cx="395.6" cy="466.6" r="5.6" fill="none" stroke="#666" stroke-width="0.35"/>
<circle cx="395.6" cy="466.6" r="5.5" fill="url(#rim1)"/>
<circle cx="395.3" cy="466.2" r="4.3" fill="url(#gd1)"/>
<circle cx="423.4" cy="460.9" r="5.4" fill="none" stroke="#9a9a9a" stroke-width="0.6"/>
<circle cx="423.4" cy="460.9" r="5.0" fill="none" stroke="#666" stroke-width="0.35"/>
<circle cx="423.4" cy="460.9" r="4.9" fill="url(#rim1)"/>
<circle cx="423.1" cy="460.6" r="3.9" fill="url(#gd1)"/>
<circle cx="436.1" cy="402.1" r="6.1" fill="none" stroke="#9a9a9a" stroke-width="0.6"/>
<circle cx="436.1" cy="402.1" r="5.6" fill="none" stroke="#666" stroke-width="0.35"/>
<circle cx="436.1" cy="402.1" r="5.5" fill="url(#rim1)"/>
<circle cx="435.8" cy="401.7" r="4.3" fill="url(#gd1)"/>
<circle cx="433.6" cy="411.9" r="7.0" fill="none" stroke="#9a9a9a" stroke-width="0.6"/>
<circle cx="433.6" cy="411.9" r="6.4" fill="none" stroke="#666" stroke-width="0.35"/>
<circle cx="433.6" cy="411.9" r="6.3" fill="url(#rim1)"/>
<circle cx="433.3" cy="411.4" r="5.0" fill="url(#gd1)"/>
<circle cx="450.8" cy="401.3" r="4.1" fill="#4e4e4e"/>
<circle cx="450.8" cy="401.3" r="3.3" fill="#7e7e7e"/>
<circle cx="450.2" cy="401.6" r="0.8" fill="#c8c8c8"/>
<circle cx="449.2" cy="400.7" r="1.1" fill="#464646"/>
<circle cx="450.9" cy="400.2" r="0.9" fill="#3c3c3c"/>
<circle cx="451.2" cy="399.8" r="0.7" fill="#464646"/>
<circle cx="450.1" cy="400.5" r="0.6" fill="#aaaaaa"/>
<circle cx="464.7" cy="404.5" r="6.1" fill="none" stroke="#9a9a9a" stroke-width="0.6"/>
<circle cx="464.7" cy="404.5" r="5.6" fill="none" stroke="#666" stroke-width="0.35"/>
<circle cx="464.7" cy="404.5" r="5.5" fill="url(#rim1)"/>
<circle cx="464.4" cy="404.1" r="4.3" fill="url(#gd1)"/>
<circle cx="472.0" cy="411.9" r="7.0" fill="none" stroke="#9a9a9a" stroke-width="0.6"/>
<circle cx="472.0" cy="411.9" r="6.4" fill="none" stroke="#666" stroke-width="0.35"/>
<circle cx="472.0" cy="411.9" r="6.3" fill="url(#rim1)"/>
<circle cx="471.7" cy="411.4" r="5.0" fill="url(#gd1)"/>
<circle cx="497.4" cy="409.4" r="2.9" fill="#8c8c8c"/>
<circle cx="497.4" cy="409.4" r="2.3" fill="url(#gk)"/>
<circle cx="497.0" cy="408.2" r="0.8" fill="#b8b8b8"/>
<circle cx="498.4" cy="408.6" r="0.7" fill="#b8b8b8"/>
<circle cx="501.5" cy="422.5" r="8.2" fill="#8a8a8a" stroke="#a8a8a8" stroke-width="0.9"/>
<circle cx="501.0" cy="422.5" r="5.6" fill="url(#gd)"/>
<circle cx="433.6" cy="433.1" r="7.6" fill="none" stroke="#9a9a9a" stroke-width="0.6"/>
<circle cx="433.6" cy="433.1" r="7.0" fill="none" stroke="#666" stroke-width="0.35"/>
<circle cx="433.6" cy="433.1" r="6.9" fill="url(#rim1)"/>
<circle cx="433.2" cy="432.6" r="5.4" fill="url(#gd1)"/>
<circle cx="433.6" cy="447.9" r="7.0" fill="none" stroke="#9a9a9a" stroke-width="0.6"/>
<circle cx="433.6" cy="447.9" r="6.4" fill="none" stroke="#666" stroke-width="0.35"/>
<circle cx="433.6" cy="447.9" r="6.3" fill="url(#rim1)"/>
<circle cx="433.3" cy="447.4" r="5.0" fill="url(#gd1)"/>
<circle cx="428.7" cy="450.6" r="1.6" fill="#8a8a8a"/>
<circle cx="428.7" cy="450.6" r="1.2" fill="#3c3c3c"/>
<circle cx="470.4" cy="427.4" r="3.6" fill="#4e4e4e"/>
<circle cx="470.4" cy="427.4" r="2.9" fill="#7e7e7e"/>
<circle cx="470.6" cy="426.6" r="0.6" fill="#464646"/>
<circle cx="470.6" cy="428.0" r="1.0" fill="#aaaaaa"/>
<circle cx="469.0" cy="427.0" r="0.6" fill="#505050"/>
<circle cx="469.1" cy="426.5" r="0.8" fill="#c8c8c8"/>
<circle cx="469.8" cy="427.8" r="0.9" fill="#b9b9b9"/>
<circle cx="476.9" cy="425.0" r="3.3" fill="#4e4e4e"/>
<circle cx="476.9" cy="425.0" r="2.6" fill="#7e7e7e"/>
<circle cx="476.3" cy="423.6" r="0.7" fill="#b9b9b9"/>
<circle cx="477.0" cy="423.6" r="1.1" fill="#464646"/>
<circle cx="477.1" cy="425.4" r="0.9" fill="#3c3c3c"/>
<circle cx="477.5" cy="426.3" r="0.7" fill="#b9b9b9"/>
<circle cx="477.1" cy="424.8" r="0.6" fill="#464646"/>
<circle cx="486.7" cy="426.6" r="4.9" fill="#8c8c8c"/>
<circle cx="486.7" cy="426.6" r="3.8" fill="url(#gk)"/>
<circle cx="485.4" cy="428.2" r="0.8" fill="#b8b8b8"/>
<circle cx="486.4" cy="427.8" r="0.6" fill="#b8b8b8"/>
<circle cx="472.0" cy="434.8" r="3.6" fill="#4e4e4e"/>
<circle cx="472.0" cy="434.8" r="2.9" fill="#7e7e7e"/>
<circle cx="472.7" cy="434.3" r="0.8" fill="#3c3c3c"/>
<circle cx="470.5" cy="433.6" r="0.6" fill="#3c3c3c"/>
<circle cx="472.1" cy="434.7" r="1.0" fill="#3c3c3c"/>
<circle cx="470.3" cy="434.4" r="0.7" fill="#aaaaaa"/>
<circle cx="471.9" cy="434.8" r="0.6" fill="#505050"/>
<circle cx="480.2" cy="436.4" r="3.7" fill="#454545"/>
<circle cx="480.2" cy="436.4" r="3.1" fill="url(#gb)"/>
<circle cx="479.9" cy="435.7" r="0.9" fill="#e6e6e6"/>
<circle cx="480.5" cy="434.5" r="0.9" fill="#fafafa"/>
<circle cx="480.5" cy="436.8" r="0.8" fill="#e6e6e6"/>
<circle cx="479.3" cy="436.4" r="0.7" fill="#5f5f5f"/>
<circle cx="481.4" cy="435.9" r="0.7" fill="#6e6e6e"/>
<circle cx="489.2" cy="434.8" r="4.1" fill="#4e4e4e"/>
<circle cx="489.2" cy="434.8" r="3.3" fill="#7e7e7e"/>
<circle cx="489.1" cy="435.1" r="0.9" fill="#aaaaaa"/>
<circle cx="487.6" cy="433.5" r="0.7" fill="#505050"/>
<circle cx="488.7" cy="434.0" r="1.0" fill="#3c3c3c"/>
<circle cx="488.4" cy="435.5" r="1.0" fill="#b9b9b9"/>
<circle cx="489.7" cy="432.6" r="0.6" fill="#464646"/>
<circle cx="470.4" cy="441.3" r="4.1" fill="#4e4e4e"/>
<circle cx="470.4" cy="441.3" r="3.3" fill="#7e7e7e"/>
<circle cx="470.3" cy="441.3" r="1.0" fill="#aaaaaa"/>
<circle cx="470.8" cy="440.5" r="0.9" fill="#464646"/>
<circle cx="470.7" cy="439.1" r="0.7" fill="#b9b9b9"/>
<circle cx="470.4" cy="439.0" r="0.8" fill="#c8c8c8"/>
<circle cx="470.9" cy="441.4" r="0.6" fill="#aaaaaa"/>
<circle cx="481.0" cy="442.9" r="4.6" fill="#454545"/>
<circle cx="481.0" cy="442.9" r="3.8" fill="url(#gb)"/>
<circle cx="481.9" cy="440.6" r="1.1" fill="#e6e6e6"/>
<circle cx="481.0" cy="442.9" r="1.0" fill="#e6e6e6"/>
<circle cx="480.4" cy="441.6" r="0.8" fill="#6e6e6e"/>
<circle cx="481.4" cy="443.0" r="0.7" fill="#5f5f5f"/>
<circle cx="480.2" cy="442.0" r="0.9" fill="#5f5f5f"/>
<circle cx="466.3" cy="447.9" r="1.8" fill="#555"/>
<circle cx="466.3" cy="447.9" r="1.1" fill="#f4f4f4"/>
<circle cx="481.0" cy="451.9" r="3.6" fill="#8c8c8c"/>
<circle cx="481.0" cy="451.9" r="2.8" fill="url(#gk)"/>
<circle cx="482.0" cy="450.7" r="0.5" fill="#b8b8b8"/>
<circle cx="481.0" cy="451.9" r="0.6" fill="#b8b8b8"/>
<circle cx="493.3" cy="450.3" r="3.6" fill="#8c8c8c"/>
<circle cx="493.3" cy="450.3" r="2.8" fill="url(#gk)"/>
<circle cx="493.3" cy="449.6" r="0.5" fill="#b8b8b8"/>
<circle cx="494.1" cy="449.1" r="0.7" fill="#b8b8b8"/>
<circle cx="489.2" cy="458.5" r="6.1" fill="none" stroke="#9a9a9a" stroke-width="0.6"/>
<circle cx="489.2" cy="458.5" r="5.6" fill="none" stroke="#666" stroke-width="0.35"/>
<circle cx="489.2" cy="458.5" r="5.5" fill="url(#rim1)"/>
<circle cx="488.9" cy="458.1" r="4.3" fill="url(#gd1)"/>
<circle cx="495.7" cy="464.2" r="6.1" fill="none" stroke="#9a9a9a" stroke-width="0.6"/>
<circle cx="495.7" cy="464.2" r="5.6" fill="none" stroke="#666" stroke-width="0.35"/>
<circle cx="495.7" cy="464.2" r="5.5" fill="url(#rim1)"/>
<circle cx="495.4" cy="463.8" r="4.3" fill="url(#gd1)"/>
<circle cx="432.8" cy="464.2" r="6.1" fill="none" stroke="#9a9a9a" stroke-width="0.6"/>
<circle cx="432.8" cy="464.2" r="5.6" fill="none" stroke="#666" stroke-width="0.35"/>
<circle cx="432.8" cy="464.2" r="5.5" fill="url(#rim1)"/>
<circle cx="432.5" cy="463.8" r="4.3" fill="url(#gd1)"/>
<circle cx="454.1" cy="460.9" r="6.5" fill="none" stroke="#9a9a9a" stroke-width="0.6"/>
<circle cx="454.1" cy="460.9" r="6.0" fill="none" stroke="#666" stroke-width="0.35"/>
<circle cx="454.1" cy="460.9" r="5.9" fill="url(#rim1)"/>
<circle cx="453.7" cy="460.5" r="4.7" fill="url(#gd1)"/>
<circle cx="467.1" cy="460.9" r="7.0" fill="none" stroke="#9a9a9a" stroke-width="0.6"/>
<circle cx="467.1" cy="460.9" r="6.4" fill="none" stroke="#666" stroke-width="0.35"/>
<circle cx="467.1" cy="460.9" r="6.3" fill="url(#rim1)"/>
<circle cx="466.8" cy="460.5" r="5.0" fill="url(#gd1)"/>
<circle cx="447.5" cy="468.3" r="4.8" fill="none" stroke="#9a9a9a" stroke-width="0.6"/>
<circle cx="447.5" cy="468.3" r="4.4" fill="none" stroke="#666" stroke-width="0.35"/>
<circle cx="447.5" cy="468.3" r="4.3" fill="url(#rim1)"/>
<circle cx="447.3" cy="468.0" r="3.4" fill="url(#gd1)"/>
<circle cx="503.1" cy="456.8" r="5.4" fill="none" stroke="#9a9a9a" stroke-width="0.6"/>
<circle cx="503.1" cy="456.8" r="5.0" fill="none" stroke="#666" stroke-width="0.35"/>
<circle cx="503.1" cy="456.8" r="4.9" fill="url(#rim1)"/>
<circle cx="502.8" cy="456.5" r="3.9" fill="url(#gd1)"/>
<circle cx="499.8" cy="448.7" r="2.5" fill="#8a8a8a"/>
<circle cx="499.8" cy="448.7" r="1.8" fill="#3c3c3c"/>
<circle cx="365.2" cy="381.4" r="2.8" fill="#4e4e4e"/>
<circle cx="365.2" cy="381.4" r="2.2" fill="#7e7e7e"/>
<circle cx="365.9" cy="381.2" r="0.5" fill="#b9b9b9"/>
<circle cx="365.0" cy="381.7" r="0.8" fill="#c8c8c8"/>
<circle cx="366.1" cy="379.9" r="0.5" fill="#aaaaaa"/>
<circle cx="364.8" cy="380.4" r="1.1" fill="#aaaaaa"/>
<circle cx="365.2" cy="379.7" r="0.5" fill="#b9b9b9"/>
<circle cx="370.0" cy="387.7" r="3.0" fill="#4e4e4e"/>
<circle cx="370.0" cy="387.7" r="2.4" fill="#7e7e7e"/>
<circle cx="368.7" cy="386.9" r="0.9" fill="#3c3c3c"/>
<circle cx="370.0" cy="386.9" r="0.8" fill="#464646"/>
<circle cx="370.2" cy="387.0" r="0.9" fill="#464646"/>
<circle cx="371.8" cy="387.1" r="1.0" fill="#464646"/>
<circle cx="370.1" cy="387.9" r="0.8" fill="#b9b9b9"/>
<circle cx="366.8" cy="397.3" r="2.8" fill="#4e4e4e"/>
<circle cx="366.8" cy="397.3" r="2.2" fill="#7e7e7e"/>
<circle cx="366.8" cy="397.3" r="0.6" fill="#3c3c3c"/>
<circle cx="366.2" cy="397.5" r="0.7" fill="#464646"/>
<circle cx="366.4" cy="397.9" r="1.0" fill="#3c3c3c"/>
<circle cx="365.9" cy="398.7" r="0.9" fill="#505050"/>
<circle cx="366.5" cy="397.6" r="0.7" fill="#505050"/>
<circle cx="373.2" cy="403.6" r="2.6" fill="#4e4e4e"/>
<circle cx="373.2" cy="403.6" r="2.1" fill="#7e7e7e"/>
<circle cx="371.9" cy="403.0" r="0.9" fill="#3c3c3c"/>
<circle cx="373.2" cy="403.2" r="0.8" fill="#c8c8c8"/>
<circle cx="373.9" cy="404.3" r="0.8" fill="#464646"/>
<circle cx="372.2" cy="403.3" r="0.8" fill="#3c3c3c"/>
<circle cx="372.9" cy="404.1" r="1.0" fill="#464646"/>
<circle cx="374.7" cy="408.4" r="2.4" fill="#4e4e4e"/>
<circle cx="374.7" cy="408.4" r="1.9" fill="#7e7e7e"/>
<circle cx="375.6" cy="408.1" r="0.5" fill="#505050"/>
<circle cx="374.4" cy="408.6" r="0.7" fill="#464646"/>
<circle cx="373.7" cy="407.5" r="0.6" fill="#464646"/>
<circle cx="374.2" cy="409.3" r="0.7" fill="#505050"/>
<circle cx="374.3" cy="409.1" r="1.0" fill="#505050"/>
<circle cx="363.6" cy="390.9" r="2.6" fill="#4e4e4e"/>
<circle cx="363.6" cy="390.9" r="2.1" fill="#7e7e7e"/>
<circle cx="363.9" cy="391.2" r="1.0" fill="#c8c8c8"/>
<circle cx="363.5" cy="390.6" r="0.8" fill="#464646"/>
<circle cx="364.7" cy="391.4" r="0.6" fill="#464646"/>
<circle cx="362.9" cy="390.1" r="0.9" fill="#3c3c3c"/>
<circle cx="363.6" cy="390.4" r="0.6" fill="#3c3c3c"/>
<circle cx="387.4" cy="427.4" r="2.6" fill="#4e4e4e"/>
<circle cx="387.4" cy="427.4" r="2.1" fill="#7e7e7e"/>
<circle cx="386.8" cy="427.9" r="0.7" fill="#aaaaaa"/>
<circle cx="387.7" cy="427.2" r="0.9" fill="#aaaaaa"/>
<circle cx="386.3" cy="427.5" r="0.9" fill="#aaaaaa"/>
<circle cx="387.0" cy="428.0" r="0.6" fill="#c8c8c8"/>
<circle cx="388.4" cy="426.5" r="0.7" fill="#464646"/>
<circle cx="392.2" cy="432.2" r="2.6" fill="#4e4e4e"/>
<circle cx="392.2" cy="432.2" r="2.1" fill="#7e7e7e"/>
<circle cx="392.4" cy="432.1" r="1.0" fill="#3c3c3c"/>
<circle cx="391.9" cy="432.1" r="0.8" fill="#c8c8c8"/>
<circle cx="392.7" cy="432.8" r="0.8" fill="#b9b9b9"/>
<circle cx="392.3" cy="432.4" r="1.0" fill="#3c3c3c"/>
<circle cx="391.7" cy="432.2" r="0.6" fill="#b9b9b9"/>
<circle cx="385.9" cy="433.8" r="2.4" fill="#4e4e4e"/>
<circle cx="385.9" cy="433.8" r="1.9" fill="#7e7e7e"/>
<circle cx="386.1" cy="434.1" r="1.0" fill="#464646"/>
<circle cx="386.6" cy="433.5" r="0.7" fill="#b9b9b9"/>
<circle cx="386.1" cy="434.0" r="1.0" fill="#c8c8c8"/>
<circle cx="386.0" cy="433.4" r="0.8" fill="#3c3c3c"/>
<circle cx="386.6" cy="434.4" r="0.6" fill="#505050"/>
<circle cx="393.8" cy="438.5" r="2.4" fill="#4e4e4e"/>
<circle cx="393.8" cy="438.5" r="1.9" fill="#7e7e7e"/>
<circle cx="394.3" cy="437.6" r="0.8" fill="#c8c8c8"/>
<circle cx="394.4" cy="438.5" r="1.0" fill="#c8c8c8"/>
<circle cx="395.1" cy="439.2" r="0.8" fill="#505050"/>
<circle cx="394.2" cy="437.0" r="1.0" fill="#3c3c3c"/>
<circle cx="392.5" cy="438.1" r="0.7" fill="#b9b9b9"/>
<circle cx="420.8" cy="368.7" r="2.8" fill="#4e4e4e"/>
<circle cx="420.8" cy="368.7" r="2.2" fill="#7e7e7e"/>
<circle cx="422.2" cy="368.9" r="0.8" fill="#505050"/>
<circle cx="420.7" cy="369.3" r="0.7" fill="#464646"/>
<circle cx="421.2" cy="367.4" r="0.8" fill="#aaaaaa"/>
<circle cx="420.1" cy="367.3" r="0.9" fill="#464646"/>
<circle cx="420.6" cy="368.1" r="0.9" fill="#c8c8c8"/>
<circle cx="427.1" cy="376.6" r="2.8" fill="#4e4e4e"/>
<circle cx="427.1" cy="376.6" r="2.2" fill="#7e7e7e"/>
<circle cx="428.2" cy="377.6" r="0.5" fill="#b9b9b9"/>
<circle cx="428.3" cy="377.9" r="0.8" fill="#b9b9b9"/>
<circle cx="425.5" cy="376.1" r="0.7" fill="#b9b9b9"/>
<circle cx="427.1" cy="376.6" r="0.6" fill="#3c3c3c"/>
<circle cx="425.9" cy="376.1" r="1.0" fill="#464646"/>
<circle cx="431.9" cy="386.1" r="2.4" fill="#4e4e4e"/>
<circle cx="431.9" cy="386.1" r="1.9" fill="#7e7e7e"/>
<circle cx="431.9" cy="385.7" r="1.0" fill="#3c3c3c"/>
<circle cx="432.3" cy="387.5" r="1.1" fill="#464646"/>
<circle cx="431.8" cy="386.2" r="0.8" fill="#3c3c3c"/>
<circle cx="431.9" cy="386.1" r="0.7" fill="#505050"/>
<circle cx="431.3" cy="385.5" r="0.5" fill="#505050"/>
<circle cx="422.4" cy="379.8" r="2.4" fill="#4e4e4e"/>
<circle cx="422.4" cy="379.8" r="1.9" fill="#7e7e7e"/>
<circle cx="422.7" cy="379.4" r="1.1" fill="#c8c8c8"/>
<circle cx="422.7" cy="379.6" r="0.8" fill="#aaaaaa"/>
<circle cx="423.5" cy="378.9" r="0.6" fill="#c8c8c8"/>
<circle cx="421.5" cy="379.1" r="1.1" fill="#aaaaaa"/>
<circle cx="422.2" cy="380.2" r="0.5" fill="#b9b9b9"/>
<circle cx="446.2" cy="365.5" r="3.0" fill="#4e4e4e"/>
<circle cx="446.2" cy="365.5" r="2.4" fill="#7e7e7e"/>
<circle cx="446.7" cy="365.2" r="0.5" fill="#464646"/>
<circle cx="445.7" cy="364.7" r="0.6" fill="#b9b9b9"/>
<circle cx="445.0" cy="364.4" r="0.9" fill="#3c3c3c"/>
<circle cx="447.6" cy="364.4" r="0.8" fill="#aaaaaa"/>
<circle cx="447.1" cy="364.9" r="0.7" fill="#464646"/>
<circle cx="452.5" cy="368.7" r="2.6" fill="#4e4e4e"/>
<circle cx="452.5" cy="368.7" r="2.1" fill="#7e7e7e"/>
<circle cx="453.9" cy="368.6" r="0.9" fill="#505050"/>
<circle cx="452.1" cy="367.9" r="0.9" fill="#b9b9b9"/>
<circle cx="453.3" cy="369.4" r="0.6" fill="#464646"/>
<circle cx="452.1" cy="368.3" r="1.1" fill="#aaaaaa"/>
<circle cx="452.4" cy="368.7" r="0.9" fill="#b9b9b9"/>
<circle cx="449.3" cy="397.3" r="2.6" fill="#4e4e4e"/>
<circle cx="449.3" cy="397.3" r="2.1" fill="#7e7e7e"/>
<circle cx="450.0" cy="398.5" r="0.8" fill="#b9b9b9"/>
<circle cx="449.2" cy="397.1" r="0.8" fill="#b9b9b9"/>
<circle cx="449.1" cy="396.3" r="0.9" fill="#c8c8c8"/>
<circle cx="449.4" cy="398.5" r="0.8" fill="#b9b9b9"/>
<circle cx="449.4" cy="397.4" r="1.1" fill="#505050"/>
<circle cx="452.5" cy="403.6" r="2.6" fill="#4e4e4e"/>
<circle cx="452.5" cy="403.6" r="2.1" fill="#7e7e7e"/>
<circle cx="453.4" cy="403.6" r="0.6" fill="#3c3c3c"/>
<circle cx="452.9" cy="402.0" r="1.0" fill="#505050"/>
<circle cx="452.1" cy="403.5" r="1.0" fill="#464646"/>
<circle cx="452.5" cy="404.3" r="0.8" fill="#505050"/>
<circle cx="453.3" cy="402.8" r="0.8" fill="#c8c8c8"/>
</g>
</g>
<text x="17.20" y="20.20" font-size="15.3" text-anchor="start" font-weight="bold" stroke="#231f20" stroke-width="0.6" stroke-linejoin="round">A</text>
<rect x="74.00" y="9.50" width="17.00" height="9.20" fill="#c72036"/>
<text x="95.30" y="16.90" font-size="9.9" text-anchor="start" font-weight="normal" >No Tf</text>
<rect x="74.00" y="27.70" width="17.00" height="9.20" fill="#10518a"/>
<text x="95.30" y="35.10" font-size="9.9" text-anchor="start" font-weight="normal" >0% Holo-Tf</text>
<rect x="74.00" y="46.00" width="17.00" height="9.00" fill="#3ab54a"/>
<text x="95.30" y="53.30" font-size="9.9" text-anchor="start" font-weight="normal" >100% Holo-Tf</text>
<line x1="74.10" y1="231.30" x2="74.10" y2="239.30" stroke="#231f20" stroke-width="1.2" />
<line x1="70.10" y1="231.30" x2="78.10" y2="231.30" stroke="#231f20" stroke-width="1.2" />
<rect x="66.00" y="238.30" width="16.20" height="8.30" fill="#c72036"/>
<line x1="93.45" y1="194.30" x2="93.45" y2="219.80" stroke="#231f20" stroke-width="1.2" />
<line x1="89.45" y1="194.30" x2="97.45" y2="194.30" stroke="#231f20" stroke-width="1.2" />
<rect x="85.40" y="218.80" width="16.10" height="27.80" fill="#10518a"/>
<line x1="112.90" y1="198.30" x2="112.90" y2="221.00" stroke="#231f20" stroke-width="1.2" />
<line x1="108.90" y1="198.30" x2="116.90" y2="198.30" stroke="#231f20" stroke-width="1.2" />
<rect x="104.80" y="220.00" width="16.20" height="26.60" fill="#3ab54a"/>
<line x1="93.30" y1="246.60" x2="93.30" y2="251.00" stroke="#231f20" stroke-width="1" />
<text x="93.30" y="263.00" font-size="9.9" text-anchor="middle" font-weight="normal" >7</text>
<line x1="151.20" y1="238.00" x2="151.20" y2="243.00" stroke="#231f20" stroke-width="1.2" />
<line x1="147.20" y1="238.00" x2="155.20" y2="238.00" stroke="#231f20" stroke-width="1.2" />
<rect x="143.20" y="242.00" width="16.00" height="4.60" fill="#c72036"/>
<line x1="170.60" y1="144.60" x2="170.60" y2="173.20" stroke="#231f20" stroke-width="1.2" />
<line x1="166.60" y1="144.60" x2="174.60" y2="144.60" stroke="#231f20" stroke-width="1.2" />
<rect x="162.60" y="172.20" width="16.00" height="74.40" fill="#10518a"/>
<line x1="190.00" y1="118.40" x2="190.00" y2="139.80" stroke="#231f20" stroke-width="1.2" />
<line x1="186.00" y1="118.40" x2="194.00" y2="118.40" stroke="#231f20" stroke-width="1.2" />
<rect x="182.00" y="138.80" width="16.00" height="107.80" fill="#3ab54a"/>
<line x1="170.50" y1="246.60" x2="170.50" y2="251.00" stroke="#231f20" stroke-width="1" />
<text x="170.50" y="263.00" font-size="9.9" text-anchor="middle" font-weight="normal" letter-spacing="0.6">11</text>
<line x1="228.20" y1="238.00" x2="228.20" y2="243.00" stroke="#231f20" stroke-width="1.2" />
<line x1="224.20" y1="238.00" x2="232.20" y2="238.00" stroke="#231f20" stroke-width="1.2" />
<rect x="220.20" y="242.00" width="16.00" height="4.60" fill="#c72036"/>
<line x1="247.70" y1="125.10" x2="247.70" y2="168.80" stroke="#231f20" stroke-width="1.2" />
<line x1="243.70" y1="125.10" x2="251.70" y2="125.10" stroke="#231f20" stroke-width="1.2" />
<rect x="239.70" y="167.80" width="16.00" height="78.80" fill="#10518a"/>
<rect x="259.30" y="99.50" width="15.90" height="147.10" fill="#3ab54a"/>
<line x1="247.60" y1="246.60" x2="247.60" y2="251.00" stroke="#231f20" stroke-width="1" />
<text x="247.60" y="263.00" font-size="9.9" text-anchor="middle" font-weight="normal" letter-spacing="0.6">14</text>
<line x1="62.50" y1="69.50" x2="62.50" y2="247.10" stroke="#231f20" stroke-width="1.6" />
<line x1="62.00" y1="246.60" x2="279.00" y2="246.60" stroke="#231f20" stroke-width="1.6" />
<line x1="57.90" y1="246.60" x2="62.50" y2="246.60" stroke="#231f20" stroke-width="1.2" />
<text x="54.50" y="250.20" font-size="10.5" text-anchor="end" font-weight="normal" letter-spacing="0.3">0</text>
<line x1="57.90" y1="209.70" x2="62.50" y2="209.70" stroke="#231f20" stroke-width="1.2" />
<text x="54.50" y="213.30" font-size="10.5" text-anchor="end" font-weight="normal" letter-spacing="0.3">25</text>
<line x1="57.90" y1="172.80" x2="62.50" y2="172.80" stroke="#231f20" stroke-width="1.2" />
<text x="54.50" y="176.40" font-size="10.5" text-anchor="end" font-weight="normal" letter-spacing="0.3">50</text>
<line x1="57.90" y1="135.90" x2="62.50" y2="135.90" stroke="#231f20" stroke-width="1.2" />
<text x="54.50" y="139.50" font-size="10.5" text-anchor="end" font-weight="normal" letter-spacing="0.3">75</text>
<line x1="57.90" y1="99.00" x2="62.50" y2="99.00" stroke="#231f20" stroke-width="1.2" />
<text x="54.50" y="102.60" font-size="10.5" text-anchor="end" font-weight="normal" letter-spacing="0.3">100</text>
<text transform="translate(28.9,159) rotate(-90) scale(0.752,1)" font-size="12" stroke="#231f20" stroke-width="0.3" text-anchor="middle">Cell growth (as % change)</text>
<text transform="translate(170.8,280.7) scale(0.75,1)" font-size="12" stroke="#231f20" stroke-width="0.3" text-anchor="middle">Days of culture</text>
<polyline points="73.30,225.30 73.30,169.20 111.50,169.20 111.50,183.30" fill="none" stroke="#231f20" stroke-width="0.8"/>
<polyline points="73.30,183.90 93.40,183.90 93.40,187.40" fill="none" stroke="#231f20" stroke-width="0.8"/>
<text x="92.90" y="168.75" font-size="9.9" text-anchor="middle" font-weight="normal" stroke="#231f20" stroke-width="0.2">***</text>
<text x="83.40" y="183.25" font-size="9.9" text-anchor="middle" font-weight="normal" stroke="#231f20" stroke-width="0.2">**</text>
<polyline points="150.90,117.40 150.90,93.80 189.90,93.80 189.90,100.60" fill="none" stroke="#231f20" stroke-width="0.8"/>
<polyline points="170.40,138.00 170.40,111.50 189.90,111.50 189.90,118.00" fill="none" stroke="#231f20" stroke-width="0.8"/>
<polyline points="150.90,225.40 150.90,124.80 170.40,124.80" fill="none" stroke="#231f20" stroke-width="0.8"/>
<text x="170.50" y="92.75" font-size="9.9" text-anchor="middle" font-weight="normal" stroke="#231f20" stroke-width="0.2">***</text>
<text x="180.20" y="110.95" font-size="9.9" text-anchor="middle" font-weight="normal" stroke="#231f20" stroke-width="0.2">*</text>
<text x="160.80" y="124.25" font-size="9.9" text-anchor="middle" font-weight="normal" stroke="#231f20" stroke-width="0.2">**</text>
<polyline points="228.20,101.70 228.20,77.70 267.30,77.70 267.30,85.20" fill="none" stroke="#231f20" stroke-width="0.8"/>
<polyline points="247.60,120.00 247.60,93.50 267.30,93.50 267.30,97.60" fill="none" stroke="#231f20" stroke-width="0.8"/>
<polyline points="228.20,225.40 228.20,111.60 247.60,111.60" fill="none" stroke="#231f20" stroke-width="0.8"/>
<text x="247.70" y="76.95" font-size="9.9" text-anchor="middle" font-weight="normal" stroke="#231f20" stroke-width="0.2">***</text>
<text x="257.40" y="92.65" font-size="9.9" text-anchor="middle" font-weight="normal" stroke="#231f20" stroke-width="0.2">*</text>
<text x="238.00" y="110.45" font-size="9.9" text-anchor="middle" font-weight="normal" stroke="#231f20" stroke-width="0.2">*</text>
<text x="315.20" y="20.30" font-size="15.3" text-anchor="start" font-weight="bold" stroke="#231f20" stroke-width="0.6" stroke-linejoin="round">B</text>
<line x1="390.30" y1="95.00" x2="390.30" y2="103.00" stroke="#231f20" stroke-width="1.2" />
<line x1="386.20" y1="95.00" x2="394.40" y2="95.00" stroke="#231f20" stroke-width="1.2" />
<rect x="382.30" y="102.30" width="16.10" height="8.80" fill="#c72036"/>
<line x1="434.70" y1="52.10" x2="434.70" y2="58.00" stroke="#231f20" stroke-width="1.2" />
<line x1="430.80" y1="52.10" x2="438.60" y2="52.10" stroke="#231f20" stroke-width="1.2" />
<rect x="426.90" y="57.10" width="15.90" height="26.20" fill="#10518a"/>
<rect x="426.90" y="90.90" width="15.90" height="20.20" fill="#10518a"/>
<line x1="479.40" y1="47.20" x2="479.40" y2="51.00" stroke="#231f20" stroke-width="1.2" />
<line x1="475.50" y1="47.20" x2="483.30" y2="47.20" stroke="#231f20" stroke-width="1.2" />
<rect x="471.50" y="49.80" width="15.80" height="33.50" fill="#3ab54a"/>
<rect x="471.50" y="90.90" width="15.80" height="20.20" fill="#3ab54a"/>
<line x1="361.00" y1="10.00" x2="361.00" y2="84.40" stroke="#231f20" stroke-width="1.6" />
<line x1="361.00" y1="89.80" x2="361.00" y2="111.60" stroke="#231f20" stroke-width="1.6" />
<line x1="358.60" y1="82.20" x2="363.20" y2="85.90" stroke="#231f20" stroke-width="1.0" />
<line x1="358.60" y1="88.30" x2="363.20" y2="92.00" stroke="#231f20" stroke-width="1.0" />
<line x1="360.50" y1="111.10" x2="504.80" y2="111.10" stroke="#231f20" stroke-width="1.6" />
<line x1="356.00" y1="42.20" x2="361.00" y2="42.20" stroke="#231f20" stroke-width="1.2" />
<line x1="356.00" y1="111.10" x2="361.00" y2="111.10" stroke="#231f20" stroke-width="1.2" />
<text x="353.60" y="45.80" font-size="10.5" text-anchor="end" font-weight="normal" letter-spacing="0.3">100</text>
<text x="352.60" y="84.60" font-size="10.5" text-anchor="end" font-weight="normal" letter-spacing="0.3">75</text>
<text x="352.60" y="94.80" font-size="10.5" text-anchor="end" font-weight="normal" letter-spacing="0.3">25</text>
<text x="352.30" y="114.80" font-size="10.5" text-anchor="end" font-weight="normal" >0</text>
<line x1="390.30" y1="111.10" x2="390.30" y2="115.40" stroke="#231f20" stroke-width="1" />
<text x="389.70" y="126.00" font-size="9.9" text-anchor="middle" font-weight="normal" >No-Tf</text>
<line x1="434.70" y1="111.10" x2="434.70" y2="115.40" stroke="#231f20" stroke-width="1" />
<text x="434.10" y="126.00" font-size="9.9" text-anchor="middle" font-weight="normal" >Apo-Tf</text>
<line x1="479.40" y1="111.10" x2="479.40" y2="115.40" stroke="#231f20" stroke-width="1" />
<text x="478.80" y="126.00" font-size="9.9" text-anchor="middle" font-weight="normal" >Holo-Tf</text>
<text transform="translate(326.2,60.8) rotate(-90) scale(0.72,1)" font-size="12" stroke="#231f20" stroke-width="0.3" text-anchor="middle">% CD41</text>
<polyline points="384.20,89.00 384.20,22.80 479.40,22.80 479.40,42.00" fill="none" stroke="#231f20" stroke-width="0.8"/>
<polyline points="390.30,89.00 390.30,41.90 428.80,41.90 428.80,45.80" fill="none" stroke="#231f20" stroke-width="0.8"/>
<polyline points="434.70,51.50 434.70,38.50 474.10,38.50 474.10,42.00" fill="none" stroke="#231f20" stroke-width="0.8"/>
<text x="432.00" y="22.25" font-size="9.9" text-anchor="middle" font-weight="normal" stroke="#231f20" stroke-width="0.2">***</text>
<text x="409.60" y="41.55" font-size="9.9" text-anchor="middle" font-weight="normal" stroke="#231f20" stroke-width="0.2">***</text>
<text x="454.20" y="37.75" font-size="9.9" text-anchor="middle" font-weight="normal" stroke="#231f20" stroke-width="0.2">*</text>
<text x="315.40" y="162.60" font-size="15.3" text-anchor="start" font-weight="bold" stroke="#231f20" stroke-width="0.6" stroke-linejoin="round">C</text>
<line x1="390.30" y1="187.20" x2="390.30" y2="195.00" stroke="#231f20" stroke-width="1.2" />
<line x1="386.40" y1="187.20" x2="394.20" y2="187.20" stroke="#231f20" stroke-width="1.2" />
<rect x="382.30" y="193.70" width="16.10" height="52.90" fill="#c72036"/>
<line x1="434.70" y1="185.60" x2="434.70" y2="189.00" stroke="#231f20" stroke-width="1.2" />
<line x1="430.80" y1="185.60" x2="438.60" y2="185.60" stroke="#231f20" stroke-width="1.2" />
<rect x="426.90" y="187.80" width="15.90" height="58.80" fill="#10518a"/>
<line x1="479.40" y1="184.40" x2="479.40" y2="190.00" stroke="#231f20" stroke-width="1.2" />
<line x1="475.50" y1="184.40" x2="483.30" y2="184.40" stroke="#231f20" stroke-width="1.2" />
<rect x="471.50" y="189.00" width="15.80" height="57.60" fill="#3ab54a"/>
<line x1="361.00" y1="172.20" x2="361.00" y2="247.10" stroke="#231f20" stroke-width="1.6" />
<line x1="360.50" y1="246.60" x2="504.80" y2="246.60" stroke="#231f20" stroke-width="1.6" />
<line x1="356.00" y1="246.60" x2="361.00" y2="246.60" stroke="#231f20" stroke-width="1.2" />
<text x="352.90" y="250.20" font-size="10.5" text-anchor="end" font-weight="normal" letter-spacing="0.3">0</text>
<line x1="356.00" y1="221.97" x2="361.00" y2="221.97" stroke="#231f20" stroke-width="1.2" />
<text x="352.90" y="225.57" font-size="10.5" text-anchor="end" font-weight="normal" letter-spacing="0.3">25</text>
<line x1="356.00" y1="197.34" x2="361.00" y2="197.34" stroke="#231f20" stroke-width="1.2" />
<text x="352.90" y="200.94" font-size="10.5" text-anchor="end" font-weight="normal" letter-spacing="0.3">50</text>
<line x1="356.00" y1="172.71" x2="361.00" y2="172.71" stroke="#231f20" stroke-width="1.2" />
<text x="352.90" y="176.31" font-size="10.5" text-anchor="end" font-weight="normal" letter-spacing="0.3">75</text>
<line x1="390.30" y1="246.60" x2="390.30" y2="250.90" stroke="#231f20" stroke-width="1" />
<text x="389.70" y="262.30" font-size="9.9" text-anchor="middle" font-weight="normal" >No-Tf</text>
<line x1="434.70" y1="246.60" x2="434.70" y2="250.90" stroke="#231f20" stroke-width="1" />
<text x="434.10" y="262.30" font-size="9.9" text-anchor="middle" font-weight="normal" >Apo-Tf</text>
<line x1="479.40" y1="246.60" x2="479.40" y2="250.90" stroke="#231f20" stroke-width="1" />
<text x="478.80" y="262.30" font-size="9.9" text-anchor="middle" font-weight="normal" >Holo-Tf</text>
<text transform="translate(326.2,209) rotate(-90) scale(0.725,1)" font-size="12" stroke="#231f20" stroke-width="0.3" text-anchor="middle">% CD42b in MKs</text>
<text x="17.30" y="308.20" font-size="15.3" text-anchor="start" font-weight="bold" stroke="#231f20" stroke-width="0.6" stroke-linejoin="round">D</text>
<text x="94.70" y="324.60" font-size="12.3" text-anchor="middle" font-weight="normal" letter-spacing="0.12">No Tf</text>
<text x="261.40" y="324.60" font-size="12.3" text-anchor="middle" font-weight="normal" letter-spacing="0.12">0% Holo-Tf</text>
<text x="425.30" y="324.60" font-size="12.3" text-anchor="middle" font-weight="normal" letter-spacing="0.12">100% Holo-Tf</text>
<line x1="16.50" y1="479.20" x2="50.80" y2="479.20" stroke="#231f20" stroke-width="1.1" />
<text x="55.60" y="483.20" font-size="12" text-anchor="start" font-weight="normal" letter-spacing="0.55">100 µm</text>
<rect x="0" y="0" width="520" height="1.4" fill="#050203"/>
<rect x="0" y="0" width="1.5" height="496" fill="#050203"/>
<rect x="518.2" y="0" width="1.8" height="496" fill="#050203"/>
<rect x="0" y="493.8" width="520" height="2.2" fill="#050203"/>
</svg></body></html>
